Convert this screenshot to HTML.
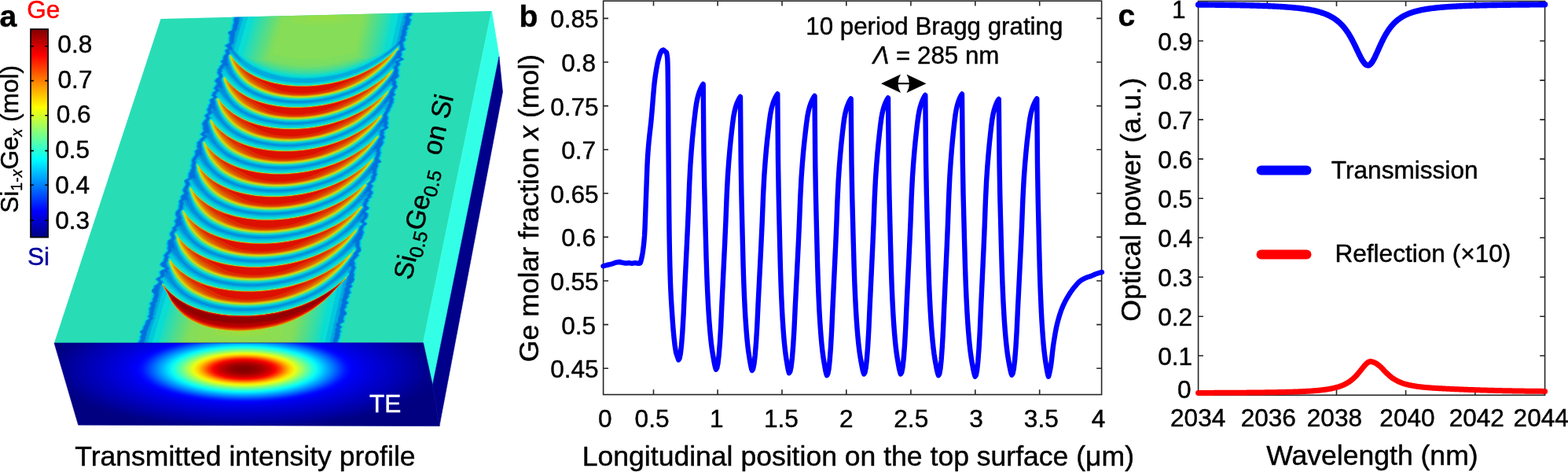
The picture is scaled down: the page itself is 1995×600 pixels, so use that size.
<!DOCTYPE html>
<html><head><meta charset="utf-8"><title>Figure</title>
<style>html,body{margin:0;padding:0;background:#fff;overflow:hidden}svg{display:block}</style>
</head><body>
<svg width="1995" height="600" viewBox="0 0 1995 600">
<rect width="1995" height="600" fill="#fff"/>
<defs>
<clipPath id="topc"><polygon points="204.5,24 625.5,14 538.5,435.7 69,436"/></clipPath>
<clipPath id="wgc"><polygon points="299.4,8 529.6,8 432.1,442 171.5,442"/></clipPath>
<linearGradient id="cbg" x1="0" y1="0" x2="0" y2="1"><stop offset="0.0000" stop-color="#800000"/><stop offset="0.0625" stop-color="#bf0000"/><stop offset="0.1250" stop-color="#ff0000"/><stop offset="0.1875" stop-color="#ff4000"/><stop offset="0.2500" stop-color="#ff8000"/><stop offset="0.3125" stop-color="#ffbf00"/><stop offset="0.3750" stop-color="#ffff00"/><stop offset="0.4375" stop-color="#bfff40"/><stop offset="0.5000" stop-color="#80ff80"/><stop offset="0.5625" stop-color="#40ffbf"/><stop offset="0.6250" stop-color="#00ffff"/><stop offset="0.6875" stop-color="#00bfff"/><stop offset="0.7500" stop-color="#0080ff"/><stop offset="0.8125" stop-color="#0040ff"/><stop offset="0.8750" stop-color="#0000ff"/><stop offset="0.9375" stop-color="#0000bf"/><stop offset="1.0000" stop-color="#000080"/></linearGradient>
<radialGradient id="modeg" gradientUnits="userSpaceOnUse" cx="0" cy="0" r="260.0" gradientTransform="translate(310.7 469.3) scale(1 0.31)"><stop offset="0.0000" stop-color="#800000"/><stop offset="0.0250" stop-color="#840000"/><stop offset="0.0500" stop-color="#8d0000"/><stop offset="0.0750" stop-color="#9c0000"/><stop offset="0.1000" stop-color="#b40000"/><stop offset="0.1250" stop-color="#d10000"/><stop offset="0.1500" stop-color="#f80000"/><stop offset="0.1750" stop-color="#ff3b00"/><stop offset="0.2000" stop-color="#ff8b00"/><stop offset="0.2250" stop-color="#ffd100"/><stop offset="0.2500" stop-color="#ecff13"/><stop offset="0.2750" stop-color="#b0ff4f"/><stop offset="0.3000" stop-color="#77ff88"/><stop offset="0.3250" stop-color="#41ffbe"/><stop offset="0.3500" stop-color="#0ffff0"/><stop offset="0.3750" stop-color="#00dfff"/><stop offset="0.4000" stop-color="#00b2ff"/><stop offset="0.4250" stop-color="#0089ff"/><stop offset="0.4500" stop-color="#005fff"/><stop offset="0.4750" stop-color="#0035ff"/><stop offset="0.5000" stop-color="#0011ff"/><stop offset="0.5250" stop-color="#0000fc"/><stop offset="0.5500" stop-color="#0000f0"/><stop offset="0.5750" stop-color="#0000e7"/><stop offset="0.6000" stop-color="#0000e0"/><stop offset="0.6250" stop-color="#0000d9"/><stop offset="0.6500" stop-color="#0000d2"/><stop offset="0.6750" stop-color="#0000cb"/><stop offset="0.7000" stop-color="#0000c4"/><stop offset="0.7250" stop-color="#0000be"/><stop offset="0.7500" stop-color="#0000b7"/><stop offset="0.7750" stop-color="#0000b1"/><stop offset="0.8000" stop-color="#0000aa"/><stop offset="0.8250" stop-color="#0000a3"/><stop offset="0.8500" stop-color="#00009c"/><stop offset="0.8750" stop-color="#000094"/><stop offset="0.9000" stop-color="#00008d"/><stop offset="0.9250" stop-color="#000087"/><stop offset="0.9500" stop-color="#000084"/><stop offset="0.9750" stop-color="#000081"/><stop offset="1.0000" stop-color="#000080"/></radialGradient>
<filter id="blr" x="0" y="0" width="100%" height="100%" filterUnits="userSpaceOnUse" color-interpolation-filters="sRGB"><feGaussianBlur stdDeviation="0.7"/></filter>
</defs>
<polygon points="204.5,24 625.5,14 538.5,435.7 69,436" fill="#28ddb5"/>
<g clip-path="url(#topc)"><g clip-path="url(#wgc)"><g filter="url(#blr)">
<polygon points="299.4,8 529.6,8 432.1,442 171.5,442" fill="#0052dd"/>
<path d="M559.5 441.5 150 441.5 150 8 559.5 8 559.5 441.5Z" fill="#0070dd" fill-rule="evenodd"/>
<path d="M176.5 441.5 150 441.5 150 8 303.5 8 303.8 9 303.6 9.5 300.5 11.5 300.3 12 302.2 13.5 302.6 14 302.6 14.5 301 16.4 300.9 18 299 22 298.7 24 297.9 25.5 298.6 28 298.2 30 296.7 32.5 297.2 34.5 296.5 36 296.5 37.5 295.7 38.5 291.6 40.5 290.8 41.5 293.2 44.5 293 47 292.4 49 292.9 50.5 292.5 52.5 293.1 54 292.1 55 288.1 57 287.5 58 288.3 59 290.4 60.5 290.9 61.5 287.3 64 288.4 68 285.5 71 284.8 73 284.7 75.5 281.8 78 281.9 78.5 283.6 80 283.9 81 280.4 84.5 279.9 86.5 277.7 88.5 278.1 90.5 277.2 92.5 278.6 94.5 279.6 97 279.1 98 275.8 100.5 274.2 102.5 274.3 103.5 276.4 105.5 276.7 106.5 274.6 110 272.9 112 273.2 113 274.9 114.5 275 115 274.5 115.7 271.5 117.5 271.1 119.5 270.1 121 270.3 121.5 272.6 123.5 272 124.2 267.9 126.5 267.7 127 268.7 131 268.1 132 266.5 133.5 266.3 134 266.5 136 264.2 139 264.3 140 265.4 142 265.4 143.5 261.9 146 261.4 147 261.6 148 263.3 149.5 263.4 150.5 260.4 153.5 258.2 157 258.1 158 259.2 160 259.1 164 260.1 166 259.5 167 256 170.7 256.5 171.5 259.1 173 259.5 174 255.6 176.5 255 178.5 251.7 181 251.9 184.5 251.1 186.5 252.2 188 252.2 189 251.5 190 248.9 192 248.8 192.5 249.4 194.5 249 197.5 246.1 201 244.8 204 245.3 207 244.1 210.5 244.8 213 244.7 214 243 216 242.8 218 240.9 220.5 240.9 226 239.8 227 235.9 229 235.2 230 236.5 232 237.3 234.5 235.5 238 234 240 233.7 241 233.6 243 235.3 245.5 234.6 246.5 231.4 249 230.8 250.5 231.4 253 228.3 255.5 229.3 258.5 228.3 262 228.7 265 224.8 269 224.1 272 224.8 274.5 226.1 276.5 225.3 278 222.6 281 224.4 283.5 224 286 223 287.4 220.1 289.5 220.7 291.5 220.5 292 217.1 296.5 217.2 298.5 218.9 301.5 219.1 302.5 218.3 303.5 215.2 305.5 214.3 306.5 214.5 308 213.7 310 214.8 312.5 213.6 315.5 214.7 318.5 209.3 324.5 209.4 325.5 210.6 327 209.3 329 209.3 331 208.2 332.5 205.6 334.5 205 335.5 205 336.5 205.7 338 207 339 210.2 340.5 210.7 341 210.7 341.5 205.6 344 204.5 345 204 346 204.9 348 205 351 200.7 353.5 200 354 199.6 355 200.1 356 202.7 358 202.8 359 201.1 361 196.8 363.5 197 366 193.3 369 193.4 370 196.4 373 197 374 196.4 377.5 194.9 380 195.2 382.5 192 385 191.5 386 192.8 388 193 389 190.5 392.8 191.4 395 190.5 397 191.2 399.5 188.8 402 190.7 404.5 190 405.5 187.5 407 186.6 408 186 411 184.5 414 183 416.1 182.9 418.5 178.9 421.5 178.9 422 181 424.5 180.5 426 179.3 428 179.6 431 175.2 437.5 176.5 441.5ZM422.5 441.5 181.3 441.5 181.3 438 184.5 430.5 184.7 428 186 424.5 185.9 421.5 187.8 418.5 188.3 416 190.5 411 191.2 408 194.6 404.5 193.3 402 195.2 399.5 194.9 397 195.7 395 195.4 393 197.3 389 197.1 385.5 199.5 382.5 199.5 380 200.9 377 201.5 374 201 371.5 201.2 369.5 202.7 366 203.4 363 205.5 361 205.7 359.5 206.2 359 206.2 358 204 356.4 203.1 354.5 204.2 353.5 208.8 351 209.4 348 208.5 346.5 209 345.8 210.5 346 213 348.5 213.5 348.1 212.8 344 213.2 343 214.7 341.5 214.7 341 211.7 338.5 210.6 335.5 210.7 334.5 212.8 331 212.7 329 213.8 327.5 213.9 327 212.6 325 212.7 324.5 214.9 322.5 216.3 320.5 219 318.5 219.2 318 218.2 316 218.5 315.3 219.5 315.3 222 317.7 222.5 317.8 222.6 317.5 221.9 313 220.2 306.5 220.4 305.5 222.3 303 222.5 302 221 299 220.5 297.5 220.6 296.5 224 292 224.1 291 223.5 290 224 289 228.5 286.8 229.5 286.7 231 287.2 231.6 287 231.3 284 230.1 280.5 230.5 276.5 228.8 272 228.8 269 229.5 267.6 232.2 265 231.8 262 232.9 258.5 232.7 257.5 231.8 256 232.3 255 235 253.9 236.5 253.7 237.8 254.5 240 257 240.2 256.5 238.4 249 238.5 248 239.5 245.5 238.1 243 237.9 241 238.3 239 240.8 234.5 240 232 238.7 230 238.8 229.5 240.3 228.5 245.5 226.3 246.5 226.2 249 227.2 249 225.9 247.6 220 247.6 216 248.4 214 247.7 210.5 248.6 207 248.2 204 249.9 200.5 254 196.4 255 196.6 257 198.2 257.5 198.3 257.6 198 256.2 192 256.8 188.5 255.8 186.5 256.1 184.5 255.5 181 256 180.2 258.3 178.5 259.1 176.5 263.3 174 263.4 173.5 262.9 173 259.6 171 260 170 262 168.9 263.5 168.6 266 169.5 266.1 166 263.6 156.5 264.3 153.5 266.5 150.8 266.8 150 265.1 148 264.8 147 265.3 146 269 143.5 269 142 267.8 139.5 268 138.8 268.8 138 270 137.5 271 137.5 271.8 138 274 140.7 274.5 140.6 273.1 134 273.3 131 272.3 126.5 273.1 125.5 275.6 124 275.8 123.5 273.7 121.5 273.5 121 274.8 119 275 117.5 278.9 115 278.9 114.5 276.5 112.5 277 111.6 278.5 110.9 279.5 110.8 280.8 111.5 282.5 113.3 282.6 113 281.8 106 280.2 102.5 280.7 100 282.5 98 282.9 97 282 94.5 280.7 92.5 281.5 90.5 281.1 88.5 283.4 86.5 283.9 84.5 286 83.3 288 83.5 290 85.8 290.5 86 290 81 288.7 77.5 289.3 75.5 289 73 289.2 71 289.8 70 291.4 68.5 291.9 67.5 290.7 64 292 63.1 295 62.9 295.5 62.4 295.6 61.5 295.1 60.5 293.3 58 294.2 56.5 296.3 55 297.1 54 296.7 52.5 297.2 50.5 297.1 49 298.1 44.5 297.9 41.5 298.6 40 300.3 38.5 300.9 37.5 301 36 301.7 34.5 301.6 32.5 302.8 30 303.3 28 303.3 25.5 306.3 16 307.2 14.5 306.7 12 308.5 9.5 308.6 8 518.8 8 518.8 10 519.8 13 519.3 14.5 517.8 16.5 517.9 19 515.5 22 515.7 23 516.8 25 515.5 29 515.4 31 513 34 513.6 36.5 511.8 39 512.1 41 511.5 44.5 509.8 47.5 510.4 49.5 510.2 50 506.3 55 506.2 55.5 506.5 55.6 508 55.5 508.7 56 509.5 59 509.6 62.5 509 63.5 506 65.8 504.7 70 499 79 500.1 78.5 503.5 74.5 505 73.6 507.5 73.9 509 74.8 509.4 75.5 507.9 76.5 503 78.5 502.9 79 504.4 80.5 504.7 81.5 504.1 83 501.5 85.5 502.3 88 502 90.5 500.8 93 500.1 95.5 496 101 493.8 105 497 103 498 102.8 499 103.3 499.9 104.5 499.5 107 500.6 109 500.7 110 499.8 112 497.8 114 497.1 116 496 118 495.9 120 493.6 123 492.3 125.5 487.6 132.5 488 132.6 488.5 132.1 493.9 126.5 495 125.8 496 125.8 496.5 126.4 495.9 128.5 496.4 130.5 494.3 133 493.9 135.5 492.5 137.7 491.6 140.5 488 145.8 488.4 148.5 487.1 151.5 481.3 161 481.5 161.1 482.5 160.3 486.8 156 488.5 155.5 489.1 156 489.1 156.5 488 160 489.7 161.5 489.9 162.5 485.9 165 483.9 167 483.8 167.5 484.8 169 483.6 171 484.3 173 484.1 174.5 481.5 178 480.6 181 474.5 190 474.5 190.5 477.5 189 479 189.5 479.6 190.5 479 192 480.3 194.5 479.5 196 478.9 198.5 477.4 201 477.7 204.5 477.3 205.5 474.5 208.5 473.4 211 468.2 219 468.5 219.1 472 216.2 473.5 215.8 474.8 217 474.3 219.5 475.6 221.5 473.7 224.5 473.3 227.5 471.6 230.5 467.8 233.5 469 235.5 468.8 236.5 466.4 240 464.9 243.5 461.5 248.5 461.5 249 467 243.9 468.5 243.6 469.5 244 469.9 244.5 469.5 246.5 467.6 248.5 468.1 250.5 464.7 253 464.3 254 464.9 255.5 464.7 256 463 257.5 462.8 258 463.1 259 462.1 261 463.6 263 463.6 264.5 462.1 266.5 460 268.5 459.8 271 454.8 278.5 455 278.7 456 277.9 461.5 272.6 462.5 272.1 463 272.4 463.6 275 463.3 276 461.8 278 459.5 280 459.1 281 459.5 282 462.2 284 462.2 285 458.5 288 458.2 289.5 457.3 291 456.5 295.5 447.9 309 448 309.2 450.5 307.7 451.5 307.4 453 308.6 453.4 309.5 452.9 312 454.4 315.5 454.3 318 453.5 319.5 450.8 322 450.6 324.5 445.4 331 444.3 334.5 440.9 340 444 338.1 445.5 337.7 447.5 339 448.1 340.5 445.5 346 445.6 347 444.3 349 443.3 353 442.9 356.5 440.8 361.5 441 364.5 439.2 367 439.3 372 437.6 375 437.4 378 435.6 381 435.6 382 436.3 385 434.6 387.5 434.8 390 433.1 393 433 394.5 433.5 398 433.2 399.5 431.6 403 431 406 430.9 409 430.3 410 427.5 412.5 428.9 415.5 428.5 416.5 427.1 418.5 427.6 421.5 426.5 424 426.5 426.5 423.6 435.5 423.8 437.5 421.7 440 422.9 441.5 422.5 441.5ZM559.5 441.5 427.8 441.5 426.1 440.5 425.8 440 428.9 437.5 428.1 435.5 429.2 433.5 429.5 431.5 430.6 430 430.7 428.5 431.7 426.5 431.1 424 432.8 421.5 432.7 420.5 431.4 419 431.4 418.5 433.5 416.5 434 415.5 431.6 413 431.5 412.5 432.5 411.5 435.7 410 436.9 409 436 406 436.7 402.5 437.3 401.5 439.8 399.5 440.3 398.5 439.9 397.5 437.8 395 437.5 393.5 437.8 392.5 440.1 390 439.2 388 439.3 387.5 442.3 385.5 442.6 385 440.3 382.5 440 381 442.8 377.5 442.5 375 442.7 374.5 445.5 372.5 445.8 372 444.3 370 443.9 367 447.2 364.5 447.2 363.5 445.9 362 445.7 361 447.4 359.5 450.3 356 450.1 355 449 353 450.1 348.5 448.9 346.5 449.9 344.5 450.4 342.5 451.6 340.5 451.4 339.5 450.2 337.5 450.9 334.5 449.7 332.5 449.5 331.5 450.8 329.5 455.3 325 455.6 324 454.6 322.5 454.6 322 458 319.5 458.7 318.5 458 315.7 456.4 312 457 309.5 456.6 306.5 457.1 305.5 459.5 303 459.6 301 460.6 299.5 461 297.5 461.9 296 462 295.3 461 293.5 460.7 291.5 462 288 462.9 287 466.2 285 466.3 284.5 465.9 284 463.5 282.5 462.7 281 463.1 280 466 277.2 467.1 275 467.2 271.5 464.5 269.5 464.1 269 464.2 268.5 467.5 266 468.6 264.5 468.3 263.5 466.1 262 465.3 261 466.2 259.5 466.4 257.5 468.4 255.5 467.9 253.5 471.6 250.5 471.1 248.5 473 246.5 473.5 245.1 473.3 244 471.1 241.5 471.6 239.5 473.5 237 473.6 236 471.3 234 471.1 233.5 475.3 230.5 476.8 227.5 477.1 224.5 478.9 222 479 221.5 477.8 219.5 477.8 219 478.5 217.5 478.2 215 480.3 211.5 479.6 208.5 480.5 207.8 484.6 206 484.8 205.5 481.8 203 480.8 201 482.4 198.5 482.8 196 483.7 194.5 483.7 194 482.6 192 483.1 190.5 482.6 188.5 486 183.5 487.1 181 487 180 486 178 488.7 175 488.5 173.5 486.9 171 488.2 169 487.3 167.5 487.3 167 489.4 165 493.3 162.5 493.1 161.5 491.6 160 493 156 491.8 153.5 492.7 151.5 492.8 149 491.3 146 495 140.5 495.7 138 497.3 135.5 497.8 133 499.9 130.5 499.4 128.5 500.2 126 499.1 124 499.1 123 502 120.5 502.2 120 500.5 118.5 500.3 117.5 501.2 116 501.4 114 503.8 112 504.5 111 504.4 109.5 503 107 503.4 104.5 502.1 101.5 502.7 100.5 505.3 98.5 506.9 96 505.4 93.5 506.1 90 504.9 85.5 508 82 508.1 81 506.9 79.5 506.7 79 506.9 78.5 511.4 76.5 512.8 75.5 512.1 74.5 509.1 72.5 509.2 71.5 510.3 70 509.7 66 510.7 65 514.7 63 514.7 62.5 513.1 60.5 511.7 54 514.4 52 515.1 51 514.9 49.5 513.9 47.5 514.3 46.5 516.1 44.5 516 43 516.5 41 515.9 39.5 516 39 518.4 36.5 517.3 34.5 517.3 33.5 520.8 31 520.4 29 522.4 25.5 521.9 24.5 519.9 23 519.6 22 520.4 21 523.1 19 523.3 18.5 522.4 16.5 526 13.5 525.7 12.5 523.5 10.5 522.9 9 522.9 8 559.5 8 559.5 441.5Z" fill="#008edd" fill-rule="evenodd"/>
<path d="M175.5 441.5 150 441.5 150 8 302.8 8 303.1 9 302.8 9.5 299.7 11.5 299.5 12 301.4 13.5 301.9 14 301.8 14.5 300.4 16 300.2 18 298 22.5 297.9 24 297.2 25.5 297.9 28 297.2 30.5 296 32.5 296.5 34.5 295.7 36 295.7 37.5 295 38.5 290.9 40.5 290.1 41.5 292.5 44.5 292.3 47 291.7 49 292.2 50.5 291.7 52.5 292.3 54 291.4 55 287.4 57 286.7 58 287.5 59 289.6 60.5 290.1 61.5 286.5 64 287.7 68 284.8 71 284.1 73 284 75.5 281 78 281.1 78.5 282.8 80 283.2 81 279.6 84.5 279.1 86.5 276.9 88.5 277.4 90.5 276.4 92.5 277.9 94.5 278.8 97 278.4 98 275.1 100.5 273.5 102.5 273.6 103.5 275.7 105.5 275.9 106.5 273.9 110 272.2 112 272.4 113 274.2 114.5 274.3 115 274 115.5 270.7 117.5 270.4 119.5 269.4 121 269.5 121.5 271.9 123.5 271.5 124 267.1 126.5 267 127 267.9 130.5 267.8 131.5 265.7 133.5 265.5 134 265.7 136 263.5 139 263.6 140 264.6 142 264.7 143.5 261.2 146 260.7 147 260.9 148 262.5 149.5 262.7 150.5 259.7 153.5 257.4 157 257.4 158 258.4 160 258.4 164 259.4 166 257.4 168.5 255.2 170.5 255.8 171.5 258.3 173 258.8 174 254.9 176.5 254.2 178.5 250.9 181 251.2 184.5 250.3 186.5 251.4 188 251.5 189 250.7 190 248.2 192 248 192.5 248.7 194.5 248.2 197.5 245.3 201 244.1 204 244.5 207 243.4 210.5 244 213 244 214 242.3 216 242 218 240.2 220.5 239.9 223.5 240.1 226 239 227 235.2 229 234.5 230 235.8 232 236.6 234.5 234.7 238 233.2 240 232.9 241 232.9 243 234.5 245.5 233.9 246.5 230.6 249 230.1 250.5 230.7 253 227.5 255.5 228.6 258.5 227.6 262 227.9 265 224 269 223.4 272 224.1 274.5 225.3 276.5 224.6 278 221.8 281 223.7 283.5 223.2 286 222.2 287.5 219.3 289.5 220 291.5 219.8 292 216.3 296.5 216.4 298.5 218.1 301.5 218.3 302.5 217.5 303.5 214.4 305.5 213.5 306.5 213.7 308 212.9 310 214 312.5 212.8 315.5 214 318.5 208.6 324.5 208.6 325.5 209.8 327 208.6 329 208.5 331 207.5 332.5 204.9 334.5 204.2 335.5 204.2 336.5 205 338 206.3 339 209.4 340.5 210 341 209.9 341.5 204.9 344 203.8 345 203.3 346 204.1 348 204.3 351 199.9 353.5 199.3 354 198.8 355 199.4 356 202 358 202 359 200.3 361 196 363.5 196.2 366 192.6 369 192.6 370 195.7 373 196.2 374 195.7 377.5 194.1 380 194.5 382.5 190.9 385.5 191 386.5 192 388 192.2 389 189.8 392.5 189.9 393.5 190.7 395 189.8 397 190.4 399.5 188.1 402 190 404.5 189.3 405.5 186.8 407 185.8 408 185.2 411 183.7 414 182.3 416 182.2 418.5 178.2 421.5 178.2 422 180.3 424.5 179.8 426 178.5 428 178.9 431 174.5 437.5 174.6 438.5 175.9 441.5 175.5 441.5ZM390 128.5 375.5 128.8 361 127.7 347 125.3 334.5 121.8 323.5 117.2 314 111.8 310 108.9 305.5 104.9 301.8 101 299.2 97.5 295.7 91.5 292.8 84.5 290.5 77.5 290 72 290.6 70 292.9 68 292.8 66 292 64.5 292.3 64 292.9 64 301 72.9 305.5 76.6 308.6 78.5 298.8 66.5 296.3 62.5 296.3 61 295.4 59.5 295.3 58.5 296 56.5 298.5 54 298.2 52.5 298.7 50.5 298.6 49 299.7 45 300 42 300.6 40 302.4 37.5 303.2 34.5 303.3 32.5 304.8 28 305.1 25.5 308 16 308.8 14.5 308.8 12 310.1 9.5 310.4 8 517.3 8 517.8 13 517.4 14.5 516.3 16.5 516.2 19 514.1 22 514.2 23 515 24.5 514.9 25.5 513.8 29 513.5 31.3 511.6 34 512 36.5 510.4 39 510.6 41 510 44.5 508.5 47 508.8 49.5 508.5 51.5 505 55.7 499.5 61.2 484.9 73.5 488.6 71.5 494.5 67.5 499.5 63.6 505.5 58.1 507 57.3 508.5 58 508.7 58.5 508.5 62.5 507.4 64 505.4 65.5 503.4 70 496.2 79.5 490.6 86 485.5 91.2 476.5 98.8 465.5 106.2 455 111.9 442.5 117.3 431 121.2 417.5 124.7 403.5 127.2 390 128.5ZM559.5 441.5 428.6 441.5 426.8 440.5 426.6 440 429.6 437.5 428.8 435.5 430 433.5 430.3 431.5 431.3 430 431.4 428.5 432.4 426.5 431.9 424 433.6 421.5 433.4 420.5 432.2 419 432.1 418.5 434.3 416.5 434.7 415.5 432.3 413 432.2 412.5 433.2 411.5 436.4 410 437.6 409 436.8 406 437.4 402.5 438.1 401.5 440.5 399.5 441 398.5 440.7 397.5 438.6 395 438.2 393.5 438.6 392.5 440.9 390 439.9 388 440 387.5 443.1 385.5 443.3 385 441 382.5 440.7 381 443.6 377.5 443.2 375 443.4 374.5 446.3 372.5 446.5 372 445.1 370 444.6 367 448 364.5 447.9 363.5 446.6 362 446.5 361 448.2 359.5 451 356 450.9 355 449.8 353 450.8 348.5 449.7 346.5 450.7 344.5 451.2 342.5 452.3 340.5 452.1 339.5 450.9 337.5 451.7 334.5 450.4 332.5 450.3 331.5 452 329 456.1 325 456.3 324 455.3 322.5 455.3 322 458.8 319.5 459.4 318.5 458.7 315.5 457.2 312 457.7 309.5 457.4 306.5 457.9 305.5 460.2 303 460.3 301 461.3 299.5 461.7 297.5 462.7 296 462.7 295 461.8 293.5 461.5 291.5 462.7 288 463.7 287 466.9 285 467 284.5 466.6 284 464.3 282.5 463.4 281 463.8 280 466.6 277.5 467.9 275 467.9 271.5 465.2 269.5 464.9 269 465 268.5 468.3 266 469.4 264.5 469.1 263.5 466.9 262 466.1 261 467 259.5 467.2 257.5 469.1 255.5 468.6 253.5 472.4 250.5 471.9 248.5 473.7 246.5 474.2 245.5 474.1 244 471.8 241.5 472.4 239.5 474.2 237 474.4 236 472 234 471.9 233.5 476.1 230.5 477.6 227.5 477.8 224.5 479.6 222 479.6 221 478.8 220 478.6 219 479.2 217.5 478.9 215 481 211.5 480.4 208.5 481.8 207.5 484.5 206.5 485.3 206 485.5 205.5 483 203.5 481.7 201.5 481.8 200.5 483.2 198.5 483.6 196 484.4 194.5 484.4 194 483.3 192 483.8 190.5 483.3 188.5 486.5 184 487.8 181 487.8 180 486.7 178 489.4 175 489.2 173.5 487.6 171 488.9 169 488 167.5 488.1 167 490.1 165 494.1 162.5 493.8 161.5 492.3 160 493.7 156 492.6 153.5 493.5 151.5 493.6 149 492.1 146 495.7 140.5 496.4 138 498 135.5 498.6 133 500.6 130.5 500.2 128.5 501 126 499.8 124 499.8 123 502.8 120.5 502.9 120 501.3 118.5 501 117.5 501.9 116 502.1 114 504.6 112 505.2 111 505.2 109.5 503.7 107 504.2 104.5 502.9 101.5 503.4 100.5 506 98.5 507.6 96 506.1 93.5 506.1 92.5 506.9 90.5 506.5 88 505.7 85.5 508.2 83 508.9 81.5 508.6 80.5 507.4 79 507.6 78.5 512.2 76.5 513.6 75.5 512.9 74.5 509.9 72.5 510 71.5 511.1 70 510.5 66 511.5 65 515.4 63 515.4 62.5 513.8 60.5 512.5 54 515.1 52 515.8 51 515.7 49.5 514.6 47.5 516.8 44.5 516.7 43 517.3 41 516.6 39.5 516.7 39 519.1 36.5 518.1 34.5 518.1 33.5 521.5 31 521.2 29 523.1 25.5 522.6 24.5 520.6 23 520.4 22 521.2 21 523.8 19 524 18.5 523.2 16.5 525.9 14.5 526.7 13.5 526.5 12.5 524.2 10.5 523.6 8 559.5 8 559.5 441.5ZM505 77 504.1 77 504.1 76.5 505.5 74.8 507 74.4 508 75 508.2 75.5 507.7 76 505 77ZM378 156 368.5 156 357 155.3 348 154.2 338 152.2 329 149.7 320 146.3 311.5 142.2 305 138.2 299.5 133.8 294.2 128.5 290.2 123 287.3 117.5 284.7 111 281.8 102 281.8 100 283.3 98 283.6 97 282.7 94.5 281.5 92.5 281.8 91.5 282.7 90.5 282.2 88.5 285.5 86 286.5 86.1 294.5 97.3 306.4 109 310.9 112.5 315.5 115.5 321.1 118.5 327.7 121.5 334.5 124 341.1 126 355.7 129 370.5 130.5 386 130.6 400.1 129.5 417.9 126.5 433 122.5 448 117 459.7 111.5 470 105.5 476.6 101 488.5 92 494 87.1 500.7 80.5 502 80 503 80.4 503.5 81 503.5 82 503 82.8 500.4 85.5 500.6 86.5 501.4 87 501.6 87.5 501.4 90 498.9 95 487.7 109.5 482 115.7 475 122.2 467 128.3 458.5 133.8 450.5 138.1 440.5 142.7 430 146.7 420 149.7 409.5 152.3 398.5 154.2 389 155.3 378 156ZM378 183.5 367.5 184 356 183.7 345 182.7 333.5 180.8 323.5 178.2 315 175.3 307 171.8 299 167.3 292.5 162.4 286.4 156.5 282.7 151.5 279.3 145.5 275 134 274.5 130.7 273.4 127 273.5 126 276.5 123.5 277.1 123.5 274.9 122 274.3 121 275.7 119.5 276.1 117.5 278.5 116.3 280.5 116.4 287 125 295.5 133.5 299.5 137 304.2 140.5 309 143.5 314.9 146.5 321.9 149.5 334.4 153.5 349.7 156.5 358.8 157.5 367 158 382 157.8 399.2 156 414.7 153 430.3 148.5 445.6 142.5 457.5 136.5 468.5 129.5 484.3 117.5 497 105.2 498 104.8 498.5 105 498.3 107 499.8 109 499.6 111 496.9 114 494.5 120 486.8 130.5 479.3 139.5 472 146.9 465 152.8 456.5 158.8 448 163.9 439 168.3 429.5 172.3 419.5 175.8 409 178.7 399.5 180.7 390 182.3 378 183.5ZM368 212.5 357 212.8 345.5 212.3 335 211.2 324.5 209.3 314.5 206.7 306 203.7 298.5 200.3 291 196.1 285 191.7 279.4 186.5 275.6 182 272.2 176.5 268.8 168.5 265.1 157 265.2 153.5 267.5 150 268 150 265.8 148 265.6 147 267.2 145.5 270.5 143.8 272 143.9 279.5 153.4 287.7 161.5 293 166 298 169.5 304.2 173 310.6 176 318.6 179 331.3 182.5 346.8 185 363 186 378.2 185.5 394.9 183.5 411.5 180 427.6 175 443 168.5 449.8 165 456.5 161 470 151.5 476.5 146.5 481.5 142.1 493 130 494 129.4 495 129.9 494.9 131 492.8 133.5 492.7 135.5 491.2 138 490.9 139 491.2 139.5 490.9 140.5 487.2 146 487.5 148 487.2 149 483.7 154.5 479.1 160.5 472 169 464.5 176.4 458 181.8 449.5 187.7 441 192.7 433 196.7 422 201.3 412 204.7 401 207.7 391 209.8 378 211.7 368 212.5ZM358.5 241.5 348 241.7 337.5 241.2 328 240.2 317 238.3 308.5 236.2 299.5 233.2 291.5 229.8 284 225.8 278 221.6 272.5 216.8 268.1 212 264.7 207 261.7 201 258.2 191.5 257.9 188.5 257 186 256.4 181.5 256.7 180.5 258.5 178.9 259.5 178.5 260 176.9 260.9 176 263.5 175 265.1 175 270.5 181.5 278.1 189 282.5 193 287 196.5 292.6 200 299.5 203.5 306.8 206.5 314.2 209 326.6 212 340.3 214 354.5 214.8 369 214.5 386.8 212.5 401.9 209.5 417.3 205 431.4 199.5 444.5 193 456.9 185 472 173.5 479 167 485 160.6 486.5 160.2 488.9 162 488.5 163 484.7 165 482.7 167 483 168 484.1 169 482.9 171 483.4 173 483.1 174.5 480.5 178 479.6 180 477.9 182.5 468.4 194.5 462.5 200.9 455.5 207.4 448.5 212.7 441 217.7 433 222.2 423.5 226.7 413.5 230.7 402.5 234.3 391 237.2 380.5 239.2 369.5 240.7 358.5 241.5ZM344.5 271 333.5 270.8 322.5 269.8 312 268.2 303 266.2 293.5 263.3 286 260.3 277 255.8 271 251.9 265 246.9 259.9 241.5 255.8 235.5 252.8 229 249.5 220 248.8 216 249.4 213.5 248.7 210.5 249.4 206.5 249.5 205.5 249 205 250.8 201 252.5 199.6 254 199.7 261.5 209.7 273.7 221.5 278.3 225 282.9 228 288.5 231 295.2 234 308.4 238.5 322.2 241.5 329.1 242.5 340.5 243.5 356 243.6 371.5 242.5 389.8 239.5 405.3 235.5 419.5 230.5 433.8 224 446.5 216.5 463.5 204 476 192.5 477.5 192.2 479 193.8 479.1 194.5 478.3 196 478.6 196.5 478.2 198.5 476.6 201 476.7 203 476 205 467.6 216.5 460.6 225 454.5 231.4 448 237.2 439 243.8 431 248.8 421.5 253.8 411 258.3 400 262.2 389.5 265.2 378 267.7 368 269.3 355 270.6 344.5 271ZM347 300.5 336 300.9 324.5 300.6 311.5 299.3 300 297.3 290 294.7 281.5 291.8 272.5 287.7 264.5 283.1 258 278.1 252.3 272.5 248.2 267 245.2 261.5 240.6 249 240.3 247.5 240.5 245.5 239.1 242 239.1 239.5 240.4 236.5 241.5 235.5 241.9 234.5 241.1 232 240 230.5 240 229.5 242.8 228 245 228 249.5 234.6 253 239 265 250.5 269.5 254 274.9 257.5 280.6 260.5 287.4 263.5 300.9 268 315.1 271 322.4 272 332.5 272.8 349.3 273 367 271.5 384.2 268.5 399.3 264.5 414.5 259 422.5 255.5 429.4 252 437 247.5 443 243.5 458.9 231.5 471 219.8 472.5 219.3 474.2 221 474.3 222 472.8 224 472.1 228 470.3 231 467.1 233.5 468 235.5 467.7 236.5 462.9 243.5 456.2 252 450 258.9 442.5 265.9 435.5 271.3 428 276.3 420 280.9 411 285.2 401 289.2 390.5 292.8 379.5 295.7 369.5 297.8 357 299.6 347 300.5ZM339 330.5 326.5 330.9 314 330.4 303 329.2 291.5 327.2 280.5 324.3 271 320.8 261.5 316.3 254 311.7 247.2 306 241.6 300 237.8 294 234.1 285.5 232 279.5 231.7 276.5 230.1 272 229.8 269.5 230.2 268 233.2 265 232.9 262 234.5 258 234.4 257.5 233.3 256 233.5 255.6 234.5 255.4 235 255.8 235.8 257.5 243.5 267.9 255.4 279.5 264.1 286 274.5 291.5 281.9 294.5 289.4 297 297 299 304.5 300.5 320.3 302.5 329.8 303 339.4 303 349.1 302.5 358.9 301.5 376.5 298.5 393.3 294 408.4 288.5 421.2 282.5 433 275.5 451.3 262 461.2 253 464.5 249.4 466 249.1 466.8 250 466.6 251 464.1 252.5 463.1 253.5 463.8 255.5 461.9 257.5 461.9 259 462.2 259.5 461.4 261 462.8 263 462.7 264 459 268.5 458 271 452.2 278.5 445 286.9 438 293.8 430.5 299.8 422.5 305.3 414 310.2 404.5 314.8 393.5 319.3 383 322.8 372 325.7 362 327.8 349 329.6 339 330.5ZM460 278.1 459.3 278 461 276.1 461.3 276.5 460 278.1ZM332 361 320.5 361.5 309 361.2 298 360.2 285.5 358.2 275 355.7 264.5 352.2 255.5 348.2 247.5 343.7 240.5 338.3 234.1 332 229.9 326 226.7 319.5 222 306 222.2 304.5 223.5 302.5 221.8 298.5 221.6 296.5 222.5 295 223.2 294.5 225.2 292 225.4 291.5 224.9 289.5 225.5 288.9 227 288.6 228.3 289 232.5 295 236 299.1 245.2 308 250 312 258.3 317.5 268.6 322.5 281.4 327 289.1 329 296.6 330.5 312.9 332.5 330.5 333 346.5 332 363.8 329.5 380.9 325.5 396 320.5 411.1 314 418.6 310 425.1 306 443.1 293 456 281.4 457.5 281.1 458.9 282.5 461.3 284 461.4 285 457.8 288 456.4 291 455.6 294.5 454.8 296 446.3 307.5 438.5 316.8 433 322.4 427.5 327.2 420 332.7 412 337.8 404 342.2 394 346.8 383.5 350.8 374 353.8 364.5 356.3 354.5 358.3 341.5 360.2 332 361ZM318.5 392.5 308 392.6 297 392.1 285 390.8 274 388.8 264.5 386.3 255.5 383.2 246.5 379.3 239.5 375.4 233 370.7 226.8 365 223.1 360.5 219.7 355 215.2 344 215 343 215.6 341 213.5 338.5 212.3 335 212.5 333.5 213.7 331 213.5 329 215.1 327 213.4 325 217.5 320.8 218.5 320.4 219.7 320.5 227.5 330 236.9 339 242.5 343.5 248.6 347.5 254.3 350.5 261 353.5 269.3 356.5 282.4 360 298 362.5 313.5 363.6 330 363.3 347.9 361.5 364.1 358.5 380.4 354 389 351 397.5 347.5 409.8 341.5 421.1 334.5 437.4 322.5 449.5 311.4 451 310.4 451.5 310.8 451.8 312.5 453.5 315.5 453.5 317.5 453.2 318.5 452.1 320 449.9 322 449.4 324.5 445 330 442.7 334 439.3 338.5 431.5 347.8 424 355.2 415 362.3 406 368.2 397 373.2 387 377.7 376.5 381.8 365.5 385.2 353.5 388.2 342 390.3 330 391.8 318.5 392.5ZM421 441.5 182.9 441.5 183.3 438 186.1 430.5 186.4 428 187.7 424.5 188 421.9 189.5 418.5 190 416.1 192.1 411 192.8 408 195.9 404.5 194.8 402 196.6 399.5 196.4 397 197.2 395 197 393 198.8 389 198.9 385.5 200.9 382.5 201.1 380 202.3 377.5 203 374 203 371 205.2 363.5 206 362 206 360 207.3 359 207.2 358 204.2 355.5 204.2 354.5 205.3 353.5 208 352.3 210 351.8 211 352.1 218.5 361.2 227.8 370 234 375 243 380.5 255.6 386 263.2 388.5 270.7 390.5 277.9 392 287.7 393.5 305 394.8 322.5 394.5 341.6 392.5 359.4 389 376.5 384 391.7 378 404.6 371.5 417 363.5 430.5 353.5 437 347.7 444.5 340.2 446 339.6 446.7 340 446.7 341 445.7 342.5 445.3 344.5 444.4 346 444.6 347 445.2 347.5 443.9 349 443.9 349.5 441.7 352 440.6 357 439.2 361 438.9 364.5 437.7 367 437.1 372.5 436 375 435.5 378.4 434.1 381 434.3 385 433.1 387.5 433 390 431.6 393 431.5 397.5 429.9 403 428.9 409 428.1 410.5 426.1 412.5 427 414.5 427.2 415.5 425.6 418.5 426 421 424.9 424 424.7 426.5 423.9 430 422.1 435.5 422.2 437.5 420.3 440 421 441.5Z" fill="#00abdd" fill-rule="evenodd"/>
<path d="M175 441.5 150 441.5 150 8 302.1 8 302.4 9 302.1 9.5 299 11.5 298.8 12 300.7 13.5 301.1 14 301.1 14.5 299.7 16 299.5 18 297.3 22.5 297.2 24 296.5 25.5 297.1 28 296.5 30.5 295.3 32.5 295.7 34.5 295 36 295 37.5 294.2 38.5 290.1 40.5 289.3 41.5 291.7 44.5 291.6 47 290.9 49 291.4 50.5 291 52.5 291.6 54 290.6 55 286.6 57 286 58 286.8 59 288.9 60.5 289.4 61.5 285.8 64 287 68 284.1 71 283.4 73 283.3 75.5 280.3 78 280.4 78.5 282.1 80 282.5 81 278.9 84.5 278.4 86.5 276.2 88.5 276.6 90.5 275.7 92.5 277.1 94.5 278.1 97 277.6 98 274.3 100.5 272.8 102.5 272.9 103.5 275 105.5 275.2 106.5 273.2 110 271.5 112 271.7 113 273.4 114.5 273.6 115 273.3 115.5 270 117.5 269.7 119.5 268.7 121 268.8 121.5 271.1 123.5 270.8 124 266.4 126.5 266.2 127 266.9 129 267 131.5 265 133.5 264.8 134 265 136 262.7 139 262.9 140 263.9 142 264 143.5 260.5 146 259.9 147 260.2 148 261.8 149.5 262 150.5 258.9 153.5 256.7 157 256.7 158 257.7 160 257.7 164 258.6 166 256.7 168.5 254.9 170 254.6 171 257.6 173 258 174 254.2 176.5 253.5 178.5 250.2 181 250.5 184.5 249.6 186.5 250.7 188 250.8 189 250 190 247.5 192 247.3 192.5 247.9 194.5 247.5 197.5 244.6 201 243.4 204 243.8 207 242.6 210.5 243.2 214 241.6 216 241.3 218 239.5 220.5 239.2 223.5 239.4 226 238.3 227 234.4 229 233.7 230 235.1 232 235.9 234.5 234 238 232.5 240 232.2 241 232.2 243 233.8 245.5 233.1 246.5 229.9 249 229.4 250.5 230 253 226.8 255.5 227.9 258.5 226.8 262 227.2 265 223.3 269 222.7 272 223.4 274.5 224.6 276.5 223.9 278 221.1 281 222.9 283.5 222.5 286 221.4 287.5 218.6 289.5 219.2 291.5 219.1 292 215.6 296.5 215.7 298.5 217.4 301.5 217.6 302.5 216.8 303.5 213.7 305.5 212.8 306.5 213 308 212.2 310 213.3 312.5 212.1 315.5 213.3 318.5 207.8 324.5 207.9 325.5 209.1 327 207.8 329 207.8 331 206.8 332.5 204.1 334.5 203.5 335.5 203.5 336.5 204.3 338 205.6 339 208.7 340.5 209.3 341 209.2 341.5 204.2 344 203.1 345 202.6 346 203.4 348 203.6 351 199.2 353.5 198.6 354 198.1 355 198.7 356 201.2 358 201.3 359 199.6 361 195.3 363.5 195.5 366 191.9 369 191.9 370 195 373 195.5 374 195 377.5 193.4 380 193.8 382.5 190.1 385.5 190.2 386.5 191.3 388 191.5 389 189.1 392.5 189.2 393.5 190 395 189.1 397 189.7 399.5 187.3 402 189.3 404.5 188.5 405.5 186.1 407 185.1 408 184.5 411 183 414 181.6 416 181.4 418.5 177.4 421.5 177.4 422 179.6 424.5 179.1 426 177.8 428 178.2 431 173.8 437.5 175 441.5ZM400 99.5 385.5 99.9 371 99.2 357.5 97.3 344.5 94.1 333 90.1 322 84.8 312 78.2 304 71 300.1 66.5 297.7 63 298.5 61.5 298.6 59.5 299.4 56.5 300.7 54 301.7 49 313.7 8 514.9 8 514.4 12 512.7 19.5 511.8 22 511.6 24.5 510.1 31 509.1 34 507 44.5 506.1 47 505.6 51 504.3 54 504.1 55.5 500 59.7 493.5 65.2 484 72.1 473 78.6 462 84.1 450.5 88.7 438.5 92.7 426 95.8 413 98.1 400 99.5ZM559.5 441.5 429.3 441.5 427.5 440.5 427.3 440 430.3 437.5 429.5 435.5 430.7 433.5 431 431.5 432.1 430 432.1 428.5 433.1 426.5 432.6 424 434.3 421.5 434.2 420.5 432.9 419 432.9 418.5 435 416.5 435.5 415.5 433 413 432.9 412.5 433.9 411.5 437.2 410 438.3 409 437.5 406 438.2 402.5 438.8 401.5 441.2 399.5 441.7 398.5 441.4 397.5 439.3 395 439 393.5 439.3 392.5 441.6 390 440.6 388 440.7 387.5 443.8 385.5 444 385 441.7 382.5 441.4 381 444.3 377.5 443.9 375 444.1 374.5 447 372.5 447.2 372 445.8 370 445.3 367 448.7 364.5 448.6 363.5 447.3 362 447.2 361 448.9 359.5 451.7 356 451.6 355 450.5 353 451.5 348.5 450.4 346.5 451.4 344.5 451.9 342.5 453.1 340.5 452.9 339.5 451.6 337.5 452.4 334.5 451.1 332.5 451 331.5 452.5 329.3 456.8 325 457 324 456 322.5 456 322 459.5 319.5 460.1 318.5 459.4 315.5 457.9 312 458.4 309.5 458.1 306.5 458.6 305.5 460.9 303 461.1 301 462 299.5 462.5 297.5 463.4 296 463.4 295 462.5 293.5 462.2 291.5 463.4 288 464.4 287 467.7 285 467.7 284.5 467.3 284 465 282.5 464.1 281 464.5 280 467.3 277.5 468.6 275 468.7 271.5 465.9 269.5 465.6 269 465.7 268.5 469 266 470.1 264.5 469.8 263.5 467.6 262 466.8 261 467.7 259.5 467.9 257.5 469.8 255.5 469.4 253.5 473.1 250.5 472.6 248.5 474.5 246.5 474.9 245.5 474.8 244 472.5 241.5 473.1 239.5 474.9 237 475.1 236 472.8 234 472.6 233.5 476.8 230.5 478.3 227.5 478.5 224.5 480.3 222 480.3 221 479.5 220 479.3 219 479.9 217.5 479.7 215 481.7 211.5 481.1 208.5 482.5 207.5 485.5 206.3 486.2 205.5 483.7 203.5 482.4 201.5 482.5 200.5 483.9 198.5 484.3 196 485.1 194.5 485.2 194 484 192 484.6 190.5 484 188.5 487.2 184 488.5 181 488.5 180 487.4 178 490.2 175 489.9 173.5 488.3 171 489.6 169 488.7 167.5 488.8 167 490.8 165 494.8 162.5 494.5 161.5 493 160 494.4 156 493.3 153.5 494.2 151.5 494.3 149 492.8 146 496.4 140.5 497.2 138 498.8 135.5 499.3 133 501.3 130.5 500.9 128.5 501.7 126 500.6 124 500.6 123 503.5 120.5 503.7 120 502 118.5 501.8 117.5 502.7 116 502.9 114 505.3 112 505.9 111 505.9 109.5 504.4 107 504.9 104.5 503.6 101.5 504.1 100.5 506.8 98.5 508.3 96 506.8 93.5 506.8 92.5 507.6 90.5 507.3 88 506.4 85.5 508.9 83 509.6 81.5 509.3 80.5 508.1 79 508.4 78.5 512.9 76.5 514.3 75.5 513.6 74.5 510.6 72.5 510.7 71.5 511.8 70 511.2 66 512.2 65 516.2 63 516.1 62.5 514.5 60.5 513.2 54 515.8 52 516.5 51 516.4 49.5 515.3 47.5 515.5 46.9 517.6 44.5 517.5 43 518 41 517.3 39.5 517.4 39 519.9 36.5 518.8 34.5 518.8 33.5 522.2 31 521.9 29 523.8 25.5 523.3 24.5 521.4 23 521.1 22 521.9 21 524.5 19 524.7 18.5 523.9 16.5 526.6 14.5 527.4 13.5 527.2 12.5 524.9 10.5 524.4 8 559.5 8 559.5 441.5ZM390.5 127 379.5 127.4 368.5 126.9 358.5 125.8 350 124.3 341.5 122.3 334 119.8 326.5 116.7 319 112.9 313.5 109.3 308 104.7 302.6 99 299.3 94.5 295.6 88 291.8 78 290.8 73 291.1 70 292.5 68.7 293 69 294 68.5 295 68.7 299 73.2 303 77 310 82.9 315 86.5 320.7 90 326.5 93 339 98 352 101.5 366 103.9 380.5 105 395 104.9 410 103.5 426 100.6 441.5 96.5 455.4 91.5 467.5 86 479 79.6 494.5 69 499.5 65 506 58.9 507 58.6 507.4 59 508 58.6 508.3 59 508 62 507.5 63 504.8 65.5 503.7 68 502.1 70.5 496.3 78 490.5 84.6 484 90.9 478 95.9 470.5 101.4 463.5 105.8 456 109.9 447.5 113.8 438.5 117.3 429 120.4 419.5 122.9 409.5 124.8 399 126.3 390.5 127ZM378.5 154.5 367 154.5 358 153.9 349.5 152.8 339 150.8 330 148.3 322 145.3 314.5 141.8 307 137.4 301 132.6 295.4 127 291.3 121.5 287.9 115.5 285.2 109 282.6 101 282.6 100 284.1 97 283.5 95 282.1 92.5 282.2 92 283 91.8 283.9 90.5 283.7 88.5 284.5 88 285.5 88.2 289.7 94.5 293.3 99 304.6 110 312.9 116 322.5 121.1 335.3 126 349.3 129.5 364.5 131.6 380 132.2 395.5 131.4 411.5 129.2 427 125.7 441.7 121 456.9 114.5 469.5 107.5 476.2 103 485.5 96.2 498 85.6 498.5 85.6 500 87.3 501 87.2 501.1 88 500.7 90 498 95 490.2 105 483.5 112.5 477 118.7 470 124.4 461.5 130.3 454 134.8 446 138.8 436.5 142.8 428 145.9 418 148.8 407 151.3 398 152.8 389 153.9 378.5 154.5ZM378 182 368.5 182.4 358 182.3 347 181.3 337 179.8 328 177.8 318.5 174.8 310 171.2 302.5 167.3 296.5 163.2 291 158.4 286 153 282.2 147.5 278.3 139.5 275.9 133 274.2 127 274.3 126 275.2 125 277 123.9 277.5 124.2 278.2 123.5 276 121.6 275.5 122 275 121.5 276.9 119.5 277.5 118 278.5 117.7 287 128 294.5 135.3 299.6 139.5 304.6 143 310 146.1 316.5 149.2 323.8 152 337 155.8 351.5 158.3 366.5 159.5 382 159.3 398 157.6 414 154.6 428.8 150.5 443.4 145 456.8 138.5 469.5 130.6 484 119.6 496 108.2 497 108 498.5 109 499.3 109 498.9 111 496.4 114 493.6 120 485.3 131 478.8 138.5 473 144.2 466.5 149.8 458.5 155.8 451.5 160.2 444 164.3 435.5 168.3 426.5 171.9 416 175.3 406.5 177.8 396.5 179.8 386 181.3 378 182ZM366.5 211 357 211.2 346.5 210.8 337 209.8 325.5 207.8 316 205.3 307.5 202.4 299.5 198.8 292.5 194.8 286.5 190.4 280.8 185 276.2 179.5 272.2 173 269.3 166 265.9 156 265.8 154.5 266.4 152.5 267.6 151 268 150.7 268.6 151 269.1 150 267.3 148 267.1 147.5 267.3 146.5 269 145.4 270.6 145.5 275.1 151.5 279 156 287 163.7 293.1 168.5 301.5 173.7 312.1 178.5 319.1 181 326 183 340.5 185.8 356.5 187.3 372.5 187.4 389.5 185.8 406.5 182.7 421.9 178.5 437.5 172.6 450 166.6 462 159.2 475.5 149.2 481.5 144.1 489.5 136.5 490 136.1 490.3 136.5 489.8 137.5 489.4 140.5 490 140.2 490.3 140.5 489 142.4 488.5 141.8 488.3 142 489 142.5 486.7 146 486.4 149 482.3 155 475.4 163.5 469.5 169.8 462 176.7 454 182.9 445 188.8 437.5 192.9 428 197.3 417.5 201.3 408 204.3 398 206.8 387.5 208.8 376.5 210.3 366.5 211ZM486 163.5 485 163.7 484.5 163.5 486 161.8 487 161.7 487.5 162 487.5 162.5 486 163.5ZM357.5 240 348.5 240.1 339 239.7 329.5 238.7 318 236.8 310 234.8 301 231.9 293.5 228.7 286 224.8 280 220.7 275 216.5 270.2 211.5 266.2 206 262.9 200 259.3 191 257.8 186 257.3 180.5 259 179 259.5 179.3 260.6 178.5 261.9 176.5 263.5 176.5 268.5 182.5 271.9 186 279.3 193 285 197.5 290.5 201 296.2 204 303 207 310 209.5 323 213 337 215.3 351.5 216.4 366.5 216.2 382.5 214.7 397.7 212 412.9 208 428 202.6 439.3 197.5 450 191.5 457.5 186.5 468 178.8 480 168.3 481.5 168.1 482.5 169 481.3 171 481.5 171.5 482 171.1 482.4 171.5 482.8 172.5 482.1 175 475.3 184.5 466.1 195.5 458.5 202.9 452.5 207.9 445 213.4 437 218.4 428.5 222.8 419.5 226.8 409 230.7 399 233.8 390.5 235.8 379.5 237.9 368 239.3 357.5 240ZM355 269 344.5 269.4 334 269.2 323.5 268.3 311.5 266.4 303 264.4 293.5 261.3 285 257.8 276.5 253.2 269.5 248.2 264 243 259.7 238 255.3 231 252.3 224 249.7 216 250.1 213.5 249.3 211 249.3 209.5 249.9 207 250.5 207.5 250.9 207 250.5 205 250.6 204 252 202.5 252.5 202.4 253.5 202.9 258.1 209 262 213.4 270 221 276.3 226 285.3 231.5 296 236.3 309.5 240.6 324.5 243.6 340.5 245.1 357.5 245.2 375 243.6 392 240.6 408.5 236.1 423.4 230.5 436.1 224.5 448.5 217 464 205.6 476 194.5 477 194 477.5 194.2 476.9 196.5 477 198 477.5 197.7 477.8 198 476.1 201 475.9 203.5 475.4 204.5 468.7 213.5 462.2 221.5 456.5 227.6 448.5 234.9 440 241.3 433 245.9 425 250.4 415.5 254.8 406.5 258.4 396 261.9 386.5 264.4 377 266.3 367 267.9 355 269ZM345.5 299 334.5 299.3 323 298.8 313 297.8 301.5 295.8 291.5 293.3 283 290.4 274 286.3 266 281.7 259.5 276.7 253.8 271 249.2 265 245.8 259 241.7 248.5 241.3 245.5 240.2 243 239.9 241.5 239.8 240 241 236.5 242 236.3 243.2 234.5 242.7 232 241.4 230.5 241.5 229.6 242.5 229.3 243.2 229.5 246.5 234.5 251.9 241 264 252.4 273 258.7 284 264.1 290.5 266.7 298 269 305.8 271 314 272.6 331 274.4 348.5 274.6 366.5 273.2 384.5 270 401.2 265.5 417.3 259.5 430.5 253.1 442.9 245.5 458.5 233.9 464.5 228.5 471.5 221.6 472 221.3 472.9 221.5 473 222 471.3 224.5 471.2 226 472 226.5 471.6 228 469.7 231 466.6 233.5 467.3 235.5 466.9 236.5 461.7 243.5 455.2 251.5 449.5 257.5 442 264.3 433.5 270.8 426.5 275.4 418.5 279.9 409 284.4 399 288.3 388.5 291.8 378.5 294.4 366 296.8 354.5 298.3 345.5 299ZM337 329 326.5 329.3 315.5 328.8 305 327.8 293.5 325.8 285 323.7 276 320.8 267.5 317.2 260 313.3 253.5 308.8 248.5 304.4 243.1 298.5 239.2 293 236.2 287 233.2 279 230.7 271 230.6 269 231.2 267.5 232.1 266.5 232.5 266.3 233 266.5 234.1 265.5 234.7 264.5 234.6 262.5 235 261.9 235.5 261.8 244.7 272.5 252.7 280 258.5 284.7 264 288.3 270 291.5 277 294.6 284.9 297.5 298 301 313.1 303.5 328.5 304.6 344 304.4 360 303 377 300 393.5 295.6 408.8 290 421.5 284.1 432.8 277.5 448.9 266 461 255.6 462.1 255.5 462.1 256 460.2 257.5 460.7 259 459.8 261 460 261.4 461 261.3 462 263 461.9 264 458.2 268.5 457.6 270 455.7 272.5 448.3 281.5 442.5 287.6 435 294.4 426.5 300.8 417 306.8 409.5 310.8 399.5 315.3 389 319.3 379 322.3 369 324.8 358 326.8 346.5 328.3 337 329ZM329.5 359.5 318.5 359.8 307 359.3 297 358.3 285.5 356.4 277 354.4 267.5 351.3 259 347.7 251.5 343.8 245 339.3 239.5 334.5 234.4 329 230.3 323 227.3 317 223.2 306 223.1 304.5 224 302.5 222.2 297.5 222.2 296.5 222.7 295.5 223 295.1 223.5 295.4 226 292.9 227.5 292.7 236 302.4 243.6 309.5 249.1 314 254.3 317.5 260 320.7 267 323.9 274 326.6 288 330.6 303 333.2 319 334.5 335.5 334.4 352 333 369 330.1 384.7 326 400.3 320.5 414.5 314 428.1 306 444 294.4 449.7 289.5 456.5 283 458 282.9 460.7 284 460.8 284.5 460.2 285.5 457.3 288 455.9 291 454.8 294.5 453.9 296 445.8 306.5 438 315.5 431.5 321.7 424 327.8 417 332.8 409 337.7 401 341.9 391 346.3 381.5 349.8 371.5 352.8 361.5 355.3 350.5 357.3 339 358.8 329.5 359.5ZM324.5 390.5 313.5 391 302 390.7 291 389.8 278.5 387.9 269.5 385.8 260 382.9 251.5 379.4 242.5 374.8 236 370.4 230 365 224.6 359 220.7 353 216.5 343.5 216.3 342.5 216.5 341 214.9 339 213.3 334.5 213.4 333.5 214.1 331.5 214.1 329 215 327.8 215.6 328 216.2 327 215.1 325.5 215 324.5 217 323.1 218.5 323.1 227 332.8 234.6 340 240 344.4 245 347.8 250 350.6 256.5 353.7 263.4 356.5 277 360.6 292.5 363.6 309 365.1 326 365.2 343 363.8 360.2 361 376.2 357 392 351.6 406.6 345 420.4 337 436.5 325.4 449.5 313.8 450.5 313.6 452.9 315.5 452.4 318.5 449.3 322 448.9 324 448.2 325 439.2 337 431.5 345.9 425.5 351.8 419.5 356.8 412 362.4 403.5 367.8 396 371.9 386 376.4 377 379.9 366.5 383.3 356.5 385.9 346.5 387.9 336.5 389.4 324.5 390.5ZM417.5 441.5 186 441.5 195.9 408 197.8 404.5 197.7 402 198.8 399.5 200.3 393 208.4 365.5 207.5 363.5 206.5 362.5 206.1 361.5 206.1 360.5 206.4 360 207.2 360.5 208.6 358.5 208 357.5 205.4 355.5 205.4 354.5 206.9 353.5 208 353.3 209 353.6 212.9 358.5 217.4 363.5 225.5 371.1 231 375.5 240.5 381.5 251.5 386.5 258.5 389.1 266 391.3 273.5 393 282 394.5 299 396.3 317 396.5 335.5 395 353.5 392 370.5 387.7 386.5 382 400.5 375.6 413.5 368 428.8 357 442.5 345.3 443.3 347 444.7 348 443.9 349 443.8 349.5 441.5 352 441.4 352.5 437.5 356.5 437.5 357 436.7 358 425 410 423.9 412.5 423.9 415 418.7 438 417.9 440 417.9 441.5 417.5 441.5Z" fill="#00c9dd" fill-rule="evenodd"/>
<path d="M174 441.5 150 441.5 150 8 301.2 8 301.5 9 301.3 9.5 298.5 11.2 298 12 299.9 13.5 300.3 14 300.3 14.5 298.8 16 298.6 18 296.7 22 296.4 24 295.7 25.5 296.3 28 295.9 30 294.4 32.5 294.9 34.5 294.2 36 294.2 37.5 293.4 38.5 289.3 40.5 288.5 41.5 290.9 44.5 290.7 47 290.1 49 290.6 50.5 290.2 52.5 290.8 54 289.8 55 285.8 57 285.2 58 286 59 288.1 60.5 288.6 61.5 285 64 286.1 68 283.2 71 282.5 73 282.4 75.5 279.5 78 279.6 78.5 281.5 80.3 281.6 81 278.1 84.5 277.6 86.5 275.3 88.5 275.8 90.5 274.9 92.5 276.3 94.5 277.3 97 276.8 98 273.5 100.5 271.9 102.5 272 103.5 274.1 105.5 274.4 106.5 272 110.5 270.6 112 270.9 113 272.6 114.5 272.7 115 272.4 115.5 269.2 117.5 268.8 119.5 267.8 121 268 121.5 270.3 123.5 270 124 265.6 126.5 265.4 127 266.3 130.5 266.2 131.5 264.2 133.5 264 134 264.2 136 261.9 139 262 140 263.1 142 263.1 143.5 259.6 146 259.1 147 259.3 148 261 149.5 261.1 150.5 258.1 153.5 255.9 157 255.8 158 256.9 160 256.8 164 257.8 166 255.9 168.5 253.7 170.5 254.2 171.5 256.8 173 257.2 174 253.3 176.5 252.7 178.5 249.3 181 249.6 184.5 248.8 186.5 249.9 188 249.9 189 249.2 190 246.6 192 246.5 192.5 247.1 194.5 246.7 197.5 243.8 201 242.5 204 243 207 241.8 210.5 242.5 213.5 242.2 214.5 240.7 216 240.5 218 238.6 220.5 238.4 223.5 238.6 226 237.5 227 233.6 229 232.9 230 234.2 232 235 234.5 233.2 238 231.7 240 231.4 241 231.3 243 233 245.5 232.3 246.5 229.1 249 228.5 250.5 229.1 253 226 255.5 227 258.5 226 262 226.4 265 222.5 269 221.8 272 222.5 274.5 223.8 276.5 223 278 220.3 281 222.1 283.5 221.7 286 220.6 287.5 217.8 289.5 218.4 291.5 218.2 292 214.8 296.5 214.9 298.5 216.6 301.5 216.7 302.5 216 303.5 212.9 305.5 212 306.5 212.2 308 211.4 310 212.5 312.5 211.3 315.5 212.4 318.5 207 324.5 207.1 325.5 208.3 327 207 329 207 331 205.9 332.5 203.3 334.5 202.7 335.5 202.7 336.5 203.4 338 204.7 339 207.9 340.5 208.4 341 208.4 341.5 203.5 343.9 202.2 345 201.7 346 202.6 348 202.7 351 198.4 353.5 197.7 354 197.3 355 197.8 356 200.4 358 200.5 359 198.8 361 194.5 363.5 194.7 366 191.5 368.5 190.9 369.5 194.2 373 194.7 374 194.1 377.5 192.6 380 192.9 382.5 189.3 385.5 189.4 386.5 190.5 388 190.7 389 188.3 392.5 188.3 393.5 189.1 395 188.2 397 188.9 399.5 186.5 402 188.4 404.5 187.7 405.5 185.2 407 184.3 408 183.7 411 182 414.3 180.7 416 180.6 418.5 176.6 421.5 176.6 422 178.7 424.5 178.2 426 177 428 177.3 431 172.9 437.5 173.2 439 174.3 441.5 174 441.5ZM398.5 98 384.5 98.3 370.7 97.5 357.1 95.5 343.2 92 331.1 87.5 320.4 82 315.1 78.5 310.5 75 303 67.8 302.4 66.5 319.6 8 509.4 8 497.7 60 497 61 494.6 63 485.1 70 474.4 76.5 463.4 82 451.3 87 439.1 91 424.9 94.5 413.4 96.5 398.5 98ZM559.5 441.5 430.1 441.5 428.4 440.5 428.1 440 431.2 437.5 430.4 435.5 431.5 433.5 431.8 431.5 432.9 430 433 428.4 434 426.5 433.4 424 435.2 421.5 435 420.5 433.7 419 433.7 418.5 435.8 416.5 436.3 415.5 433.9 413 433.8 412.5 434.8 411.5 438 410 439.2 409 438.3 406 439 402.5 439.6 401.5 442.1 399.5 442.6 398.5 442.2 397.5 440.1 395 439.8 393.5 440.1 392.5 442.4 390 441.5 388 441.6 387.5 444.5 385.6 444.9 385 442.6 382.5 442.3 381 445.1 377.5 444.8 375 445 374.5 447.5 372.8 448.1 372 446.6 370 446.2 367 449.5 364.5 449.7 364 448.2 362 448 361 449.7 359.5 452.6 356 452.4 355 451.3 353 452.4 348.5 451.2 346.5 452.2 344.5 452.5 343 453.9 340.5 453.7 339.5 452.5 337.5 453.2 334.5 452 332.5 451.8 331.5 453.5 329.1 457.6 325 457.9 324 456.9 322.5 456.9 322 460.3 319.5 461 318.5 460.2 315.5 458.7 312 459.3 309.5 458.9 306.5 459.4 305.5 461.8 303 461.9 301 462.9 299.5 463.3 297.5 464.2 296 464.2 295 463.3 293.5 463 291.5 464.3 288 465.2 287 468.5 285 468.6 284.5 468.2 284 465.8 282.5 465 281 465.4 280 468.1 277.5 469.4 275 469.5 271.5 466.8 269.5 466.4 269 466.5 268.5 469.5 266.3 470.9 264.5 470.7 263.5 468.4 262 467.6 261 468.5 259.5 468.7 257.5 470.7 255.5 470.2 253.5 473.9 250.5 473.4 248.5 475.3 246.5 475.7 245.5 475.7 244 473.4 241.5 473.9 239.5 475.8 237 475.9 236 473.6 234 473.4 233.5 477.6 230.5 479.1 227.5 479.4 224.5 481.2 222 481.1 221 480.4 220 480.1 219 480.8 217.5 480.5 215 482.6 211.5 481.9 208.5 483.4 207.5 486.5 206.2 487.1 205.5 484.1 203 483.2 201 484.7 198.5 485 196.3 486 194.5 486 194 484.9 192 485.4 190.5 484.9 188.5 488.3 183.5 489.4 181 489.3 180 488.3 178 491 175 490.8 173.5 489.2 171 490.5 169 489.6 167.5 489.6 167 491.7 165 495.6 162.5 495.4 161.5 493.9 160 495.3 156 494.1 153.5 495 151.5 495.2 149 493.6 146 497.3 140.5 498 138 499.6 135.5 500.1 133 502.2 130.5 501.7 128.5 502.5 126 501.4 124 501.4 123 504.3 120.5 504.5 120 502.8 118.5 502.6 117.5 503.5 116 503.7 114 506.1 112 506.8 111 506.7 109.5 505.3 107 505.7 104.5 504.4 101.5 505 100.5 507.6 98.5 509.2 96 507.7 93.5 508.4 90 508.1 88 507.2 86 507.5 85 509.7 83 510.5 81.5 510.2 80.5 509 79 509.9 78 514 76.4 515.1 75.5 514.4 74.5 511.4 72.5 511.5 71.6 512.6 70 512 66 513 65 516 63.8 517 63 517 62.5 515.4 60.5 514 54 516.7 52 517.4 51 517.2 49.5 516.2 47.5 516.5 46.7 518.4 44.5 518.3 43 518.8 41 518.2 39.5 518.3 39 520.7 36.5 519.5 33.8 520.1 33 523.1 31 522.7 29 524.7 25.5 524.2 24.5 522.2 23 521.9 22 525.4 19 525.6 18.5 524.7 16.5 528.3 13.5 528 12.5 525.5 10.1 525.2 8 559.5 8 559.5 441.5ZM384 126.5 374 126.4 365 125.8 356.5 124.7 347 122.8 339.5 120.8 331 117.7 324.5 114.7 318 111.2 312.5 107.3 307.5 102.9 302.7 97.5 298.8 92 295.8 86.5 292.4 77.5 291.3 72.5 291.5 70 292.5 69 293.5 69.7 294.5 69.6 299 74.9 303.5 79.3 310.3 85 316 89 325 94 335.6 98.5 349 102.5 362.5 105 378.5 106.5 393.5 106.4 409.5 105 424.2 102.5 439.6 98.5 455.1 93 468.2 87 480.5 80 494.5 70.1 505 60.7 507.5 59.2 507.9 59.5 507.3 62.5 504.4 65.5 501.9 70 495.2 78.5 489 85.2 482 91.7 475 97.3 467 102.8 459.5 107.2 451.5 111.2 442 115.2 432 118.7 423 121.2 411.5 123.7 402 125.2 392 126.2 384 126.5ZM383 153.5 372.5 153.8 362 153.4 351.5 152.3 342.5 150.7 334.5 148.7 325.5 145.7 318.5 142.8 311 138.8 305 134.7 300 130.3 294.7 124.5 290.8 119 287.2 112 283.4 101.5 283.3 99.5 284.5 97.1 284.2 96 284.5 95.7 285.3 96.5 285.4 97 286.3 97.5 286.5 94.5 291.8 100.5 295.5 104.2 303.5 111.4 309.5 115.8 318.5 121 329 125.5 342 129.4 355 131.9 370 133.4 385.5 133.4 402.5 132 417 129.5 431 125.9 445.5 120.9 458 115.4 469 109.3 485.5 98 491.2 93.5 497.5 88 498.5 87.7 499 88.3 500.5 87.4 500.7 87.5 500.1 90.5 497.4 95 489.9 104.5 483.5 111.6 476.5 118.2 469.5 123.8 462 129.1 454.5 133.7 446.5 137.7 438.5 141.2 430.5 144.2 421 147.2 413 149.3 403 151.2 392.5 152.7 383 153.5ZM286 94.3 284.7 93 284.6 92.5 285 92.4 285.5 92.7 286 93.5 286 94.3ZM372 181.5 363 181.6 353.5 181.1 344.5 180.1 334 178.3 326 176.3 318.5 173.8 311 170.7 303.5 166.7 298 163.1 293.1 159 288.2 154 284.3 149 281.2 144 278.7 138.5 275 127.5 274.8 126.5 275.1 125.5 277 124.1 278 124.7 279.5 124.1 280.5 124.2 285.5 129.5 293.1 136.5 301.5 143 307 146.3 313 149.3 326 154.4 339.5 157.8 353 159.9 368.5 160.9 384.5 160.5 401.5 158.4 416.5 155.4 431.5 151 446 145.3 457 139.9 468.5 132.9 484.2 121.5 490 116.4 496.5 109.9 497 109.8 497.5 110.3 498.5 109.7 498.9 110 498.3 111.5 496.1 114 495.3 116 492.6 120.5 484.1 131.5 477.5 138.9 471 145.1 464 150.8 456.5 156.2 449 160.8 440.5 165.2 431 169.3 421.5 172.8 411.5 175.7 401 178.1 391.5 179.8 382.5 180.8 372 181.5ZM494.5 114 495 113.4 494.5 114ZM369.5 210 360 210.4 350 210.1 339.5 209.2 329.5 207.7 321 205.8 312.5 203.2 305 200.2 297 196.3 291 192.6 285.5 188.2 280.4 183 275.7 177 272.2 171 269.3 164 266.7 156 266.5 153.5 266.8 152.5 268 151 269 151.8 270.5 150.9 271.4 151 279 159 286.5 165.7 292 169.9 297.5 173.4 303 176.3 315.5 181.5 327.5 184.9 341.5 187.5 356.5 188.8 371.5 188.8 388 187.4 403 184.9 418.5 181 433 175.9 444.5 170.9 455.5 165 462 160.9 472.5 153.5 485.5 142.9 486 142.9 486.1 143.5 484.8 145.5 488 142.7 488.4 143 486.5 145.7 486.3 148 484.6 151 477.2 160.5 471 167.4 464 174 457.5 179.3 450 184.7 442.5 189.3 435 193.2 426 197.2 416.5 200.8 407 203.8 399 205.8 389 207.7 379 209.2 369.5 210ZM361 239 350 239.3 339.5 238.9 329 237.8 320 236.3 311.5 234.3 303.5 231.8 296 228.8 288 224.7 282.5 221.3 277 216.9 271.7 211.5 267.4 206 264.3 201 261.2 194 258.6 186 257.7 180.5 259 179.2 260 179.8 261.5 179.2 262.5 179.3 269.6 187 278 194.4 283 198.3 293 204.3 299.5 207.4 306 209.9 319.5 213.8 333.5 216.4 348.5 217.7 363.5 217.8 380 216.4 395.5 213.9 411.5 209.9 426 204.9 438.5 199.4 449.5 193.4 456.5 189 467.1 181.5 479 171.7 481 172 482.1 171.5 482.4 173 481.9 174.5 479.5 177.5 478 180 470.6 189.5 464.5 196.2 458 202.3 451.5 207.7 443 213.8 435.5 218.3 428 222.2 419 226.2 409.5 229.7 400 232.7 391.5 234.8 381 236.8 370.5 238.2 361 239ZM347 268.5 336.5 268.4 327 267.7 316.5 266.3 308 264.7 299.5 262.4 292 259.7 284 256.2 277 252.3 271.5 248.4 266 243.5 261.1 238 256.9 232 253.7 225.5 250.6 216.5 250.5 213.6 249.6 210.5 250 207.9 250.5 207.7 251.5 208.5 252.5 207.4 253.5 207.5 261.5 216.1 270.5 224 276.7 228.5 286 233.8 297 238.4 310.5 242.4 326 245.3 341.5 246.6 357 246.6 372.5 245.3 390 242.4 405.5 238.4 420 233.4 432.5 227.9 443.5 221.9 450.5 217.4 461.6 209.5 467.3 205 474 199 474.5 198.7 475 199 474 201 476.5 198.6 477 198.3 477.3 198.5 475.9 200.5 475.3 203.5 474.5 205 465.2 217 457.5 225.7 451 231.7 443.5 237.8 435 243.7 427.5 248.1 418 252.8 408.5 256.8 398.5 260.2 389.5 262.8 378.5 265.2 369 266.8 358.5 267.9 347 268.5ZM347.5 298 337 298.4 326 298.1 315 297.1 303.5 295.3 294.5 293.1 285.5 290.2 278 287.1 270.5 283.3 264.5 279.4 258.5 274.3 253.1 268.5 248.8 262.5 245.7 256.5 242.3 247.5 242 245.3 241 243 240.4 240 241.2 237 241.5 236.7 242.5 237.8 243.5 236.6 244.6 236.5 253 245.5 262 253.3 269 258.3 278 263.3 289 267.9 302.5 271.9 310 273.5 319 274.8 335 276.1 351 276 368 274.4 384.5 271.5 400 267.4 415.5 261.8 427.5 256.3 439 249.8 456.1 238 462.3 233 468.5 227.2 469.6 227 469.8 227.5 469.5 228.5 470 228 470 227.5 471.6 226.5 471.2 228 469.8 230.5 466.3 233.5 466.8 235 465.9 237 458.2 247 451.5 254.5 445.5 260.2 439 265.7 431.5 271.2 423.5 276.2 416 280.2 406 284.7 397 288.2 387.5 291.2 377.5 293.7 367.5 295.7 357 297.2 347.5 298ZM464.5 233.5 465 232.8 464.5 233.5ZM339.5 328 329.5 328.4 319 328.1 308 327.2 297.5 325.6 288.5 323.7 279 320.8 271 317.7 263 313.8 256.5 309.7 251 305.2 245.4 299.5 241.1 294 238.1 289 235.3 282.5 231.6 271.5 231.3 268 232.5 266.5 233.5 267.2 235 266.4 235.9 266.5 243.5 274.6 252.5 282.5 257.5 286.3 263 289.8 268 292.5 280.5 297.8 294.5 301.9 308 304.4 323 305.9 338 306.1 353 305.2 369.5 302.9 385.5 299.4 400 294.9 415 288.9 428.5 281.9 435 277.9 445 271 457.5 261.3 458 261.3 459.5 262 460.5 261.4 461.5 262.5 461.5 263.5 461 264.5 457.6 268.5 456.9 270 454.2 273.5 447.9 281 442 287.1 435 293.3 428 298.7 420.5 303.8 413.5 307.8 404.5 312.2 396 315.8 386.5 319.2 378 321.7 369.5 323.8 359.5 325.7 349 327.2 339.5 328ZM456.5 286.5 455.6 286.5 457.5 284.4 458 284.1 459 284.3 460.2 284 460.2 285 459 286.1 458.5 286.5 458 285.8 456.5 286.5ZM331.5 358.5 321 358.9 310 358.6 299.5 357.7 287 355.7 278.5 353.7 269 350.7 260.5 347.2 252.5 343.1 246.5 339.1 240.6 334 235.1 328 230.9 322 227.8 316 223.9 305.5 224.3 302 222.8 298.5 222.6 297 222.8 296 223.5 295.7 224 296.5 225.5 295.3 226.4 295.5 230.7 300.5 235 304.7 244.5 312.9 250.5 317.3 259.5 322.4 271 327.3 284.5 331.4 300 334.4 316 335.9 332.5 336 349 334.8 367 332 383.5 327.9 398 323 410 317.9 421.5 311.8 429.5 306.9 441.5 298.5 453.5 288.5 454.5 288.2 454.8 289.5 455 289.5 456.5 288.2 456.8 288.5 454.4 294 453.2 296 444.6 307 437.5 315 431.5 320.6 424 326.8 415.5 332.8 408 337.3 399.5 341.6 390 345.7 380.5 349.2 372 351.8 362.5 354.2 352 356.2 341 357.7 331.5 358.5ZM315 390 304.5 389.9 294.5 389.2 283.5 387.7 273.5 385.8 266 383.7 257.5 380.8 249.5 377.3 242 373.2 236.5 369.3 231 364.4 225.7 358.5 221.8 353 218.4 346 217.1 342.5 217.1 341 215.8 339 214.2 334.5 214.7 328.5 215 328.2 215.5 328.3 216.2 329 217.5 327.9 218.5 327.8 225 334.4 233.7 342 238.5 345.8 244 349.4 253.5 354.4 265 358.9 279.5 362.9 294.5 365.5 312 366.8 329 366.6 346 364.9 363 361.9 380 357.4 395 351.9 408 346 419.5 339.4 437.4 327 443.4 322 449.8 316 450.5 315.8 451.5 316.1 452.5 315.5 451.9 318.5 448.9 322 447.9 324.5 438.8 336.5 430.5 345.9 423 352.8 415.5 358.8 407.5 364.3 400 368.8 391 373.3 380.5 377.7 370 381.3 359.5 384.2 348 386.7 338 388.3 325.5 389.6 315 390ZM412 441.5 191.9 441.5 212.4 372 212 371 211 370 210.5 368.5 208.6 366 207.6 363.5 206.6 362.5 206.2 361.5 206.4 360.5 207.5 361 209.5 360.1 210.5 360.2 216.3 366 225.5 373.9 230 377.3 235.5 380.9 245.5 386 257 390.4 272 394.4 287 396.9 303 398.1 320 397.9 337 396.4 354.5 393.3 371.5 388.9 387 383.4 399.5 377.8 411 371.4 429.2 359 435.4 354 441.5 348.5 442.5 348.2 443 348.6 443.5 348.5 443.8 349.5 441.4 352 441.4 352.5 429.1 365.5 412 441.5Z" fill="#0addd2" fill-rule="evenodd"/>
<path d="M172.5 441.5 150 441.5 150 8 299.9 8 300.2 9 299.9 9.5 297 11.3 296.6 12 298.5 13.5 299 14 298.9 14.5 297.3 16.5 297.3 18 295.1 22.5 295 24 294.3 25.5 295 28 294.5 30.1 293.1 32.5 293.5 34.5 292.8 36 292.8 37.5 292.1 38.5 288 40.5 287.1 41.5 289.6 44.5 289.4 47 288.7 49 289.2 50.5 288.8 52.5 289.4 54 288.5 55 284.5 57 283.8 58 284.6 59 286.7 60.5 287.2 61.5 283.6 64 284.5 66.3 284.8 68 281.9 71 281.2 73 281.1 75.5 278.1 78 278.2 78.5 280 80.1 280.3 81 279.6 82 276.7 84.5 276.2 86.5 274 88.5 274.5 90.5 273.5 92.5 275 94.6 275.9 97 275.5 98 272.1 100.5 270.6 102.5 270.7 103.5 272.7 105.5 273 106.5 271 110 269.3 112 269.5 113 271.2 114.5 271.4 115 271.1 115.5 267.8 117.5 267.5 119.5 266.5 121 266.6 121.5 269 123.5 268.7 124 264.2 126.5 264.1 127 265 131 264.5 132 262.8 133.5 262.6 134 262.8 136 260.6 139 260.7 140 261.7 142 261.8 143.5 258.3 146 257.7 147 258 148 259.6 149.5 259.8 150.5 256.7 153.5 254.5 157 254.5 158 255.5 160 255.3 162 255.5 164 256.5 166 254.5 168.5 252.3 170.5 252.9 171.5 255.4 173 255.9 174 252 176.5 251.3 178.5 248 181 248.3 184.5 247.4 186.5 248.5 188 248.6 189 247.8 190 245.3 192 245.1 192.5 245.7 194.5 245.3 197.5 242.4 201 241.2 204 241.6 207 240.5 210.5 241.1 214 239.4 216 239.1 218 237.3 220.5 237.2 226 236.1 227 232.2 229 231.6 230 232.9 232 233.7 234.5 231.8 238 230.3 240 230 241 230 243 231.6 245.5 231 246.5 227.7 249 227.2 250.5 227.8 253 224.6 255.5 225.7 258.5 224.6 262 225 265 221.1 269 220.5 272 221.2 274.5 222.4 276.5 221.7 278 218.9 281 220.7 283.5 220.3 286 219.2 287.5 216.4 289.5 217.1 291.5 216.9 292 213.4 296.5 213.5 298.5 215.2 301.5 215.4 302.5 214.6 303.5 211.5 305.5 210.6 306.5 210.8 308 210 310 211.1 312.5 209.9 315.5 211.1 318.5 205.6 324.5 205.7 325.5 206.9 327 205.6 329 205.6 331 204.6 332.5 202 334.5 201.3 335.5 201.3 336.5 202.1 338 203.5 339.1 206.5 340.5 207.1 341 207 341.5 202.5 343.7 200.9 345 200.4 346 201.2 348 201.4 351 197 353.5 196.4 354 195.9 355 196.5 356 199.1 358 199.1 359 197.4 361 193.1 363.5 193.3 366 189.7 369 189.7 370 192.8 373 193.3 374 192.8 377.5 191.2 380 191.6 382.5 188.3 385 187.9 386 189.1 388 189.3 389 186.8 393 187.8 395 186.9 397 187.5 399.5 185.1 402 187.1 404.5 186.3 405.5 183.9 407 182.9 408 182.3 411 180.5 414.5 179.4 416 179.2 418.5 175.2 421.5 175.2 422 177.4 424.5 177 425.8 175.6 428 176 431 171.6 437.5 171.7 438.5 173 441.5 172.5 441.5ZM399.5 95.5 386 95.9 373 95.2 360.4 93.5 348.5 90.9 337 87.2 326.5 82.5 317.5 77.2 309.4 71 327.9 8 501.1 8 488.2 65.5 487.8 66 478.5 72 468.3 77.5 457.1 82.5 446.5 86.4 434.5 89.9 423.1 92.5 411 94.4 399.5 95.5ZM559.5 441.5 431.5 441.5 429.7 440.5 429.5 440 432.5 437.5 431.7 435.5 432.9 433.5 433 432 434.3 430 434.5 428 435.3 426.5 434.8 424 436.5 421.5 436.3 420.5 435.1 419 435 418.5 437.2 416.5 437.7 415.5 435.5 413.3 435.1 412.5 436.1 411.5 439 410.2 440.5 409 439.7 406 440.4 402.5 441 401.5 443.4 399.5 443.9 398.5 443.6 397.5 441.5 395 441.2 393.5 441.5 392.5 443.8 390 442.8 388 442.9 387.5 445.5 385.9 446.2 385 443.9 382.5 443.6 381 446.2 378 446.6 377 446.1 375 446.3 374.5 449 372.7 449.4 372 448 370 447.5 367 450.9 364.5 450.8 363.5 449.5 362 449.4 361 451.1 359.5 452 358 453.9 356 453.8 355 452.7 353 453.7 348.5 452.6 346.5 453.6 344.5 454 342.6 455.3 340.5 455 339.5 453.8 337.5 454.6 334.5 453.3 332.5 453.2 331.5 454.5 329.5 459.2 324.5 458.2 322 461.7 319.5 462.3 318.5 461.6 315.5 460.1 312 460.6 309.5 460.3 306.5 460.8 305.5 463.1 303 463.3 301 464.2 299.5 464.7 297.5 465.6 296 465.7 295.5 464.7 293.5 464.4 291.5 465.6 288 466.6 287 469.9 285 469.9 284.5 469.5 284 466.7 282 466.3 281 466.7 280 469.8 277 470.8 275 470.9 271.5 468.1 269.5 467.9 268.5 471 266.2 472.3 264.5 472 263.5 469.8 262 469 261 469.9 259.5 470.1 257.5 472 255.5 471.5 253.5 475.3 250.5 474.8 248.5 476.7 246.5 477.2 245 477 244 474.7 241.5 475.3 239.5 477.1 237 477.3 236 474.9 234 474.8 233.5 479 230.5 480.5 227.5 480.7 224.5 482.5 222 482.7 221.5 481.5 219.6 481.5 219 482.1 217.5 481.8 215 483.9 211.5 483.3 208.5 484.7 207.5 488 206.2 488.4 205.5 485.5 203 484.5 201.1 486.1 198.5 486.5 196 487.3 194.5 487.4 194 486.2 192 486.8 190.5 486.2 188.5 489.4 184 490.7 181 490.7 180 489.6 178 492.4 175 492.1 173.5 490.5 171 491.8 169 490.9 167.5 491 167 493 165 497 162.5 496.7 161.5 495.2 160 496.6 156 495.5 153.5 496.4 151.5 496.5 149 495 146 498.6 140.5 499.5 137.6 500.9 135.5 501.5 133 503.5 130.5 503.1 128.5 503.9 126 502.8 124 502.8 123 505.7 120.5 505.8 120 504.2 118.5 503.9 117.5 504.8 116 505 114 507.5 112 508.1 111 508.1 109.5 506.6 107 507.1 104.5 505.8 101.5 506.3 100.5 508.9 98.5 510.5 96 510.2 95 509 93.5 509.8 90 508.6 85.5 511.1 83 511.8 81.5 511.5 80.5 510.5 79.4 510.5 78.5 515.5 76.3 516.5 75.5 515.8 74.5 512.8 72.5 512.9 71.5 514 70 513.4 66 514.4 65 517.5 63.7 518.4 63 518.3 62.5 516.7 60.5 515.4 54 518 52 518.7 51 518.6 49.5 517.5 47.5 518 46.5 519.8 44.5 519.7 43 520.2 41 519.5 39.5 519.6 39 522 36.5 521 34.5 521 33.5 524.4 31 524.1 29 526 25.5 525.5 24.5 523.5 23 523.3 22 524.1 21 526.7 19 526.9 18.5 526.1 16.5 528.8 14.5 529.6 13.5 529.4 12.5 527 10.3 526.5 8 559.5 8 559.5 441.5ZM393 125.5 383 126 373 125.8 363 124.9 354 123.6 345 121.7 337 119.3 329 116.1 322 112.7 316 109.1 310.8 105 305.7 100 301.3 94.5 297.2 88 294.2 81 291.8 73.5 291.5 71 291.8 70 292.5 69.3 293.3 69.5 295.5 73 296.5 74 296.5 74.5 298.5 76.7 308 84.6 313.5 88.7 323 94.4 334 99.2 347 103.3 362 106.2 378 107.7 393 107.6 409 106.2 426 103.2 441 99.2 456 93.7 469 87.6 482.5 79.7 496.5 70 501.5 65.5 505.5 61 507.6 59.5 507.3 62 506.7 63 504.2 65.5 502.2 69 496.3 76.5 489.5 84 483 90.1 476.5 95.5 469.5 100.6 462 105.2 454.5 109.2 445.5 113.2 436.5 116.6 428.5 119.2 420 121.4 411 123.2 402 124.6 393 125.5ZM382 153 372 153.2 362 152.8 352 151.7 343 150.2 335 148.2 327 145.6 319 142.3 312 138.6 306 134.6 301 130.3 295.6 124.5 291.6 119 287.6 111.5 283.7 101 283.6 99.5 285 96.5 287.4 99.5 288.5 101.4 290.5 103.6 294 106 305.5 115.3 315 121.1 326.5 126.3 339 130.3 354 133.3 369 134.8 385.5 134.9 400.5 133.6 417.5 130.8 433 126.7 448.5 121.2 461.5 115.1 473.5 108.2 490.5 96.9 499 88.6 500 87.8 500.5 88 500.1 90 497.3 94.5 489.8 104 482.5 111.9 475.9 118 469 123.6 462 128.5 454.5 133 446.5 137.1 438.5 140.6 429 144.2 420.5 146.8 411 149.1 401.5 150.9 392 152.2 382 153ZM368.5 181 359 180.8 350 180.2 340.5 178.9 332 177.2 324.5 175.1 316.5 172.3 309.5 169.2 303 165.6 298 162.2 293.5 158.4 288.8 153.5 284.9 148.5 281.7 143.5 279.2 138 275.2 127 275.3 125.5 277 124.3 277.5 124.6 278.5 125.5 279.5 127.5 282 130.5 287 134 296 141.4 301.5 145.2 312 150.8 323.5 155.3 336.5 158.8 351.5 161.3 367.5 162.4 384.5 161.9 399.5 160.2 417 156.7 432 152.3 447.5 146.1 455.5 142.3 463.5 137.8 484 124.4 486.5 122.1 487 122 492.5 116.5 493.1 115.5 496.6 112 497 111.1 498 110.2 498.5 110.5 497.7 112 495.8 114 493.3 119 488.8 125 482.3 133 476.5 139.2 469.5 145.7 462 151.7 454 157.2 447 161.3 438 165.7 428.5 169.7 418.5 173.1 409.5 175.7 399 177.9 388.5 179.6 378 180.6 368.5 181ZM367.5 209.5 357.5 209.7 347.5 209.3 337.5 208.3 328 206.7 319.5 204.7 311.5 202.1 303.5 198.8 296.5 195.2 291 191.7 285.5 187.1 280.6 182 276.3 176.5 273.3 171.5 270.2 164.5 267.2 156 266.8 154 267.1 152.5 268 151.4 268.5 151.5 272 156 272 156.5 274 158.7 277.5 161 286.5 168.3 292 172.2 302 177.8 312.5 182.2 326 186.2 339.5 188.8 355 190.2 371.5 190.3 388.5 188.8 403.5 186.2 419 182.3 435 176.7 448 170.8 459.5 164.3 479 151.5 487 143.7 487.5 143.3 487.8 143.5 486 146 486.2 147.5 485.8 148.5 483.8 151.5 475.3 162 470 167.6 463 174.1 456 179.7 449 184.7 441.5 189.2 433.5 193.3 424.5 197.2 415 200.7 406.5 203.3 397 205.6 387.5 207.4 377.5 208.7 367.5 209.5ZM359 238.5 348.5 238.6 338.5 238.2 329 237.1 319 235.4 310.5 233.3 302.5 230.7 294.5 227.3 287.5 223.6 282 220 277 215.9 271.8 210.5 267.6 205 264.6 200 261.7 193.5 259.2 186.5 257.9 181.5 258 180.5 259 179.5 259.5 179.7 260.4 180.5 262.5 184 263.5 185 263.5 185.5 265.5 187.5 270 190.6 278 197.1 283 200.7 292.5 206.1 303 210.6 316.5 214.8 331.5 217.7 347.5 219.2 363.5 219.3 381 217.8 396.5 215.2 412 211.2 428 205.7 441 199.8 453.5 192.8 471 181.3 472.5 180 473 180 480.5 172.6 481.5 171.8 481.9 172 482.2 173 481.8 174 477.2 180.5 470.4 189 463 197 456 203.3 448.5 209.2 441.5 214.1 434 218.5 425.5 222.7 416 226.8 406.5 230.1 398 232.6 389 234.7 378.5 236.6 369 237.8 359 238.5ZM355.5 267.5 345 267.9 334.5 267.7 324 266.7 313.5 265.1 304.5 263.1 295.5 260.3 287.5 257 280 253.2 274 249.4 268.5 244.9 262.9 239 258.5 233 255.1 227 251.2 217 249.9 210.5 250.3 208 251.9 209.5 253 211.5 256.5 216 261 218.9 272 227.7 282 233.8 294 239.2 301.5 241.7 308.5 243.7 324 246.6 340 248.1 355.5 248.2 373 246.8 388.5 244.2 406 239.8 422 234.2 435 228.3 447.5 221.2 465.5 209.5 468 207 469 206.5 475.5 199.8 476 200 475.4 201 475.2 203 473.3 206 463.8 218 457.5 224.9 450.9 231 444 236.7 436.5 242 429 246.7 421 250.8 412 254.8 403 258.1 393.5 261.1 385 263.2 375 265.2 365 266.7 355.5 267.5ZM345.5 297.5 334.5 297.8 324 297.3 313.5 296.3 303.5 294.6 295 292.6 286 289.7 277.5 286.1 270 282.1 264 278 258.5 273.2 253.4 267.5 249.1 261.5 245.8 255 241.3 243 240.7 239.5 241.5 237.1 242.2 237.5 244 240 244 240.5 248 245.5 252.5 248.4 263 256.7 273.5 263.2 286 268.7 293.5 271.2 301 273.3 316.5 276.2 333 277.6 349 277.6 366 276.2 383.5 273.2 400.5 268.8 417 262.8 426 258.8 435.5 253.7 459.5 238.5 470.2 228 470.3 227.5 471 226.9 471.2 227 469.1 231 465.9 233.5 466.4 235.5 464.7 238 456.3 248.5 451 254.3 444 260.8 436.5 266.9 429 272.2 421.5 276.7 413.5 280.8 404.5 284.7 395 288.2 385.5 291.1 376.5 293.3 366 295.3 355.5 296.7 345.5 297.5ZM337 327.5 326.5 327.7 316 327.3 305.5 326.2 295.5 324.6 287 322.6 278 319.7 270.5 316.7 262.5 312.6 256.8 309 251.3 304.5 246 299 241.7 293.5 238.7 288.5 236.2 283 232.2 272 231.5 269 231.6 268 232.5 266.9 233 267.1 233.9 268 234 268.5 237.5 273.5 239.5 275.7 244 278.5 256 287.8 266 293.6 276.5 298.3 290.5 302.7 305.5 305.7 320.5 307.4 338 307.7 354 306.7 371 304.2 388 300.3 403.5 295.3 417 289.6 428.5 283.7 452 268.9 460 261.7 460.5 261.7 461.2 262.5 461.2 263.5 460.2 265 452.8 274.5 446.3 282 441 287.3 434.4 293 427 298.7 419.5 303.7 412.5 307.7 403.5 312 394.5 315.8 385 319.1 376 321.6 366.5 323.8 356 325.6 346.5 326.8 337 327.5ZM459 285.9 458.7 285.5 459.5 284.2 460 284.5 459 285.9ZM329 358 318 358.2 307 357.7 296.5 356.6 286 354.8 277 352.6 268.5 349.8 260 346.2 252.5 342.2 246.5 338.1 241 333.2 235.8 327.5 231.5 321.5 228.2 315 224.4 305 224.6 302 223.1 298.5 222.9 297 223.2 296 223.7 296 224.5 297.5 225.4 298.5 225.5 299 226.4 300 226.5 300.5 230.5 305.5 235.5 308.5 244.5 315.7 249 318.8 255 322.3 267 327.8 274 330.3 282.5 332.7 297.5 335.7 313 337.4 331 337.7 349.5 336.3 366 333.7 382.5 329.7 399 324.2 413 318.1 426.5 310.7 445 298.9 446.5 297.5 447 297.5 455 289.6 456 288.8 456.3 289 454.1 294 452.8 296 444.8 306 436.5 315.2 430 321.1 422.5 327.1 414.5 332.7 407 337.2 398 341.7 388.5 345.7 379 349.1 370 351.7 360 354.1 349.5 355.9 339.5 357.2 329 358ZM324 389 313 389.4 302 389.1 291 388.1 280 386.4 270.5 384.3 262 381.7 253.5 378.3 245.5 374.3 239.5 370.6 233.5 365.7 228.1 360 223.5 354 219.6 347 217.7 342.5 217.6 341 216.6 339.5 214.8 334.5 214.5 333 215 328.7 215.5 328.5 216.4 329.5 217.9 331.5 218 332 219.4 333.5 219.5 334 221.5 336 227 339.6 239 348.7 249.5 354.7 256.5 357.8 263 360.2 277.5 364.3 294.5 367.2 311 368.4 328.5 368.2 347.5 366.3 364.5 363.2 382.5 358.2 398.5 352.2 407 348.3 415.5 343.7 438.5 329.4 441.5 326.5 442.5 326 447.5 321 448.1 320 451.9 316 452.2 316 451.6 318.5 448.7 322 447.2 325 437.8 337 430.5 345.1 423.5 351.6 416.5 357.3 409 362.6 401.5 367.3 394 371.2 384 375.6 374.5 379.2 365 382.1 355 384.6 344.5 386.6 334 388.1 324 389ZM443 350.3 442.6 350 442.6 349.5 443.5 348.6 443.7 349.5 443 350.3ZM403.5 441.5 200.1 441.5 217.5 382.6 217.5 382 216.5 381 216.5 380.5 215 378 215 377 212 371 211.1 370 210.6 368.5 209.6 367.5 207.6 363.5 206.7 362.5 206.3 361.5 206.5 360.6 207.9 361.5 208 362 209 363 209 363.5 210.5 365 210.5 365.5 212.5 367.5 217.5 370.5 229.5 379.6 240 385.6 252 390.7 260 393.3 267.5 395.2 283.5 398.2 300.5 399.6 317 399.7 335 398.2 353 395.3 369.5 391.2 385.5 385.7 399.5 379.6 413 372.2 431.5 360.5 433 359 433.5 359 441 351.5 441.3 352.5 437.4 356.5 437.4 357 427 367.5 427 368 421.5 373.5 421.5 374 418.1 377.5 403.8 441.5 403.5 441.5Z" fill="#28ddb5" fill-rule="evenodd"/>
<path d="M288.5 40.2 288.5 28 289 27.5 289 24.5 289.5 24 289.5 22 290 21.5 290 20 289.5 19.5 150 19.5 150 8 299.9 8 300.2 9 299.9 9.5 297 11.3 296.6 12 298.5 13.5 299 14 298.9 14.5 297.3 16.5 297.3 18 295.1 22.5 295 24 294.3 25.5 295 28 294.5 30.1 293.1 32.5 293.5 34.5 292.8 36 292.8 37.5 292.1 38.5 288.5 40.2ZM399.5 95.5 386 95.9 373 95.2 360.4 93.5 348.5 90.9 337 87.2 326.5 82.5 317.5 77.2 309.4 71 327.9 8 501.1 8 488.2 65.5 487.8 66 478.5 72 468.3 77.5 457.1 82.5 446.5 86.4 434.5 89.9 423.1 92.5 411 94.4 399.5 95.5ZM559.5 19.5 526.2 19.5 526.9 18.5 526.1 16.5 528.8 14.5 529.6 13.5 529.4 12.5 527 10.3 526.5 8 559.5 8 559.5 19.5ZM525 24 523.5 23 523.3 22 524.1 21 526 19.7 526 20.5 525.5 21 525.5 22.5 525 23 525 24ZM172.5 441.5 150 441.5 150 321 200 321 199.5 321.5 199.5 323.5 199 324 199 326 198.5 326.5 198.5 331.5 198 332 198 336 198.5 336.5 198.5 341 199 341.5 199 344 199.5 344.5 200 348 200.5 348.5 200.5 349.5 201 350 201 351.4 197.5 353.2 196 354.5 196.1 355.5 196.5 356 199.1 358 199.2 358.5 198.8 359.5 197.4 361 193.1 363.5 193.3 366 189.7 369 189.7 370 192.8 373 193.3 374 192.8 377.5 191.2 380 191.6 382.5 188.3 385 187.9 386 189.1 388 189.3 389 186.8 393 187.8 395 186.9 397 187.5 399.5 185.1 402 187.1 404.5 186.3 405.5 183.9 407 182.9 408 182.3 411 180.5 414.5 179.4 416 179.2 418.5 175.2 421.5 175.2 422 177.4 424.5 177 425.8 175.6 428 176 431 171.6 437.5 171.7 438.5 173 441.5 172.5 441.5ZM559.5 441.5 431.5 441.5 429.7 440.5 429.5 440 429.8 439.5 432 438.2 432.5 437.5 431.7 435.5 432.9 433.5 433 432 434.3 430 434.5 428 435.3 426.5 434.8 424 436.5 421.5 436.3 420.5 435.1 419 435 418.5 437.2 416.5 437.7 415.5 435.5 413.3 435.1 412.5 436.1 411.5 439 410.2 440.5 409 439.7 406 440.4 402.5 441 401.5 443.4 399.5 443.9 398.5 443.6 397.5 441.5 395 441.2 393.5 441.5 392.5 443.8 390 442.8 388 442.9 387.5 445.5 385.9 446.2 385 443.9 382.5 443.6 381 446.2 378 446.6 377 446.1 375 446.3 374.5 449 372.7 449.4 372 448 370 447.5 367 450.9 364.5 450.8 363.5 449.5 362 449.4 361 451.1 359.5 452 358 453.9 356 453.8 355 452.7 353 453.7 348.5 452.6 346.5 453.6 344.5 454 342.6 455.3 340.5 455 339.5 454 338 453.9 337 454.5 335 454.5 333.5 456 331 456 330 457.5 327.5 457.5 326.6 459.2 324.5 459 322 459.5 321.5 459.5 321 559.5 321 559.5 441.5ZM403.5 441.5 200.1 441.5 217.5 382.6 219 384.5 219 385 220.5 386.5 220.5 387 222 388.5 222 389 224 391 224 391.5 233.5 401 234 401 235.5 402.5 236 402.5 238.5 404.5 239 404.5 240 405.5 241.5 406 242.5 407 247 409 253.5 412.5 254.5 412.5 256 413.5 257 413.5 257.5 414 260 414.5 260.5 415 263 415.5 263.5 416 265 416 265.5 416.5 266.5 416.5 267 417 269 417 269.5 417.5 271 417.5 271.5 418 274 418 274.5 418.5 276.5 418.5 277 419 280 419 280.5 419.5 284 419.5 284.5 420 288.5 420 289 420.5 295.5 420.5 296 421 312.5 421 313 420.5 320 420.5 320.5 420 325 420 325.5 419.5 329 419.5 329.5 419 332.5 419 333 418.5 335.5 418.5 336 418 338.5 418 339 417.5 341 417.5 341.5 417 343.5 417 344 416.5 346 416.5 346.5 416 348 416 348.5 415.5 352 415 352.5 414.5 353.5 414.5 354 414 355.5 414 356 413.5 358.5 413 359 412.5 361.5 412 362 411.5 363 411.5 364.5 410.5 367 410 368.5 409 369.5 409 371 408 372 408 375.5 406 376.5 406 381 403.5 386.5 401 387.5 400 390 399 391 398 392.5 397.5 396.5 394.5 397 394.5 399.5 392.5 400 392.5 403.5 389.5 404 389.5 406 387.5 406.5 387.5 408.5 385.5 409 385.5 415.5 379.5 416 379.5 418.1 377.5 403.8 441.5 403.5 441.5Z" fill="#1dddc0" fill-rule="evenodd"/>
<path d="M289 39.6 288.5 39.9 288.5 28 289 27.5 289 24.5 289.5 24 289.5 22 290 21.5 290 20 289.5 19.5 150 19.5 150 8 299.2 8 299.5 9 299.2 9.5 296.5 11.2 295.9 12 297.8 13.5 298.2 14 298.2 14.5 296.8 16 296.5 18.3 294.6 22 294.3 24 293.6 25.5 294.2 28 293.6 30.5 292.4 32.5 292.8 34.5 292.1 36 292.1 37.5 291.3 38.5 289 39.6ZM396.5 95 384 95.1 371.5 94.3 359.5 92.6 348 90 337.5 86.6 328 82.5 319.2 77.5 311.7 72 330.4 8 498.6 8 485.4 67 484.8 67.5 475 73.4 464.9 78.5 454.3 83 443 86.9 431.7 90 419.6 92.5 408 94.1 396.5 95ZM559.5 19.5 526.9 19.5 527.6 18.5 526.8 16.5 530.3 13.5 530.1 12.5 527.5 10 527.2 8 559.5 8 559.5 19.5ZM525 23.6 524.3 23 524 22 526 20.2 525.5 21 525.5 22.5 525 23 525 23.6ZM172 441.5 150 441.5 150 321 200 321 199.5 321.5 199.5 323.5 199 324 199 326 198.5 326.5 198.5 331.5 198 332 198 336 198.5 336.5 198.5 341 199 341.5 199 344 199.5 344.5 199.5 346 200 347 200 348 200.5 348.5 200.8 350.5 200.2 351.5 196.5 353.4 195.3 354.5 195.2 355 195.8 356 198.4 358 198.5 358.5 198.1 359.5 196.7 361 192.4 363.5 192.6 366 189.5 368.5 188.8 369.5 192.1 373 192.6 374 192.1 377.5 190.5 380 190.9 382.5 187.3 385.5 187.3 386.5 188.5 388 188.6 389 186.2 392.5 186.3 393.5 187.1 395 186.2 397 186.8 399.5 184.5 402 186.4 404.5 185.6 405.5 183.2 407 182.2 408 181.5 411.3 180 414.2 178.7 416 178.6 418.5 174.6 421.5 174.6 422 176.5 423.9 176.7 424.5 176.4 425.5 174.9 428 175.4 430.5 175.3 431 170.9 437.5 171.2 439 172.3 441.5 172 441.5ZM559.5 441.5 432.2 441.5 430.4 440.5 430.2 440 430.5 439.5 432.5 438.3 433.2 437.5 432.4 435.5 433.6 433.5 433.9 431.5 434.9 430 435 428.5 436 426.5 435.5 424 437.2 421.5 437 420.5 435.8 419 435.7 418.5 437.9 416.5 438.3 415.5 436 413.1 435.8 412.5 436.8 411.5 439.5 410.3 441.2 409 440.4 406 441 402.5 441.7 401.5 444.1 399.5 444.6 398.5 444.3 397.5 442 394.6 441.9 393 444.5 390 443.5 388 443.6 387.5 446.5 385.7 446.9 385 444.6 382.5 444.2 381.5 444.6 380.5 446.6 378.5 447.2 377.5 447 374.5 449.5 372.8 450.1 372 448.7 370 448.2 367 451.6 364.5 451.7 364 450.2 362 450.1 361 451.8 359.5 454.6 356 454.5 355 453.4 353 454.4 348.5 453.3 346.5 454.3 344.5 454.5 343 455.9 340.5 455.8 339.5 454.5 337.5 455.3 334.5 454.9 333.5 455 332.5 456 331 456 330 456.5 329.5 457 328 459.9 324.5 459 322.7 459 322 459.5 321.4 460.1 321 559.5 321 559.5 441.5ZM401 441.5 202.6 441.5 219.1 385.5 220.5 386.5 220.5 387 224 391 224 391.5 233.5 401 234 401 235.5 402.5 236 402.5 238.5 404.5 239 404.5 240 405.5 241.5 406 242.5 407 247 409 253.5 412.5 254.5 412.5 256 413.5 257 413.5 257.5 414 260 414.5 260.5 415 263 415.5 263.5 416 265 416 265.5 416.5 266.5 416.5 267 417 269 417 269.5 417.5 271 417.5 271.5 418 274 418 274.5 418.5 276.5 418.5 277 419 280 419 280.5 419.5 284 419.5 284.5 420 288.5 420 289 420.5 295.5 420.5 296 421 312.5 421 313 420.5 320 420.5 320.5 420 325 420 325.5 419.5 329 419.5 329.5 419 332.5 419 333 418.5 335.5 418.5 336 418 338.5 418 339 417.5 341 417.5 341.5 417 343.5 417 344 416.5 346 416.5 346.5 416 348 416 348.5 415.5 352 415 352.5 414.5 353.5 414.5 354 414 355.5 414 356 413.5 358.5 413 359 412.5 361.5 412 362 411.5 363 411.5 364.5 410.5 367 410 368.5 409 369.5 409 371 408 372 408 375.5 406 376.5 406 381 403.5 386.5 401 387.5 400 390 399 391 398 392.5 397.5 396.5 394.5 397 394.5 399.5 392.5 400 392.5 403.5 389.5 404 389.5 406 387.5 406.5 387.5 408.5 385.5 409 385.5 411.5 383 412 383 414.5 380.5 415 380.5 401.3 441.5 401 441.5Z" fill="#24ddb8" fill-rule="evenodd"/>
<path d="M401.5 94 389 94.5 376.5 94 364.5 92.7 352.9 90.5 342.3 87.5 331.9 83.5 322.2 78.5 314 73 332.9 8 496 8 482.6 68 482.2 68.5 473.7 73.5 463.5 78.5 453.9 82.5 443.8 86 433 89 423 91.2 412 93 401.5 94ZM398.5 441.5 205.2 441.5 221 387.9 222 388.5 222 389 224 391 224 391.5 233.5 401 234 401 235.5 402.5 236 402.5 238.5 404.5 239 404.5 240 405.5 241.5 406 242.5 407 247 409 253.5 412.5 254.5 412.5 256 413.5 257 413.5 257.5 414 260 414.5 260.5 415 263 415.5 263.5 416 265 416 265.5 416.5 266.5 416.5 267 417 269 417 269.5 417.5 271 417.5 271.5 418 274 418 274.5 418.5 276.5 418.5 277 419 280 419 280.5 419.5 284 419.5 284.5 420 288.5 420 289 420.5 295.5 420.5 296 421 312.5 421 313 420.5 320 420.5 320.5 420 325 420 325.5 419.5 329 419.5 329.5 419 332.5 419 333 418.5 335.5 418.5 336 418 338.5 418 339 417.5 341 417.5 341.5 417 343.5 417 344 416.5 346 416.5 346.5 416 348 416 348.5 415.5 352 415 352.5 414.5 353.5 414.5 354 414 355.5 414 356 413.5 358.5 413 359 412.5 361.5 412 362 411.5 363 411.5 364.5 410.5 367 410 368.5 409 369.5 409 371 408 372 408 375.5 406 376.5 406 381 403.5 386.5 401 387.5 400 390 399 391 398 392.5 397.5 396.5 394.5 397 394.5 399.5 392.5 400 392.5 401.5 391 402 391 403.5 389.5 404 389.5 406 387.5 406.5 387.5 408.5 385.5 409 385.5 411.5 383 411.9 383 398.7 441.5 398.5 441.5Z" fill="#2cddb1" fill-rule="evenodd"/>
<path d="M397.5 93.5 385.5 93.7 374 93.1 362.5 91.6 352.1 89.5 341.7 86.5 332.5 82.9 323 78.1 316.1 73.5 335.4 8 493.6 8 479.6 69.5 470.5 74.5 461 78.9 452 82.5 441.5 86 430.5 88.9 420 91 409 92.6 397.5 93.5ZM396 441.5 207.7 441.5 222.8 390 233.5 401 234 401 235.5 402.5 236 402.5 238.5 404.5 239 404.5 240 405.5 241.5 406 242.5 407 247 409 253.5 412.5 254.5 412.5 256 413.5 257 413.5 257.5 414 260 414.5 260.5 415 263 415.5 263.5 416 265 416 265.5 416.5 266.5 416.5 267 417 269 417 269.5 417.5 271 417.5 271.5 418 274 418 274.5 418.5 276.5 418.5 277 419 280 419 280.5 419.5 284 419.5 284.5 420 288.5 420 289 420.5 295.5 420.5 296 421 312.5 421 313 420.5 320 420.5 320.5 420 325 420 325.5 419.5 329 419.5 329.5 419 332.5 419 333 418.5 335.5 418.5 336 418 338.5 418 339 417.5 341 417.5 341.5 417 343.5 417 344 416.5 346 416.5 346.5 416 348 416 348.5 415.5 352 415 352.5 414.5 353.5 414.5 354 414 355.5 414 356 413.5 358.5 413 359 412.5 361.5 412 362 411.5 363 411.5 364.5 410.5 367 410 368.5 409 369.5 409 371 408 372 408 375.5 406 376.5 406 381 403.5 386.5 401 387.5 400 390 399 391 398 392.5 397.5 396.5 394.5 397 394.5 399.5 392.5 400 392.5 401.5 391 402 391 403.5 389.5 404 389.5 406 387.5 406.5 387.5 408.8 385.5 396.2 441.5 396 441.5Z" fill="#33ddaa" fill-rule="evenodd"/>
<path d="M401.5 92.5 389.5 93 378 92.6 367 91.5 355.7 89.5 346 87 335.9 83.5 327 79.4 318.6 74.5 318.4 74 337.8 8 491.2 8 477.2 70 476.7 70.5 468.1 75 459.2 79 450.1 82.5 440.7 85.5 431.2 88 421.6 90 411.9 91.5 401.5 92.5ZM393 125 383.5 125.4 373.5 125.3 365 124.6 354.5 123.2 345.5 121.2 337.5 118.8 329.5 115.7 322.5 112.2 316 108.3 311 104.3 305.7 99 301.3 93.5 297.2 87 294.4 80.5 291.9 73 291.7 71 292.1 70 293.1 69.5 298.5 77.1 307 85.5 309.5 87.5 318.5 93.5 332 100 333 100.1 339 102.5 343.5 103.6 344.1 104 345.5 104.1 346 104.5 352 105.7 352.5 106 354.5 106.2 355 106.5 360 107.1 360.8 107.5 376.5 109 393.5 109 409.8 107.5 410.5 107.1 416.2 106.5 417 106.1 419 106 419.5 105.6 421.5 105.5 422 105.1 426.2 104.5 426.5 104.2 434.1 102.5 434.5 102.1 435.9 102 438 101.1 442.5 100 443 99.6 444 99.5 452.5 96.1 453.5 96 455 95.1 460.5 93 471.5 87.5 484.5 79.5 495.5 71 501.6 65.5 505.5 61.1 507 59.9 507.3 60 506.8 62.5 505.7 64 503.9 65.5 501.6 69.5 494.6 78 489 83.9 482 90.4 476 95.3 469 100.3 461 105.2 453 109.3 445.5 112.7 437.5 115.8 428.5 118.7 420.5 120.8 411 122.7 401.5 124.2 393 125ZM381.5 152.5 372 152.7 362 152.3 352.5 151.2 344 149.8 337 148.2 329 145.7 321.5 142.7 314.5 139.3 308.5 135.6 304 132.1 299.1 127.5 294.9 122.5 290.7 116.5 288.3 112 284.2 101.5 283.8 100 284 99 285.5 97.3 290.4 104 294 107.6 298.5 112 305.1 117 312.5 121.5 319.5 125 325.5 127.5 332.5 129.6 332.9 130 334 130.1 334.5 130.5 336 130.7 340.2 132 344 132.6 344.5 133 346.5 133.1 347 133.5 352 134.1 353 134.5 355.5 134.6 356.4 135 367.5 136 388.5 136 407 134 407.5 133.7 410 133.5 410.5 133.1 412.7 133 413.5 132.6 419.9 131.5 420.5 131.1 422 131 422.5 130.6 426 130 426.5 129.6 429.6 129 430 128.6 433 128 433.5 127.6 437.6 126.5 452 121 460.5 117 468 113 480.5 105 490 97.6 498.5 89.2 500.2 88 499.7 90.5 496.7 95 488.6 105 482.5 111.4 475.5 117.7 468 123.7 461.5 128.2 454 132.8 446 136.8 437 140.7 428.5 143.8 419 146.7 410.5 148.7 399.5 150.7 391 151.8 381.5 152.5ZM497 112.5 496.7 111.5 498 110.4 498 111 497 112.5ZM379 180 369 180.5 359 180.3 350.5 179.7 340 178.2 332.5 176.7 323.5 174.2 315.5 171.2 308 167.7 302 164.2 296.5 160.2 291.5 155.5 286.8 150 282.7 144 280.3 139.5 275.7 127.5 275.5 125.7 277 124.5 277.9 125 280.9 129.5 286 135.1 292 140.5 297.4 144.5 304 148.5 310.9 152 320.9 156 335.3 160 342.5 161.2 343 161.5 349 162.1 349.9 162.5 362 163.5 379.8 163.5 396 162 396.5 161.7 402.5 161 403 160.7 405.3 160.5 406 160.1 408 160 408.5 159.6 412.7 159 413 158.7 418.8 157.5 429.1 154.5 434 152.6 435.1 152.5 435.5 152.1 436.5 152 447.5 147.5 460.5 141 465 138.1 466.5 137.5 467.5 136.6 474 132.5 482.5 126 487 122.1 495.5 113.3 495.9 113.5 494.5 116.5 491.6 121 483.6 131 477.5 137.7 470.5 144.2 463 150.3 456 155.3 449.5 159.3 442 163.3 434.5 166.7 425.5 170.3 416.5 173.2 407 175.8 397.5 177.7 387.5 179.2 379 180ZM367 209 357.5 209.2 347.5 208.8 337.5 207.7 328.5 206.2 320 204.2 312.5 201.8 305 198.8 297 194.7 291.5 191.2 286 186.6 281.1 181.5 276.8 176 273.3 170.5 270.4 164 267.3 155.5 267 153.5 267.4 152.5 268 151.7 268.5 151.7 273.5 158.5 277.5 162.7 282.5 167.5 288.5 172 294.9 176 299.8 178.5 311.5 183.5 321.1 186.5 324.5 187.1 325 187.5 331.5 188.6 332 189 337 189.6 338 190 341 190.2 341.6 190.5 353 191.5 374 191.5 389.5 190 390.5 189.6 396 189 396.5 188.7 398.8 188.5 399.5 188.1 406.1 187 406.5 186.7 410.3 186 421.1 183 421.5 182.6 428.5 180.5 429 180.1 430 180 437.6 177 448.4 172 462.5 164 473 156.5 478.5 152.1 486 144.8 486.4 145 485.8 146 485.8 148 484.2 150.5 476.2 160.5 469 168 461.5 174.7 454.5 180.2 447 185.3 439.5 189.7 431 193.8 423 197.2 414.5 200.3 405 203.2 396 205.3 385.5 207.2 376.5 208.3 367 209ZM358 238 349 238.1 339 237.7 329.5 236.6 318.5 234.7 310.5 232.7 303 230.2 295 226.8 288 223.1 282 219.2 277.5 215.4 272.8 210.5 268.4 205 264.9 199.5 262.3 194 259.3 186 258.2 181.5 258.3 180.5 259 179.7 259.8 180 262 183.5 265.5 188 273 195.5 279.5 200.5 285 204 290.5 207 297 210 303 212.1 303.4 212.5 317.1 216.5 323.5 217.6 324.2 218 326.5 218.2 326.9 218.5 333 219.1 334 219.5 345 220.5 366.5 220.5 382.3 219 383 218.6 388.8 218 389.5 217.6 391.5 217.5 392 217.2 399 216 399.5 215.6 403.2 215 414 212 414.5 211.6 415.6 211.5 416 211.1 423 209 433 205 445.5 199 455 193.5 460.5 189.6 461 189.5 469.5 183 473 180.1 480.5 172.6 481.7 172 481.9 173 481.6 174 477.7 179.5 469.1 190 463 196.4 456 202.7 449 208.2 441 213.8 433.5 218.2 425.5 222.1 416 226.2 407.5 229.2 397.5 232.2 388.5 234.3 377.5 236.2 368.5 237.3 358 238ZM355 267 345 267.4 335 267.1 324.5 266.2 314.5 264.7 305.5 262.7 296 259.8 288.5 256.8 280.5 252.7 275 249.3 269 244.3 263.9 239 259.3 233 255.4 226.5 251.4 216.5 250.2 210.5 250.5 208.4 251.8 209.5 251.9 210 252.9 211 254 213 259 219 262 222 268 227 277 233 287.9 238.5 292.5 240.1 293 240.5 307.5 245 313.5 246.1 314.3 246.5 316.5 246.7 317 247 322.5 247.7 323.1 248 339.5 249.5 357 249.5 374.3 248 375 247.6 377.8 247.5 378.5 247.1 381 247 381.5 246.6 389 245.5 389.5 245.1 393.5 244.5 394 244.1 395.6 244 396 243.7 397.6 243.5 398 243.2 405 241.5 405.5 241.1 411.2 239.5 416 237.6 417.1 237.5 420 236.1 421 236 422.5 235.1 423.5 235 438.5 228 452 220 464 211 468.5 207.1 475 200.5 475.1 202.5 474.2 204.5 465.1 216 458 223.8 450.5 230.7 443 236.8 436 241.7 428.5 246.3 420 250.6 410.5 254.8 402.5 257.7 393 260.7 384.5 262.8 374.5 264.8 364 266.2 355 267ZM344.5 297 334.5 297.2 324 296.8 314 295.7 304.5 294.2 296 292.2 287 289.3 279.5 286.2 271.5 282.2 265.5 278.3 260 273.6 254.7 268 250.2 262 246.7 256 243.2 247.5 240.9 240.5 240.9 239.5 241.5 237.9 242 237.5 242.9 238.5 243.9 240.5 250 248.1 254 252 259.5 256.5 269.5 263 277.4 267 283.5 269.5 284.5 269.7 289 271.5 297 273.6 297.5 274 299 274.1 299.5 274.5 301 274.6 306.3 276 308.5 276.2 309 276.5 314.5 277.1 315.2 277.5 331.5 279 349.5 279 366.8 277.5 367.5 277.1 373.5 276.5 374 276.2 376.5 276 377 275.6 384 274.5 384.5 274.1 388.3 273.5 399.5 270.5 400 270.1 401 270 401.5 269.6 408.5 267.5 415.5 264.6 416.5 264.5 424.5 261 432.5 257 442 251.5 449 246.6 449.5 246.5 456 241.5 465 233.5 469.5 228.8 470 229 468.8 231 465.7 233.5 466.2 235.5 463.7 239 456.3 248 450 254.6 442 261.8 435 267.3 428 272.2 420.5 276.6 412 280.9 403 284.7 394.5 287.8 385 290.7 376.5 292.8 366 294.8 355 296.2 344.5 297ZM336 327 326 327.2 315.5 326.7 305.5 325.6 294.5 323.8 286 321.6 277.5 318.8 270 315.7 262.5 311.8 257 308.2 251.5 303.6 246.1 298 241.9 292.5 238.8 287.5 235.8 281 232.3 271.5 231.8 269 231.9 268 232.5 267.2 233.3 267.5 237 273 239.5 276.1 246.5 283 253 288 262 293.5 269 297 276.4 300 283.5 302.1 284 302.5 291.3 304.5 293 304.7 293.4 305 300 306.1 300.8 306.5 303 306.6 303.8 307 306.5 307.2 307.1 307.5 323.5 309 341.5 309 359 307.5 360 307.1 366 306.5 366.5 306.2 369 306 369.5 305.6 376.5 304.5 377 304.2 381 303.5 381.5 303.1 383 303 383.5 302.6 385 302.5 385.5 302.1 390.5 301 391 300.6 398.5 298.5 403 296.6 404.1 296.5 404.5 296.1 405.4 296 407 295.1 408 295 422.5 288.5 435 281.5 442.5 276.5 448.5 272 455.5 266 459.5 262.2 460 261.8 460.9 262.5 461.1 263 460.7 264 453.7 273 447 280.7 441 286.6 434 292.7 426 298.7 418.5 303.7 412 307.3 404 311.2 394.5 315.2 385.5 318.3 375.5 321.2 366.5 323.3 355.5 325.2 346 326.3 336 327ZM327 357.5 317.5 357.6 307 357.1 295.5 355.8 286 354.2 278 352.2 269 349.2 260.5 345.6 253 341.6 247.5 337.9 242 333.2 236.8 327.5 232.3 321.5 228.7 315 224.8 305.5 224.6 304 224.9 302 223.6 299 223.3 296.5 223.5 296.1 224.3 297 224.3 297.5 225.3 298.5 227.4 302 233.5 309 241 315.5 247.4 320 252.5 323 259.5 326.5 265.5 329 270.5 330.6 271 331 272 331.1 272.5 331.5 281.1 334 287 335.1 287.5 335.5 289.5 335.6 290 336 298.5 337.2 299 337.5 315.5 339 334 339 351.5 337.5 352.5 337.1 358.5 336.5 359 336.2 361.5 336 362 335.6 369.2 334.5 369.5 334.2 373.5 333.5 374 333.1 375.6 333 376 332.7 377.6 332.5 378 332.1 379.5 332 380 331.6 386.5 330 387 329.6 388 329.5 388.5 329.1 394.1 327.5 394.5 327.1 395.5 327 396 326.6 404.5 323.5 416.5 318 420.5 315.6 423 314.5 431.5 309.1 432 309 443.5 300.5 455 289.8 455.5 289.3 455.8 289.5 453.9 294 452.1 296.5 443.2 307.5 436.5 314.5 429 321.3 421.5 327.2 413.5 332.7 405.5 337.4 396.5 341.7 388 345.3 378 348.8 368 351.7 358.5 353.8 347 355.7 337.5 356.9 327 357.5ZM322.5 388.5 311 388.8 300 388.4 289 387.2 279.5 385.7 271 383.7 261.5 380.8 254 377.7 246 373.7 240.5 370.3 234.5 365.5 229.1 360 224.4 354 220.2 347 215.3 335 214.8 333 215.2 331 215.2 329 215.5 328.7 216.3 329.5 222 337.1 227.5 342.5 233 347 239 351 247.1 355.5 252.5 358 261.5 361.5 267.5 363.1 267.9 363.5 271 364.1 271.4 364.5 273 364.6 273.4 365 275 365.1 277.8 366 285 367.2 285.5 367.5 291.5 368.1 292.5 368.5 295.5 368.6 296.6 369 314 370 331.5 369.5 349.5 367.5 350 367.2 355.4 366.5 356 366.1 358 366 358.5 365.7 360.5 365.5 361 365.1 367.2 364 380 360.5 380.5 360.1 386.1 358.5 386.5 358.1 387.5 358 388 357.6 393 356 402.5 352 414.5 346 423 341 424 340.1 429 337 438 330.1 447.1 321.5 450.5 317.7 451.5 316.7 451.8 317 451.1 319 448.4 322 447.6 324 446.2 326 437.8 336.5 430 344.9 422.5 351.7 415 357.7 407 363.3 400.5 367.2 391.5 371.7 382 375.8 372.5 379.2 362.5 382.2 354 384.3 343.5 386.2 332.5 387.7 322.5 388.5ZM443 350.2 442.7 349.5 443.5 348.7 443.6 349.5 443 350.2ZM393.5 441.5 210.1 441.5 224.5 392 224 391.5 224 391 220.5 387 220.5 386.5 219 385 217.5 382 216.6 381 215.1 378 215.1 377 212.1 371 211.1 370 210.6 368.5 209.6 367.5 207.6 363.5 206.7 362.5 206.5 360.9 207 360.8 207.8 361.5 208.9 363 208.9 363.5 210.4 365 210.5 365.5 217 372.5 226.5 380 227 380.1 228 381 228.5 381.1 233 384 238.9 387 243 389 251.5 392.1 252 392.5 259.5 394.6 260 395 261.5 395.1 261.9 395.5 265.8 396.5 267.5 396.6 267.9 397 275 398.2 275.5 398.5 277.5 398.6 278.3 399 285 399.7 285.6 400 296 400.7 297.5 401 320 401 321.5 400.7 327.5 400.5 328.5 400.1 336.7 399.5 337.5 399.1 343.5 398.5 344 398.1 346.5 398 347 397.6 349.2 397.5 350 397.1 354.1 396.5 354.5 396.2 356.5 396 357 395.6 358.6 395.5 359 395.1 360.6 395 363 394.2 364.6 394 365 393.6 366.5 393.5 368.5 392.7 370 392.5 370.5 392.1 376.4 390.5 382.1 388.5 382.5 388.1 383.6 388 386.5 386.6 387.5 386.5 404 379 407 377.1 409.5 376 416.5 371.5 417 371.5 423 367.1 423.5 367 427 364.1 427.5 364 429.5 362.1 430 362 432.5 359.5 433.5 359 441 351.6 441.3 352.5 437.4 356.5 436.8 357.5 426.9 367.5 426.9 368 421.4 373.5 421.4 374 412 383 411.5 383 406.5 387.5 406 387.5 393.8 441.5 393.5 441.5Z" fill="#46dd97" fill-rule="evenodd"/>
<path d="M401.5 92.5 389.5 93 378 92.6 367 91.5 355.7 89.5 346 87 335.9 83.5 327 79.4 318.6 74.5 318.4 74 337.8 8 491.2 8 477.2 70 476.7 70.5 468.1 75 459.2 79 450.1 82.5 440.7 85.5 431.2 88 421.6 90 411.9 91.5 401.5 92.5ZM393.5 441.5 210.1 441.5 224.5 392.5 225 392.5 233.5 401 234 401 235.5 402.5 236 402.5 238.5 404.5 239 404.5 240 405.5 241.5 406 242.5 407 247 409 253.5 412.5 254.5 412.5 256 413.5 257 413.5 257.5 414 260 414.5 260.5 415 263 415.5 263.5 416 265 416 265.5 416.5 266.5 416.5 267 417 269 417 269.5 417.5 271 417.5 271.5 418 274 418 274.5 418.5 276.5 418.5 277 419 280 419 280.5 419.5 284 419.5 284.5 420 288.5 420 289 420.5 295.5 420.5 296 421 312.5 421 313 420.5 320 420.5 320.5 420 325 420 325.5 419.5 329 419.5 329.5 419 332.5 419 333 418.5 335.5 418.5 336 418 338.5 418 339 417.5 341 417.5 341.5 417 343.5 417 344 416.5 346 416.5 346.5 416 348 416 348.5 415.5 352 415 352.5 414.5 353.5 414.5 354 414 355.5 414 356 413.5 358.5 413 359 412.5 361.5 412 362 411.5 363 411.5 364.5 410.5 367 410 368.5 409 369.5 409 371 408 372 408 375.5 406 376.5 406 381 403.5 386.5 401 387.5 400 390 399 391 398 392.5 397.5 396.5 394.5 397 394.5 399.5 392.5 400 392.5 401.5 391 402 391 403.5 389.5 404 389.5 405.8 388 393.8 441.5 393.5 441.5Z" fill="#3adda2" fill-rule="evenodd"/>
<path d="M395.5 92 385 92.1 374.8 91.5 365 90.3 355 88.5 345.6 86 337 83 329 79.5 320.9 75 320.6 74.5 340.2 8 488.7 8 474.5 71 465.5 75.5 456.1 79.5 446.3 83 436.1 86 426 88.4 416.5 90.1 406 91.3 395.5 92ZM391 441.5 212.5 441.5 226.5 394 233.5 401 234 401 235.5 402.5 236 402.5 238.5 404.5 239 404.5 240 405.5 241.5 406 242.5 407 247 409 253.5 412.5 254.5 412.5 256 413.5 257 413.5 257.5 414 260 414.5 260.5 415 263 415.5 263.5 416 265 416 265.5 416.5 266.5 416.5 267 417 269 417 269.5 417.5 271 417.5 271.5 418 274 418 274.5 418.5 276.5 418.5 277 419 280 419 280.5 419.5 284 419.5 284.5 420 288.5 420 289 420.5 295.5 420.5 296 421 312.5 421 313 420.5 320 420.5 320.5 420 325 420 325.5 419.5 329 419.5 329.5 419 332.5 419 333 418.5 335.5 418.5 336 418 338.5 418 339 417.5 341 417.5 341.5 417 343.5 417 344 416.5 346 416.5 346.5 416 348 416 348.5 415.5 352 415 352.5 414.5 353.5 414.5 354 414 355.5 414 356 413.5 358.5 413 359 412.5 361.5 412 362 411.5 363 411.5 364.5 410.5 367 410 368.5 409 369.5 409 371 408 372 408 375.5 406 376.5 406 381 403.5 386.5 401 387.5 400 390 399 391 398 392.5 397.5 396.5 394.5 397 394.5 399.5 392.5 400 392.5 401.5 391 402.9 390.5 391.4 441.5 391 441.5Z" fill="#42dd9b" fill-rule="evenodd"/>
<path d="M398 91 387.5 91.2 377 90.8 367 89.7 357.2 88 347.2 85.5 338.3 82.5 329.1 78.5 322.9 75 342.7 8 486.3 8 472 71.5 463.7 75.5 455.3 79 446.9 82 436.7 85 427.5 87.2 417.7 89 408 90.3 398 91ZM388.5 441.5 214.9 441.5 228.3 396 233.5 401 234 401 235.5 402.5 236 402.5 238.5 404.5 239 404.5 240 405.5 241.5 406 242.5 407 247 409 253.5 412.5 254.5 412.5 256 413.5 257 413.5 257.5 414 260 414.5 260.5 415 263 415.5 263.5 416 265 416 265.5 416.5 266.5 416.5 267 417 269 417 269.5 417.5 271 417.5 271.5 418 274 418 274.5 418.5 276.5 418.5 277 419 280 419 280.5 419.5 284 419.5 284.5 420 288.5 420 289 420.5 295.5 420.5 296 421 312.5 421 313 420.5 320 420.5 320.5 420 325 420 325.5 419.5 329 419.5 329.5 419 332.5 419 333 418.5 335.5 418.5 336 418 338.5 418 339 417.5 341 417.5 341.5 417 343.5 417 344 416.5 346 416.5 346.5 416 348 416 348.5 415.5 352 415 352.5 414.5 353.5 414.5 354 414 355.5 414 356 413.5 358.5 413 359 412.5 361.5 412 362 411.5 363 411.5 364.5 410.5 367 410 368.5 409 369.5 409 371 408 372 408 375.5 406 376.5 406 381 403.5 386.5 401 387.5 400 390 399 391 398 392.5 397.5 393.5 396.5 394 396.5 395 395.5 395.5 395.5 396.5 394.5 397 394.5 398 393.5 398.5 393.5 399.5 392.5 400 392.5 389 441.5 388.5 441.5Z" fill="#49dd93" fill-rule="evenodd"/>
<path d="M398.5 90 388.5 90.2 378.5 89.9 368.5 88.9 359 87.3 349.2 85 341 82.4 332.5 79 325.6 75.5 325.4 75 345.2 8 483.8 8 469.3 72 461.7 75.5 453 79 444 82 435.1 84.5 426.3 86.5 416.5 88.2 407.5 89.3 398.5 90ZM386.5 441.5 217.4 441.5 230.2 398 235.5 402.5 236 402.5 238.5 404.5 239 404.5 240 405.5 241.5 406 242.5 407 247 409 253.5 412.5 254.5 412.5 256 413.5 257 413.5 257.5 414 260 414.5 260.5 415 263 415.5 263.5 416 265 416 265.5 416.5 266.5 416.5 267 417 269 417 269.5 417.5 271 417.5 271.5 418 274 418 274.5 418.5 276.5 418.5 277 419 280 419 280.5 419.5 284 419.5 284.5 420 288.5 420 289 420.5 295.5 420.5 296 421 312.5 421 313 420.5 320 420.5 320.5 420 325 420 325.5 419.5 329 419.5 329.5 419 332.5 419 333 418.5 335.5 418.5 336 418 338.5 418 339 417.5 341 417.5 341.5 417 343.5 417 344 416.5 346 416.5 346.5 416 348 416 348.5 415.5 352 415 352.5 414.5 353.5 414.5 354 414 355.5 414 356 413.5 358.5 413 359 412.5 361.5 412 362 411.5 363 411.5 364.5 410.5 367 410 368.5 409 369.5 409 371 408 372 408 375.5 406 376.5 406 381 403.5 386.5 401 387.5 400 390 399 391 398 392.5 397.5 396.5 394.5 397.1 394.5 386.5 441.5Z" fill="#51dd8c" fill-rule="evenodd"/>
<path d="M398 89 388 89.2 378.5 88.8 369 87.9 360 86.4 351.5 84.5 343 82 335 78.9 327.8 75.5 347.7 8 481.3 8 466.9 72 461.5 74.7 452 78.4 443 81.3 434 83.8 425 85.8 416 87.3 407 88.4 398 89ZM384 125 374.5 124.9 365.5 124.2 357 123.1 348 121.4 340 119.1 333 116.6 326 113.4 319.5 109.9 314 106.1 309 101.7 304.3 96.5 300.2 91 296.9 85.5 293.3 77 292 72.5 292.4 70 293 69.6 293.8 70.5 296.4 74.5 302 81 309.5 87.6 316 92.1 321 95 332 100.1 339 102.6 346 104.6 360.5 107.5 376.5 109.1 393.5 109.1 410 107.5 424 105.1 441 100.5 456 95 472.5 87 484.5 79.6 495 71.5 501.6 65.5 505.5 61.2 506.5 60.3 506.9 60.5 507 61.5 506.6 62.5 505.5 64 503.7 65.5 502.5 67.9 500.2 71 493.5 78.9 487.5 84.9 480.5 91.1 472.5 97.3 465 102.4 458 106.3 449.5 110.5 440.5 114.2 432 117.2 423 119.7 414 121.8 403 123.6 393 124.6 384 125ZM383 152 373.5 152.3 364.5 152 355 151.1 346 149.7 338.5 148.1 330.5 145.7 323 142.8 316 139.4 310 135.9 305 132.2 300 127.6 295.1 122 290.9 116 288.4 111.5 284.2 101 284 100 284.2 99 285.5 97.5 290.4 104 294 107.8 299 112.5 305 117.1 310.5 120.5 316.2 123.5 328.1 128.5 342 132.5 356.5 135.1 367.5 136.1 388.5 136.1 403.5 134.6 420 131.5 434.8 127.5 451 121.5 464.5 115 477 107.5 489.5 98 499 88.8 499.5 88.4 499.9 88.5 499.5 90.5 496.1 95.5 489 104.2 482.5 110.9 475.5 117.2 468.5 122.8 461.5 127.7 454 132.2 445.5 136.5 437 140.2 428 143.5 419.5 146.1 411 148.2 401 150.1 392 151.3 383 152ZM497 112.2 496.8 111.5 497.5 110.9 497.7 111 497 112.2ZM370 180 360.5 179.9 351.5 179.3 342.5 178.2 334 176.6 326.5 174.6 319 172 312 169 305 165.3 299.5 161.8 294.5 157.6 289.6 152.5 285.6 147.5 282.2 142.5 279.7 137.5 275.9 127.5 275.6 126 275.9 125.5 277 124.7 277.8 125 279.4 127.5 283.5 132.6 289.5 138.5 296 143.6 300.5 146.6 306.7 150 312 152.6 319.5 155.6 333 159.6 340 161 349.5 162.5 362 163.6 380 163.6 396 162.1 405.5 160.5 415 158.5 430.9 154 446.5 148 461.5 140.5 474 132.6 482.5 126.1 487 122.1 494.5 114.3 495 114.5 494.6 116 492.9 119 488.7 124.5 481.5 133.1 475.5 139.1 468 145.8 461 151.2 453.5 156.4 445.5 161 437 165.1 427.5 169 418.5 172.2 409.5 174.7 400 176.8 389 178.6 379 179.6 370 180ZM367.5 208.5 357.5 208.7 347.5 208.3 337.5 207.2 328.5 205.7 320 203.6 312.5 201.2 305 198.1 298.5 194.8 292.5 191.1 287.5 187.2 282.5 182.2 277.8 176.5 273.8 170.5 271.3 165.5 267.5 155.5 267.2 154 267.4 153 268 152 268.5 151.8 269 152.2 273.4 158.5 277.5 162.9 282.5 167.6 288.5 172.1 294 175.6 299.5 178.5 311.5 183.6 325 187.6 332 189.1 341.5 190.6 353 191.6 374 191.6 389.5 190.1 406.4 187 421.3 183 436.5 177.5 449.5 171.5 462.5 164.1 475 155 485.7 145.5 485.7 148 484.5 149.9 477 159.2 470 166.6 462.5 173.3 455 179.3 447 184.8 440 188.9 432 192.9 423.5 196.5 415 199.7 405.5 202.6 396.5 204.7 386 206.6 377 207.8 367.5 208.5ZM359 237.5 349 237.6 339.5 237.2 330 236.2 320.5 234.6 312 232.6 304.1 230 296 226.6 289 223 283.5 219.5 278 215 273 209.9 268.3 204 264.8 198.5 262.2 193 259.4 185.5 258.5 182 258.6 180.5 259 180 259.7 180 265.4 188 272.9 195.5 278 199.5 282.5 202.6 289.5 206.6 302 212.1 309.5 214.5 317 216.6 324 218 333.5 219.5 345 220.6 366.5 220.6 382.5 219 399 216.1 414 212.1 423 209.1 432 205.5 446.5 198.5 455 193.6 461 189.6 469.5 183.1 473 180.1 480.5 172.7 481.5 172.2 481.6 173.5 481.2 174.5 476.7 180.5 469.5 189.2 463 195.9 456 202.1 447.5 208.8 440 213.9 433 217.9 424.5 222.1 416 225.7 406.5 229.1 398 231.6 389 233.7 378.5 235.6 369 236.8 359 237.5ZM355.5 266.5 345 266.9 335 266.6 324.5 265.7 314.5 264.2 305.5 262.2 297.5 259.7 289.5 256.6 282 252.8 276 249.2 270.5 244.8 265 239.4 259.9 233 255.8 226.5 252.4 218.5 251.3 215.5 251.3 213.5 250.5 210.5 250.6 209 251 208.8 251.7 209.5 253.9 213 259 219.1 263 223 268.5 227.5 274.5 231.6 280.5 235 293 240.6 307.5 245.1 323 248.1 339.5 249.6 357 249.6 374.5 248 391.5 245 408.5 240.5 423.5 235.1 438.5 228.1 450.5 221 461 213.5 468.5 207.1 474 201.7 474.5 201.3 474.8 201.5 474.5 203.7 469.7 210 462.5 218.6 456.5 224.8 448.5 231.8 441.5 237.3 435 241.8 427.5 246.3 419.5 250.3 411 254 401.5 257.6 393 260.2 385 262.2 375 264.2 365 265.7 355.5 266.5ZM467 232.2 466.5 232.5 466.3 232 469 229.3 469.4 229.5 468.6 231 467 232.2ZM345 296.5 334.5 296.7 324.5 296.3 314 295.2 304.5 293.6 296 291.6 288 289.1 280.4 286 272.5 282 266.5 278.2 261 273.7 255.5 268 250.8 262 246.9 255.5 243.3 247 241.2 240.5 241.2 239.5 241.8 238 242 237.8 242.8 238.5 244.9 242 249.5 247.6 254 252.1 259.5 256.6 269.5 263.1 277.3 267 283.5 269.6 290.5 272.1 299.5 274.6 315 277.5 331.5 279.1 349 279.1 367 277.5 382 275 396 271.6 411.5 266.5 424.5 261.1 437 254.6 445.9 249 453.5 243.6 459 239.1 464.5 233.9 465 233.7 466.1 235 465.7 236 464.6 237.5 456.5 247.4 451.5 252.7 445.5 258.3 439 263.7 431.5 269.2 424.5 273.8 418 277.4 409.5 281.4 400.5 285.1 392 288.1 383.5 290.6 374.5 292.7 364 294.6 354.5 295.8 345 296.5ZM336.5 326.5 326 326.7 316 326.2 306 325.2 296.5 323.6 288 321.6 279.6 319 271.5 315.7 264 311.9 258 308.2 252.5 303.7 247.4 298.5 242.2 292 239 287 235.9 280.5 232.5 271.5 232 269 232.2 268 233 267.3 233.7 268 236.9 273 239.5 276.1 246.4 283 251.5 287.1 261 293.1 269 297.1 275 299.5 283.7 302.5 291 304.5 307 307.6 323.5 309.1 341.5 309.1 359 307.6 376.5 304.6 394 300 408 295.1 420.5 289.6 433.5 282.5 446 274.1 451 270.1 459.5 262.2 460 261.9 460.7 262.5 460.9 263 460.5 264 452.6 274 446.5 280.8 441 286.1 434.5 291.7 426.5 297.8 419 302.8 411 307.3 402 311.6 393.5 315 384.5 318.2 376 320.6 367 322.7 356 324.6 346.5 325.8 336.5 326.5ZM327.5 357 317.5 357.1 307 356.6 297 355.5 286.5 353.7 278 351.6 269 348.6 261.5 345.4 254 341.5 248.5 337.8 242.5 332.7 237.1 327 232.2 320.5 228.8 314.5 225.3 306 224.8 304.5 225.2 302 223.9 299 223.5 297 224.2 297 224.2 297.5 225.2 298.5 227.4 302 232.5 308 241.5 316 246.5 319.5 252.5 323.1 259.5 326.6 265.5 329.1 272.5 331.6 281 334.1 290 336.1 298.5 337.5 315.5 339.1 334 339.1 351.5 337.6 367 335 385 330.5 401 325 416.5 318.1 430.5 310 443.5 300.6 454.5 290.3 454.9 290.5 453.7 294 450.7 298 442.5 307.9 435.5 315 428.5 321.1 420 327.7 412.5 332.7 404.5 337.3 396 341.4 387 345.1 377 348.6 368 351.2 359 353.2 348 355.1 338 356.3 327.5 357ZM322.5 388 311.5 388.3 301 387.9 290 386.8 280 385.2 271 383.2 263 380.7 255 377.5 247 373.5 241 369.9 235 365.1 229.5 359.5 224.3 353 219.8 345.5 215.3 334.5 215 333 215.5 331 215.4 329 216.2 329.5 218.9 333.5 222 337.1 227.5 342.6 233 347.1 239 351.1 245 354.5 252.3 358 258.5 360.5 266 363 273.5 365.1 288.5 368 302.5 369.6 313 370.1 323.2 370 342 368.6 360.5 365.6 378.5 361 395.5 355.1 402.5 352.1 414.5 346.1 427.5 338.1 438 330.1 447.2 321.5 450.5 317.8 451 317.3 451.5 317.5 450.5 319.5 448.1 322 447.1 324.5 440.8 332.5 435 339.3 430 344.5 422.5 351.2 414 357.8 406 363.3 399 367.4 390.5 371.6 381 375.6 371.5 379 362.5 381.7 352.5 384.1 343 385.8 333 387.2 322.5 388ZM443 350.1 442.7 349.5 443.5 348.8 443.5 349.5 443 350.1ZM383.5 441.5 220 441.5 232.2 400 224.1 391.5 224.1 391 222.1 389 222.1 388.5 219.1 385 217.6 382 216.6 381 215.2 378 215.1 377 212.1 371 208.8 366 207.7 363.5 206.8 362.5 206.5 361.3 207 360.9 207.6 361.5 208.9 363 208.9 363.5 210.4 365 210.4 365.5 217 372.5 226.5 380.1 232 383.5 237.6 386.5 243 389.1 252 392.6 260 395.1 267.6 397 275.5 398.6 285.1 400 297.5 401.1 320 401.1 337 399.5 346.5 398 356.5 396 375 391 390 385.5 405 378.5 413 374 414 373.1 417 371.5 418 370.6 418.5 370.6 425.5 365.6 427 364.1 427.5 364.1 429.5 362.1 430 362.1 432.5 359.6 433.5 359.1 441 351.6 441.2 352.5 437.3 356.5 437.2 357 426.9 367.5 426.8 368 421.4 373.5 421.4 374 416 379.4 415.5 379.4 412 382.9 411.5 382.9 409 385.4 408.5 385.4 406.5 387.4 406 387.4 404 389.4 403.5 389.5 400 392.5 399.5 392.5 398.5 393.5 398 393.5 397 394.5 396.5 394.5 395.5 395.5 395 395.5 394 396.5 383.9 441.5 383.5 441.5Z" fill="#63dd79" fill-rule="evenodd"/>
<path d="M398 89 388 89.2 378.5 88.8 369 87.9 360 86.4 351.5 84.5 343 82 335 78.9 327.8 75.5 347.7 8 481.3 8 466.9 72 461.5 74.7 452 78.4 443 81.3 434 83.8 425 85.8 416 87.3 407 88.4 398 89ZM383.5 441.5 220 441.5 232.2 400 233.5 401 234 401 237 403.5 237.5 403.5 238.5 404.5 239 404.5 240 405.5 241.5 406 242.5 407 247 409 253.5 412.5 254.5 412.5 256 413.5 257 413.5 257.5 414 260 414.5 260.5 415 263 415.5 263.5 416 265 416 265.5 416.5 266.5 416.5 267 417 269 417 269.5 417.5 271 417.5 271.5 418 274 418 274.5 418.5 276.5 418.5 277 419 280 419 280.5 419.5 284 419.5 284.5 420 288.5 420 289 420.5 295.5 420.5 296 421 312.5 421 313 420.5 320 420.5 320.5 420 325 420 325.5 419.5 329 419.5 329.5 419 332.5 419 333 418.5 335.5 418.5 336 418 338.5 418 339 417.5 341 417.5 341.5 417 343.5 417 344 416.5 346 416.5 346.5 416 348 416 348.5 415.5 352 415 352.5 414.5 353.5 414.5 354 414 355.5 414 356 413.5 358.5 413 359 412.5 361.5 412 362 411.5 363 411.5 364.5 410.5 367 410 368.5 409 369.5 409 371 408 372 408 375.5 406 376.5 406 381 403.5 386.5 401 387.5 400 390 399 391 398 392.5 397.5 393.5 396.5 394 396.5 383.9 441.5 383.5 441.5Z" fill="#58dd85" fill-rule="evenodd"/>
<path d="M397 88 387.5 88.1 378.5 87.7 369.5 86.8 361 85.5 352.5 83.6 344.5 81.3 336 78.2 330.5 75.5 350.4 8 478.6 8 464.1 72.5 457.1 75.5 448.9 78.5 440.5 81.1 431.5 83.4 414.5 86.5 397 88ZM381 441.5 222.7 441.5 234.5 401.5 238.5 404.5 239 404.5 240 405.5 241.5 406 242.5 407 247 409 253.5 412.5 254.5 412.5 256 413.5 257 413.5 257.5 414 260 414.5 260.5 415 263 415.5 263.5 416 265 416 265.5 416.5 266.5 416.5 267 417 269 417 269.5 417.5 271 417.5 271.5 418 274 418 274.5 418.5 276.5 418.5 277 419 280 419 280.5 419.5 284 419.5 284.5 420 288.5 420 289 420.5 295.5 420.5 296 421 312.5 421 313 420.5 320 420.5 320.5 420 325 420 325.5 419.5 329 419.5 329.5 419 332.5 419 333 418.5 335.5 418.5 336 418 338.5 418 339 417.5 341 417.5 341.5 417 343.5 417 344 416.5 346 416.5 346.5 416 348 416 348.5 415.5 352 415 352.5 414.5 353.5 414.5 354 414 355.5 414 356 413.5 358.5 413 359 412.5 361.5 412 362 411.5 363 411.5 364.5 410.5 367 410 368.5 409 369.5 409 371 408 372 408 375.5 406 376.5 406 381 403.5 386.5 401 387.5 400 390.9 398.5 381.2 441.5 381 441.5Z" fill="#5fdd7d" fill-rule="evenodd"/>
<path d="M394.5 87 377.5 86.5 361.5 84.4 353 82.6 345.7 80.5 337.5 77.6 333.1 75.5 353 8 476 8 461.5 72.5 457.2 74.5 447.4 78 439 80.5 429 82.9 411.5 85.8 394.5 87ZM378.5 441.5 225.3 441.5 236.5 403.4 237.5 403.5 240 405.5 241.5 406 242.5 407 247 409 253.5 412.5 254.5 412.5 256 413.5 257 413.5 257.5 414 260 414.5 260.5 415 263 415.5 263.5 416 265 416 265.5 416.5 266.5 416.5 267 417 269 417 269.5 417.5 271 417.5 271.5 418 274 418 274.5 418.5 276.5 418.5 277 419 280 419 280.5 419.5 284 419.5 284.5 420 288.5 420 289 420.5 295.5 420.5 296 421 312.5 421 313 420.5 320 420.5 320.5 420 325 420 325.5 419.5 329 419.5 329.5 419 332.5 419 333 418.5 335.5 418.5 336 418 338.5 418 339 417.5 341 417.5 341.5 417 343.5 417 344 416.5 346 416.5 346.5 416 348 416 348.5 415.5 352 415 352.5 414.5 353.5 414.5 354 414 355.5 414 356 413.5 358.5 413 359 412.5 361.5 412 362 411.5 363 411.5 364.5 410.5 367 410 368.5 409 369.5 409 371 408 372 408 375.5 406 376.5 406 381 403.5 386.5 401 387.5 400 388 400 378.5 441.5Z" fill="#67dd76" fill-rule="evenodd"/>
<path d="M402 85.5 392.5 85.9 383.5 85.7 374.5 85.1 366.1 84 358 82.5 349.9 80.5 342.1 78 335.7 75.5 355.5 8 473.5 8 459 72.5 447.1 77 432.5 81 416.7 84 402 85.5ZM376 441.5 227.7 441.5 238.6 404.5 239 404.5 240 405.5 241.5 406 242.5 407 247 409 253.5 412.5 254.5 412.5 256 413.5 257 413.5 257.5 414 260 414.5 260.5 415 263 415.5 263.5 416 265 416 265.5 416.5 266.5 416.5 267 417 269 417 269.5 417.5 271 417.5 271.5 418 274 418 274.5 418.5 276.5 418.5 277 419 280 419 280.5 419.5 284 419.5 284.5 420 288.5 420 289 420.5 295.5 420.5 296 421 312.5 421 313 420.5 320 420.5 320.5 420 325 420 325.5 419.5 329 419.5 329.5 419 332.5 419 333 418.5 335.5 418.5 336 418 338.5 418 339 417.5 341 417.5 341.5 417 343.5 417 344 416.5 346 416.5 346.5 416 348 416 348.5 415.5 352 415 352.5 414.5 353.5 414.5 354 414 355.5 414 356 413.5 358.5 413 359 412.5 361.5 412 362 411.5 363 411.5 364.5 410.5 367 410 368.5 409 369.5 409 371 408 372 408 375.5 406 376.5 406 385.2 401.5 376 441.5Z" fill="#6edd6e" fill-rule="evenodd"/>
<path d="M403.5 84 386.5 84.4 378.5 84 369.3 83 353.7 80 345.1 77.5 338.3 75 357.9 8 471.1 8 456.5 72.3 444.5 76.5 431.2 80 417.6 82.5 403.5 84ZM387 124.5 377.5 124.6 368.5 124.1 359 123 350.5 121.5 343.5 119.7 336 117.2 329 114.3 322 110.7 316.5 107.3 311 102.8 306 97.8 301.4 92 297.5 86 293.9 78 292.3 73 292.3 71 292.7 70 293 69.8 293.7 70.5 296.3 74.5 301.4 80.5 310 88.1 315 91.5 321 95.1 332 100.1 339 102.6 346 104.7 360.5 107.6 376.5 109.1 393.5 109.1 410 107.6 426.5 104.6 441 100.6 456 95.1 465 91 472.5 87.1 484.5 79.6 495 71.6 501.7 65.5 505.5 61.3 506.6 60.5 506.5 62.5 505.3 64 503.4 65.5 501.5 69.1 494.5 77.5 488.5 83.6 481 90.3 473.5 96.1 466 101.3 459 105.3 451 109.3 442 113.2 433.5 116.3 425 118.8 416 120.9 405.5 122.8 396 123.9 387 124.5ZM384.5 151.5 375 151.8 365.5 151.6 356.5 150.8 347 149.4 339 147.7 331 145.3 324 142.7 317 139.3 310.5 135.6 305.5 131.9 300.5 127.4 295.7 122 291 115.4 288.5 111 284.4 101 284.2 100 284.5 99 285.5 97.8 286 98.2 290.3 104 294.5 108.5 299 112.6 305 117.1 310.5 120.6 316 123.5 328 128.5 342 132.6 356.5 135.1 367.5 136.2 388.5 136.1 404 134.6 420 131.6 436.5 127 451 121.6 464.5 115.1 477 107.6 489.5 98.1 499.6 88.5 499 91 497 94.1 489.5 103.3 483 110.1 476 116.3 468.5 122.3 461.5 127.2 454 131.8 446 135.8 438 139.4 429 142.8 421 145.3 413 147.3 403 149.3 393.5 150.7 384.5 151.5ZM372.5 179.5 363 179.6 353.5 179 344 177.9 335.5 176.4 328.5 174.7 321 172.2 313.5 169.1 307 165.8 301 162.2 296.5 158.7 291.5 153.9 287 148.6 283 143 280.5 138.5 277.5 131.5 275.8 126 277 124.9 277.7 125 280.8 129.5 285.5 134.7 290 139 296.5 144 302 147.5 307.5 150.5 319.5 155.6 333 159.6 340 161.1 349.5 162.6 362 163.6 380 163.6 396.5 162.1 405.5 160.6 415 158.6 431 154 446.5 148.1 461.5 140.6 472 134 482.5 126.1 487 122.2 494.6 114.5 494.3 116 493 118.5 490.1 122.5 482.5 131.6 476 138.3 468.5 144.9 461 150.7 453 156.2 446 160.2 437 164.6 428.5 168.2 420 171.2 411 173.9 402 176 391.5 177.8 382 178.9 372.5 179.5ZM369 208 359 208.3 349.5 208 340 207.1 330.5 205.6 322.5 203.8 314 201.2 306.5 198.2 299.5 194.7 293.5 191.1 288 186.9 283 182 278 176 274 170.1 271 164.1 267.5 154.7 267.5 153.5 268 152.5 268.5 151.9 269.2 152.5 270.3 154.5 273.4 158.5 278 163.6 282.5 167.6 287 171.1 297.5 177.5 310 183.1 317.5 185.6 325 187.6 341 190.6 353 191.7 363.5 191.9 374 191.6 390 190.1 406.5 187 421.5 183 436.5 177.6 449.5 171.6 462.5 164.1 475 155.1 485 146 485.5 148 484.5 149.6 476.5 159.4 469.5 166.6 462 173.3 454.5 179.1 447 184.3 439.5 188.6 431.5 192.6 423 196.3 415 199.2 406.5 201.8 398.5 203.9 388 205.9 378 207.3 369 208ZM360.5 237 350.5 237.2 341 236.9 331 235.9 321.5 234.3 313 232.3 305 229.8 297.5 226.7 290.5 223.2 284.5 219.5 279 215.2 273.8 210 269 204.1 265.5 199 262.5 193 259.6 185.5 258.7 181.5 258.9 180.5 259.6 180 263.3 185.5 269 191.8 273 195.7 278 199.6 284 203.6 289.5 206.6 302 212.1 309.5 214.6 317 216.6 324 218.1 333.5 219.6 345.5 220.7 356 220.9 366.5 220.7 382.5 219.1 399 216.1 416 211.5 432 205.6 446.5 198.6 455 193.6 461 189.6 469.5 183.2 473 180.2 480.5 172.8 481.3 172.5 481 174.5 476 181.1 469 189.4 463 195.5 456 201.7 448.5 207.6 441 212.7 433.5 217.1 425 221.4 416 225.2 407.5 228.3 399 230.9 391 232.9 380.5 234.9 370 236.3 360.5 237ZM356.5 266 346 266.4 336 266.2 325.5 265.4 315.5 263.9 307.5 262.2 299 259.7 291 256.6 283 252.7 276.5 248.8 271 244.5 265.5 239.1 260.5 233 256 226.1 252.5 218.2 251.5 215.5 251.5 213.5 250.8 210.5 250.9 209 251.6 209.5 255.4 215 258.8 219 263 223.1 268.5 227.6 273.5 231 279.5 234.6 291.5 240.1 298.5 242.6 307.5 245.1 323 248.1 339.5 249.7 357 249.7 374.5 248.1 391.5 245.1 408.5 240.6 423.5 235.1 438.5 228.1 452 220.1 464 211.1 474.5 201.5 474.4 203.5 471.1 208 463.5 217.2 457 223.9 450 230.1 442.5 236.1 435 241.3 427.5 245.8 419.5 249.8 410.5 253.8 402.5 256.8 393 259.8 384.5 261.9 375 263.8 365.5 265.1 356.5 266ZM467.5 231.6 467 232 466.8 231.5 468.5 229.9 468.9 230 467.5 231.6ZM346 296 335.5 296.3 325.5 295.9 315 294.9 305.5 293.3 297 291.4 288.5 288.7 281 285.6 273.5 281.9 267.5 278.2 261.5 273.3 256 267.7 251 261.4 247.5 255.9 243.9 248 241.5 241 241.4 239.5 242 238.1 242.7 238.5 244.9 242 249.3 247.5 254 252.1 258 255.5 263.5 259.5 269.5 263.2 282 269.1 295.5 273.6 303.5 275.6 311.5 277.1 319 278.1 329 279 344.5 279.2 358.5 278.5 376.5 276.1 392.5 272.6 410 267.1 424.5 261.1 438 254.1 446 249 453.5 243.6 459 239.2 464 234.4 465 233.9 465.8 235 465.6 236 464 238 456.5 247.1 451.5 252.3 445.5 257.8 438.5 263.6 431.5 268.7 424.5 273.2 417.5 277.1 409 281.2 400.5 284.7 391.5 287.8 383 290.3 365.5 293.9 355.5 295.2 346 296ZM337.5 326 327 326.2 317 325.8 307 324.9 297 323.2 288.5 321.3 280.5 318.7 273 315.8 265 311.8 259 308.1 253.5 303.8 248 298.4 243 292.3 239.5 287.2 236.4 281 232.5 270.7 232.5 268 233 267.5 233.6 268 236.8 273 242.5 279.3 246.5 283.2 251.5 287.1 261 293.2 269 297.1 275 299.6 282 302.1 291 304.6 307 307.6 323.5 309.1 341.5 309.2 359.5 307.6 376.5 304.7 392.5 300.5 408 295.1 420.5 289.6 433.5 282.6 446 274.1 451 270.1 459.5 262.3 460 262.1 460.5 262.7 460.6 263.5 460 264.5 452.5 273.8 446.5 280.4 440.5 286.1 433.5 292 426 297.6 418.5 302.6 411 306.8 402.5 310.8 393 314.7 384 317.8 375.5 320.3 366.5 322.4 357.5 324 347 325.3 337.5 326ZM328.5 356.5 318 356.6 308 356.2 297.5 355.1 287.5 353.4 279 351.3 271 348.7 262.5 345.2 255 341.3 249 337.5 243.5 332.9 238 327.2 233 320.8 229.5 315.1 225.5 305.9 225 304 225.5 302 224 298.5 223.9 297 227.3 302 231.9 307.5 236 311.5 241.5 316.1 246.5 319.6 252.5 323.2 259.5 326.6 266.5 329.6 281 334.1 290 336.1 298.5 337.6 315.5 339.1 334 339.2 352 337.6 369.5 334.6 385 330.6 401 325.1 416.5 318.1 430.5 310.1 443.5 300.7 453.5 291.3 454 290.9 454.4 291 453.5 294 450 298.6 442 308.1 435.5 314.5 428 321 420 327.2 412.5 332.2 404.5 336.8 396 340.8 386.5 344.8 378 347.8 368 350.7 358.5 352.9 348.5 354.6 338.5 355.8 328.5 356.5ZM323 387.5 312 387.8 301.5 387.5 291 386.5 281 384.9 272 382.9 263.5 380.2 256 377.3 248 373.4 242 369.8 236 365.2 230.3 359.5 225 353.1 221 347 216.9 338 215.3 333.5 215.8 331 215.8 329.5 216.1 329.5 216.1 330 217.2 331 218.9 333.5 223.5 338.7 228 343.1 233 347.1 238 350.6 245 354.6 251 357.5 258.5 360.6 266 363.1 273.5 365.2 288.5 368.1 296.5 369.1 308.7 370 325.1 370 343 368.5 353 367.1 363 365.1 380 360.6 389 357.6 398 354.1 407 350 415.5 345.6 429 337.1 435 332.6 442 326.7 447.8 321 449.3 319 451.2 317.5 450.5 319.1 447.9 322 447.5 323.6 444.6 327.5 437.5 336.1 430.5 343.5 423 350.2 415 356.6 407 362.1 399.5 366.6 391 370.8 382 374.7 372.5 378.2 362.5 381.2 353.5 383.4 343 385.4 332.5 386.7 323 387.5ZM373.5 441.5 230.2 441.5 240.6 406 240.5 405.5 240 405.5 239 404.5 238.5 404.5 237.5 403.5 237 403.5 236 402.5 235.5 402.4 234 400.9 233.5 400.9 224.1 391.5 224.1 391 222.2 389 222.1 388.5 219.2 385 217.6 382 216.7 381 215.2 378 215.1 377 212.2 371 208.8 366 206.6 361.5 207 361 210.3 365 210.4 365.5 217 372.6 226.5 380.1 232 383.6 238.5 387 252 392.6 260 395.1 267.5 397 275 398.5 285 400 297.5 401.1 320 401.1 337 399.6 346.5 398.1 356.5 396.1 373.5 391.5 390 385.6 405 378.6 418.5 370.6 427.5 364.1 429.5 362.2 430 362.1 432.5 359.6 433.5 359.1 441 351.7 441.1 352.5 437.3 356.5 436.7 357.5 426.9 367.5 426.8 368 421.4 373.5 421.3 374 412 382.8 411.5 382.9 409 385.4 408.5 385.4 406.5 387.4 406 387.4 404 389.4 403.5 389.4 402 390.9 401.5 390.9 400 392.4 398 393.4 397 394.4 396.5 394.4 395.5 395.4 395 395.4 394 396.4 393.5 396.4 392.5 397.4 391 397.9 390 398.9 387.5 400 386.5 401 382.4 403 373.7 441.5 373.5 441.5Z" fill="#81dd5c" fill-rule="evenodd"/>
<path d="M403.5 84 386.5 84.4 378.5 84 369.3 83 353.7 80 345.1 77.5 338.3 75 357.9 8 471.1 8 456.5 72.3 444.5 76.5 431.2 80 417.6 82.5 403.5 84ZM373.5 441.5 230.2 441.5 240.6 406 241.5 406 242.5 407 247 409 253.5 412.5 254.5 412.5 256 413.5 257 413.5 257.5 414 260 414.5 260.5 415 263 415.5 263.5 416 265 416 265.5 416.5 266.5 416.5 267 417 269 417 269.5 417.5 271 417.5 271.5 418 274 418 274.5 418.5 276.5 418.5 277 419 280 419 280.5 419.5 284 419.5 284.5 420 288.5 420 289 420.5 295.5 420.5 296 421 312.5 421 313 420.5 320 420.5 320.5 420 325 420 325.5 419.5 329 419.5 329.5 419 332.5 419 333 418.5 335.5 418.5 336 418 338.5 418 339 417.5 341 417.5 341.5 417 343.5 417 344 416.5 346 416.5 346.5 416 348 416 348.5 415.5 352 415 352.5 414.5 353.5 414.5 354 414 355.5 414 356 413.5 358.5 413 359 412.5 361.5 412 362 411.5 363 411.5 364.5 410.5 367 410 368.5 409 369.5 409 371 408 372 408 375.5 406 376.5 406 382.4 403 373.7 441.5 373.5 441.5Z" fill="#76dd67" fill-rule="evenodd"/>
<path d="M397.5 82 383.5 81.9 368.5 80.4 353.8 77.5 346.9 75.5 341.4 73.5 360.6 8 468.4 8 454.2 71 442.2 75 427.7 78.5 412 81 397.5 82ZM371 441.5 232.8 441.5 243 407 253.5 412.5 254.5 412.5 256 413.5 257 413.5 257.5 414 260 414.5 260.5 415 263 415.5 263.5 416 265 416 265.5 416.5 266.5 416.5 267 417 269 417 269.5 417.5 271 417.5 271.5 418 274 418 274.5 418.5 276.5 418.5 277 419 280 419 280.5 419.5 284 419.5 284.5 420 288.5 420 289 420.5 295.5 420.5 296 421 312.5 421 313 420.5 320 420.5 320.5 420 325 420 325.5 419.5 329 419.5 329.5 419 332.5 419 333 418.5 335.5 418.5 336 418 338.5 418 339 417.5 341 417.5 341.5 417 343.5 417 344 416.5 346 416.5 346.5 416 350 415.5 350.5 415 352 415 352.5 414.5 353.5 414.5 354 414 355.5 414 356 413.5 358.5 413 359 412.5 361.5 412 362 411.5 363 411.5 364.5 410.5 367 410 368.5 409 369.5 409 371 408 372 408 375.5 406 376.5 406 379.4 404.5 371 441.5Z" fill="#7ddd5f" fill-rule="evenodd"/>
<path d="M402 75.5 387.5 75.6 373.5 74.5 359.2 72 346.5 68.4 346.5 67.5 364 8 465 8 451.8 66 440.5 69.5 427.3 72.5 414.2 74.5 402 75.5ZM367.5 441.5 236.3 441.5 246 408.5 253.5 412.5 254.5 412.5 256 413.5 257 413.5 257.5 414 260 414.5 260.5 415 263 415.5 263.5 416 265 416 265.5 416.5 266.5 416.5 267 417 269 417 269.5 417.5 271 417.5 271.5 418 274 418 274.5 418.5 276.5 418.5 277 419 280 419 280.5 419.5 284 419.5 284.5 420 288.5 420 289 420.5 295.5 420.5 296 421 312.5 421 313 420.5 320 420.5 320.5 420 325 420 325.5 419.5 329 419.5 329.5 419 332.5 419 333 418.5 335.5 418.5 336 418 338.5 418 339 417.5 341 417.5 341.5 417 343.5 417 344 416.5 346 416.5 346.5 416 350 415.5 350.5 415 352 415 352.5 414.5 353.5 414.5 354 414 355.5 414 356 413.5 358.5 413 359 412.5 361.5 412 362 411.5 363 411.5 364.5 410.5 367 410 368.5 409 369.5 409 371 408 372 408 375.6 406 367.5 441.5Z" fill="#85dd58" fill-rule="evenodd"/>
<path d="M409.5 32 399.5 32 389.5 31.3 380.5 30.2 371 28.3 370.8 27.5 376.5 8 452.5 8 448.5 25.8 448 26.7 438.5 28.8 429 30.4 419.5 31.4 409.5 32ZM355 441.5 248.7 441.5 257 413.5 257.5 414 258.5 414 259 414.5 260 414.5 260.5 415 261.5 415 262 415.5 263 415.5 263.5 416 265 416 265.5 416.5 266.5 416.5 267 417 269 417 269.5 417.5 271 417.5 271.5 418 274 418 274.5 418.5 276.5 418.5 277 419 280 419 280.5 419.5 284 419.5 284.5 420 288.5 420 289 420.5 295.5 420.5 296 421 312.5 421 313 420.5 320 420.5 320.5 420 325 420 325.5 419.5 329 419.5 329.5 419 332.5 419 333 418.5 335.5 418.5 336 418 338.5 418 339 417.5 341 417.5 341.5 417 343.5 417 344 416.5 346 416.5 346.5 416 348 416 348.5 415.5 352 415 352.5 414.5 353.5 414.5 354 414 355.5 414 356 413.5 358.5 413 359 412.5 360 412.5 360.5 412 361.8 412 355 441.5Z" fill="#8cdd51" fill-rule="evenodd"/>
<path d="M415.5 25.5 403 25.7 391.2 25 391.1 24.5 396 8 433 8 429.4 24 426.5 24.6 415.5 25.5ZM389.5 124 380 124.2 371 123.9 361.5 122.9 353 121.5 345 119.7 337.5 117.3 330.5 114.5 323.5 111 317.5 107.3 312.5 103.5 307.3 98.5 302.3 92.5 298.5 87 295.5 81.2 292.7 73.5 292.7 70.5 293 70 293.7 70.5 297.8 76.5 301.9 81 310 88.1 315 91.6 321 95.1 333 100.6 346 104.7 360.5 107.6 376.5 109.2 393.5 109.2 410 107.7 426.5 104.6 441 100.6 456 95.1 465 91.1 472.5 87.1 484.5 79.7 495 71.7 501.8 65.5 505.5 61.3 506 60.9 506.4 61 506.5 62 506 62.8 503.2 65.5 502 68.1 499 72 493.5 78.3 488 83.7 481 89.9 474 95.3 466.5 100.5 459.5 104.6 451.5 108.7 443 112.4 434 115.7 426 118.1 417.5 120.2 407.5 122.1 398.5 123.3 389.5 124ZM386 151 376.5 151.4 367 151.3 358 150.6 348.5 149.3 340.5 147.6 333 145.5 325.5 142.8 318.5 139.6 312.1 136 307 132.5 302 128.2 297 122.8 292.9 117.5 289.5 112.3 286 104.5 284.5 100.5 284.5 99.5 285.5 98.2 286 98.3 289.9 103.5 294.5 108.6 299 112.7 305 117.2 310.5 120.6 316 123.6 328 128.6 342 132.6 356.5 135.2 366 136.1 375 136.5 388.5 136.2 404 134.6 420 131.7 436.5 127.1 451 121.6 464.5 115.1 477 107.6 489.5 98.2 499.2 89 498.7 91 495 96.4 488.5 104.1 482.5 110.2 475 116.8 468 122.3 460.5 127.4 453.5 131.6 445.5 135.6 437.5 139.1 429.5 142.2 421.5 144.7 413.5 146.8 404.5 148.7 395 150.1 386 151ZM374.5 179 365 179.2 355.5 178.8 346 177.8 337.5 176.4 330 174.6 322.5 172.3 315.5 169.5 308.5 166.1 302.5 162.5 297.7 159 292.8 154.5 288 149.1 284 143.8 281 138.8 278 132.1 276.1 126 277.1 125 277.6 125 280.8 129.5 286 135.3 290 139.1 296.5 144.1 302 147.6 307.5 150.6 319.5 155.7 333 159.7 349 162.6 362 163.7 380 163.7 396.5 162.1 413 159.1 428 155.1 443 149.6 457 143.1 470.5 135.1 482.5 126.2 487 122.2 494 115.2 494.2 115.5 492.5 119 487.5 125.5 481 132.9 475 138.8 467.5 145.3 461 150.3 453.5 155.4 446 159.8 438 163.7 429 167.6 420.5 170.6 412 173.2 403 175.4 393 177.2 384 178.3 374.5 179ZM370 207.5 360 207.8 350.5 207.6 340.5 206.7 331 205.2 322.5 203.3 315 201 307.5 198.1 300.2 194.5 294 190.8 288.5 186.6 283.3 181.5 278.2 175.5 274 169.4 271 163.4 268 155.5 267.8 154 268.3 152.5 268.5 152.2 269.1 152.5 273.3 158.5 276.9 162.5 285 169.7 290 173.2 295.5 176.5 307.5 182.2 321 186.7 334.5 189.7 350.5 191.6 365.5 192 381.5 191.1 399 188.7 416 184.7 431.5 179.6 446.5 173.1 461 165.1 472.5 157.1 478.5 152.2 484 146.9 484.5 146.5 485 146.9 485 148.5 480.5 154.4 474 161.8 468 167.6 461 173.6 453.5 179.4 446.5 184.1 439.5 188.2 431.5 192.1 423 195.8 415 198.8 406 201.5 397.5 203.7 388.5 205.4 379 206.7 370 207.5ZM362 236.5 352 236.8 342.5 236.5 332.5 235.6 323 234.2 314.5 232.2 306.5 229.8 299 226.8 291.5 223.1 285.4 219.5 280 215.3 274.5 210 269.5 204 265.5 198.3 262.5 192.3 260 186 259 181.5 259.2 180.5 259.5 180.2 260 180.7 263.3 185.5 269 192 273 195.7 278 199.7 284 203.6 289.5 206.7 302 212.2 309.5 214.7 317 216.7 333 219.6 343.5 220.6 352.5 221 366.5 220.7 382.5 219.2 399.5 216.1 416 211.6 432 205.6 446.5 198.6 455 193.7 461 189.7 473 180.2 481 172.5 481.1 173.5 480.5 174.9 475.5 181.5 469.5 188.5 463.5 194.6 456 201.2 449 206.7 441.5 211.9 433.5 216.7 425.5 220.7 416.5 224.6 408 227.7 399.5 230.3 390.5 232.6 381.5 234.3 371.5 235.7 362 236.5ZM357 265.5 346.5 266 336.5 265.8 327 265.1 317 263.7 308.5 261.9 300.5 259.6 292.5 256.7 284.5 252.9 278 249.2 272.5 245.1 267 240 261.8 234 257.5 227.9 254.5 222.3 251.8 215.5 251.9 213.5 251.1 210 251.5 209.5 253.8 213 259 219.2 263 223.1 268.5 227.7 273.5 231.1 279.5 234.6 285.5 237.6 293 240.7 307.5 245.2 323 248.2 339.5 249.7 357 249.7 374.5 248.2 391.5 245.2 407 241.1 422.5 235.6 430.5 232.1 438.5 228.2 450.5 221.1 461 213.6 468.5 207.2 473.5 202.3 474.3 202 474 203.8 468.5 211 462 218.5 456.4 224 449.5 230.1 441.5 236.3 434 241.4 427 245.6 419 249.6 410.5 253.3 401.5 256.7 393.5 259.2 385.5 261.2 376 263.2 366.5 264.6 357 265.5ZM468 231 467.5 231.4 467.4 231 468 230.4 468.4 230.5 468 231ZM347 295.5 337 295.8 327 295.5 317 294.7 307 293.1 298.5 291.3 290.5 288.8 282.5 285.7 275 282.1 268.5 278.2 263 273.9 257.5 268.6 252.4 262.5 248.5 256.9 245.5 251.1 242 242 241.7 240 242 238.8 242.6 238.5 246.3 244 251 249.3 255 253.1 260 257.1 269.5 263.2 275 266.1 282 269.2 295.5 273.7 303.5 275.6 311.5 277.2 328.5 279 344 279.3 359 278.6 377 276.1 394.5 272.1 410 267.2 424.5 261.2 438 254.1 446 249.1 453.5 243.7 459 239.2 464 234.5 465 234.2 465.5 235 465 236.5 457 246.2 452 251.4 445.5 257.3 439 262.7 431.5 268.2 424.1 273 417.5 276.6 409 280.7 400.5 284.2 392 287.2 383.5 289.7 375 291.7 365 293.6 347 295.5ZM338.5 325.5 328 325.8 317.5 325.4 307 324.4 297.5 322.9 289 320.9 281 318.4 273 315.2 265.6 311.5 259.5 307.8 254 303.5 248.5 298.2 243.3 292 239.5 286.5 236.5 280.5 233.1 271.5 232.7 269 232.9 268 233 267.8 233.5 268.1 236.8 273 242 278.9 250 286.1 255 289.6 261 293.2 267.5 296.5 275 299.7 282 302.1 291 304.6 306.5 307.6 323.5 309.2 341.5 309.2 359 307.7 374.5 305.1 390.5 301.2 407 295.6 420.5 289.7 433.5 282.6 446 274.2 451 270.2 459.5 262.4 460 262.4 460.4 263 460.4 263.5 459 265.4 452 274.1 446.5 280.1 440.5 285.7 434 291.1 426.5 296.8 418.6 302 411.5 306 403 310.1 394.5 313.7 386 316.7 376.5 319.6 367.5 321.7 358 323.4 348 324.8 338.5 325.5ZM329.5 356 319 356.2 308.5 355.8 298.5 354.7 288.5 353.1 280 351.1 272 348.5 264 345.3 256.5 341.5 250 337.5 244.5 333 239 327.5 234 321.4 230.5 316.2 227 308.9 225.3 304.5 225.8 302 224.3 298 224.6 298 228.8 304 232.3 308 236 311.6 241.5 316.2 246.5 319.7 252.5 323.2 259.5 326.7 266.5 329.6 281 334.2 289.5 336.1 298.5 337.6 315.5 339.2 334 339.2 352 337.6 369.5 334.6 385 330.6 401 325.1 416.5 318.2 430.5 310.2 438.5 304.6 443.5 300.7 453 291.8 453.5 291.4 453.9 291.5 453 294.4 449.5 298.9 442 307.7 435.5 314.1 428.5 320.1 420.5 326.3 412 332 404.5 336.2 395.5 340.6 387 344.1 378 347.3 368.5 350.1 359 352.3 349 354.1 339.5 355.3 329.5 356ZM449 320.5 448.5 321 448.3 320.5 448.9 319.5 450.7 318 449 320.5ZM323.5 387 313 387.3 303 387.1 292.5 386.2 282.5 384.7 273.5 382.7 265.5 380.4 257.5 377.3 249.5 373.5 242.6 369.5 237 365.2 231.5 360 226 353.6 221.5 347.1 218 339.8 215.6 333.5 216.2 330.5 216.5 330.4 217.1 331 220.9 336 225.7 341 231 345.7 235 348.6 246 355.2 258.5 360.7 273 365.1 288.5 368.2 296.5 369.2 307.5 370 324.5 370.1 342.5 368.7 361 365.6 378.5 361.1 394.5 355.6 409 349.1 423 341.2 435 332.7 442 326.7 447.5 321.4 447.9 321.5 447 324 440 332.9 434.5 339.1 429 344.5 422 350.6 414 356.8 405.6 362.5 397.7 367 389.5 371 380.5 374.8 371.5 378.1 362.5 380.8 353 383.1 343.5 384.8 333.5 386.2 323.5 387ZM314 428 291.5 428 291 427.5 286 427.5 285.5 427 281.5 427 281 426.5 278 426.5 277.5 426 275 426 274.5 425.5 273.5 425.5 273.1 425 275 418.5 274.5 418.5 274 418 271.5 418 271 417.5 269.5 417.5 269 417 267 417 266.5 416.5 265.5 416.5 265 416 263.5 416 263 415.5 262 415.5 261.5 415 260.5 415 260 414.5 259 414.5 258.5 414 256 413.5 254.5 412.5 253.5 412.5 253 412 247.5 409.5 242.5 406.9 241.5 405.9 240 405.4 239 404.4 238.5 404.4 237.5 403.4 235.5 402.4 234 400.9 233.5 400.8 224.2 391.5 224.2 391 222.2 389 222.2 388.5 219.2 385 217.7 382 216.8 381 215.3 378 215.2 377 212.2 371 208.9 366 207.8 363.5 206.9 362.5 206.7 361.5 207 361.1 207.5 361.6 210.3 365 210.3 365.5 217 372.6 226.5 380.1 232 383.6 238.5 387.1 252 392.7 259.5 395 267.5 397.1 275 398.6 285 400.1 297.5 401.2 308.5 401.4 320 401.2 337.5 399.5 356.5 396.1 373.5 391.6 390 385.6 404 379.1 417 371.6 430 362.1 432.5 359.7 433.5 359.2 441 351.7 441.2 352 441.1 352.5 436.7 357.5 426.8 367.5 426.7 368 421.3 373.5 421.2 374 416 379.3 415.5 379.3 412 382.8 411.5 382.8 409 385.3 408.5 385.3 402 390.8 401.5 390.8 400 392.3 398 393.4 397 394.3 396.5 394.4 395.5 395.3 395 395.4 394 396.3 393.5 396.4 392.5 397.3 391 397.9 390 398.9 387.5 399.9 386.5 400.9 376.5 405.9 375.5 406 372 408 371 408 369.5 409 368.5 409 367 410 364.5 410.5 363 411.5 360.5 412 360 412.5 359 412.5 358.5 413 357.5 413 357 413.5 356 413.5 355.5 414 354 414 353.5 414.5 352.5 414.5 352 415 348.5 415.5 348 416 346.5 416 346 416.5 344 416.5 343.5 417 341.5 417 341.1 417.5 339.5 424.3 339 424.5 337.5 424.5 337 425 334.5 425 334 425.5 331.5 425.5 331 426 328.5 426 328 426.5 324.5 426.5 324 427 320.5 427 320 427.5 314.5 427.5 314 428Z" fill="#9edd3e" fill-rule="evenodd"/>
<path d="M415.5 25.5 403 25.7 391.2 25 391.1 24.5 396 8 433 8 429.4 24 426.5 24.6 415.5 25.5ZM314 428 291.5 428 291 427.5 286 427.5 285.5 427 281.5 427 281 426.5 278 426.5 277.5 426 275 426 274.5 425.5 273.5 425.5 273.1 425 275 418.5 276.5 418.5 277 419 280 419 280.5 419.5 284 419.5 284.5 420 288.5 420 289 420.5 295.5 420.5 296 421 312.5 421 313 420.5 320 420.5 320.5 420 325 420 325.5 419.5 329 419.5 329.5 419 332.5 419 333 418.5 335.5 418.5 336 418 338.5 418 339 417.5 341.1 417.5 339.5 424.3 339 424.5 337.5 424.5 337 425 334.5 425 334 425.5 331.5 425.5 331 426 328.5 426 328 426.5 324.5 426.5 324 427 320.5 427 320 427.5 314.5 427.5 314 428Z" fill="#93dd49" fill-rule="evenodd"/>
<path d="M310 425.5 298 425.6 296.3 425.5 294.8 425 296 421 312.5 421 313 420.5 318.7 420.5 317.7 425 310 425.5Z" fill="#9bdd42" fill-rule="evenodd"/>
<path d="M391 123.5 381.5 123.8 372.5 123.6 363 122.7 354 121.3 346.1 119.5 338.5 117.2 331.7 114.5 324.5 111 318 107.1 313 103.3 307.9 98.5 303 92.7 298.5 86.3 296 81.6 293 73.5 293 70.5 293.6 70.5 296.2 74.5 301.3 80.5 305 84.1 310 88.2 315 91.7 321 95.2 333 100.6 345.5 104.6 360.5 107.7 376 109.2 393.5 109.3 410.5 107.6 426.5 104.7 442.5 100.2 458.5 94.1 472.5 87.2 486 78.7 495 71.7 501.8 65.5 506.1 61 505.8 62.5 504.7 64 502.9 65.5 502 67.7 499.5 71 494 77.4 488.3 83 481.5 89 474.5 94.5 467 99.7 459.5 104.2 451 108.5 442.9 112 434.8 115 426.5 117.6 418 119.7 408.8 121.5 400 122.7 391 123.5ZM377.5 151 368.5 150.9 360 150.4 351 149.3 343 147.8 336 146 328.6 143.5 321.6 140.5 315.5 137.4 309.5 133.7 305 130.2 300 125.5 295.5 120.3 291 114 288.5 109.5 285.5 102.2 284.9 100 285.2 99 286 98.4 289.8 103.5 293.9 108 299 112.7 303.5 116.2 314 122.6 326.5 128.1 340 132.2 355.5 135.1 365 136.1 373.2 136.5 388 136.3 404 134.7 420 131.7 435 127.6 450 122.1 463.5 115.7 475.5 108.7 486.5 100.7 495 93.2 498.5 89.5 498.8 90 496.5 94.1 490.5 101.5 485.5 106.9 479.5 112.5 471.5 119.2 464 124.7 457 129.1 449.5 133.2 441.5 137 432.9 140.5 424.2 143.5 415.3 146 406 148 396.5 149.5 387 150.5 377.5 151ZM376.5 178.5 367 178.8 357.5 178.5 348 177.6 339 176.2 331.3 174.5 323.5 172.1 316.8 169.5 309.5 166 303 162.2 298 158.6 293 154 288.5 149 284 143 281 138.1 278 131.2 276.5 126 277.5 125 282.3 131.5 286 135.4 290.5 139.6 296.5 144.2 306.5 150.1 318 155.2 331 159.3 346 162.2 362 163.8 379.5 163.8 396.5 162.2 413 159.2 428 155.1 443 149.7 457 143.1 470.5 135.2 482.5 126.2 493 116.4 493.5 116.5 491.5 119.9 485.5 127.5 480.5 133.1 474.9 138.5 468.5 144 460.5 150.2 453 155.3 446 159.3 437.5 163.5 429.3 167 421.2 170 413 172.5 404.5 174.6 394.7 176.5 385.5 177.8 376.5 178.5ZM371 207 361 207.4 351.5 207.2 342 206.4 332.5 205.1 324.5 203.4 316.5 201 308.6 198 301.4 194.5 295 190.8 289.5 186.7 284 181.6 279 175.8 274.5 169.4 271.5 163.7 268.5 155.5 268.2 154 268.5 152.7 269 152.5 271.3 156 276.8 162.5 285.5 170.1 295.5 176.6 307.5 182.3 315.5 185.1 322.5 187.2 337 190.1 351.5 191.7 367.5 192 382.5 191.1 399.5 188.6 416.5 184.6 431.5 179.7 446.5 173.2 461 165.2 472.5 157.2 478.5 152.3 484 147 484.5 146.7 484.7 147 484.8 148 484.4 149 478.5 156.4 473 162.4 466.5 168.5 460 174 452.5 179.6 445.5 184.2 439 188 431 191.9 422.6 195.5 414.5 198.5 406.4 201 398 203.1 389 204.9 380 206.2 371 207ZM363 236 353 236.4 343 236.1 333 235.2 323.5 233.8 315.4 232 307.2 229.5 299.5 226.5 292.4 223 286 219.2 280.5 215.1 275 209.8 270 204 266 198.3 263 192.6 260.5 186.2 259.5 182 259.5 180.6 260.6 181.5 263.2 185.5 268 191 276 198.2 281.5 202.1 286.5 205.2 292.5 208.3 299 211.1 313 215.7 321 217.6 329 219.1 344.5 220.7 361 221 379 219.7 395 217.1 412.5 212.7 428.5 207.1 436.5 203.7 444.5 199.7 457.5 192.1 469 183.7 473 180.3 480 173.4 480.8 173 480 175 473.5 183.6 467.5 190.3 461.5 196 454.5 202 448 207 440.5 212.1 433.5 216.2 425 220.4 416.8 224 408.5 227.1 399.2 230 391 232 381.5 233.9 372.5 235.2 363 236ZM349 265.5 339.5 265.5 330 264.9 320.5 263.8 311.5 262.1 303.5 260.1 296 257.5 288.9 254.5 282 250.9 276 247.1 270.5 242.6 265.5 237.6 260.5 231.5 256.5 225.5 253.5 219.1 252.2 215.5 252.2 213.5 251.5 210 255.2 215 259 219.3 263.5 223.7 268.5 227.7 273.5 231.2 279.5 234.7 285.5 237.7 292.5 240.6 300 243.2 307 245.1 322.5 248.2 339 249.8 357 249.8 374.5 248.2 389.5 245.6 407 241.1 422.5 235.7 430.5 232.2 438.5 228.2 450.5 221.2 461 213.7 468 207.7 473.5 202.4 474 202.5 473.8 203.5 472 206 465 214.7 459.5 220.6 453.2 226.5 445.9 232.5 438.5 238 431 242.8 423.5 246.9 415 250.9 406.2 254.5 397.5 257.5 388 260.2 378.5 262.3 368.5 263.9 358.5 265 349 265.5ZM348 295 338 295.4 328 295.1 318 294.3 308 292.9 299.4 291 291.1 288.5 283.4 285.5 276 282 269 277.8 263.5 273.7 258 268.4 253 262.6 249 256.9 246 251.3 242.9 243 242.2 240.5 242.3 239 242.5 238.7 246.2 244 250.5 248.8 255 253.2 260 257.2 265 260.6 271 264.1 282 269.2 295.5 273.7 311 277.1 328 279.1 343 279.4 359 278.6 377 276.2 394.5 272.2 410 267.2 424.5 261.2 438 254.2 451 245.6 459 239.3 464 234.6 464.5 234.3 465.2 235 465 235.9 463.5 238 457.5 245.2 452.5 250.5 446.5 256 439.9 261.5 432.5 267 425.5 271.6 418 275.9 409.5 280 401.1 283.5 392.7 286.5 384.5 289 376 291.1 366.5 292.9 357.5 294.1 348 295ZM340 325 329.5 325.3 319.5 325.1 309.5 324.2 299.5 322.8 291.4 321 282.9 318.5 275.1 315.5 267.5 311.9 261 308.1 255.5 304.1 250 299 244.5 292.7 240 286.5 237.5 281.8 234.5 274.5 233.1 268.5 233.5 268.3 234.1 269 236.7 273 242 279 250 286.1 255 289.7 261 293.3 273.5 299.2 287 303.7 303 307.2 320.5 309.1 336.5 309.4 345 309.1 355 308.3 372 305.7 389 301.7 404.5 296.6 419.5 290.2 433.5 282.7 440.5 278.2 448 272.7 455 266.7 459.5 262.4 460 263 457.5 266.9 450.5 275.4 445.5 280.6 439 286.5 431.5 292.6 424.5 297.7 417.5 302.2 411 305.8 402.5 309.9 393.8 313.5 385.4 316.5 377 319 368.5 321.1 359 322.9 349.5 324.2 340 325ZM330.5 355.5 320.5 355.8 310.5 355.4 300.5 354.5 290.5 353 281.6 351 273.5 348.5 265.9 345.5 258.5 341.9 252 338.1 246.5 334 241 328.9 235.5 322.6 231.5 317 228 310.3 225.8 304.5 226.2 302 225 299.5 225.6 299.5 225.6 300 228.7 304 234 309.8 239 314.3 243.5 317.7 249 321.3 255 324.6 268 330.3 282.5 334.6 298.5 337.7 315.5 339.3 334 339.3 352 337.7 367.5 335.1 385 330.7 401 325.2 416.5 318.2 430.5 310.2 443 301.2 453.5 291.5 452.5 294.5 447.5 301 441 308.3 434.6 314.5 427.5 320.5 419.5 326.5 411.5 331.8 404.5 335.7 396 339.8 387.3 343.5 377.5 347 369 349.5 360 351.7 350 353.5 340.5 354.7 330.5 355.5ZM324.5 386.5 314 386.9 303.5 386.6 293 385.7 283 384.3 274.7 382.5 266.1 380 258.2 377 250.5 373.4 243.5 369.4 238 365.3 232.5 360.3 227 354.1 222.5 347.9 219.5 342.3 216.1 333.5 216.5 330.7 217 331 220.8 336 224.5 339.9 228.5 343.7 233.5 347.6 239.5 351.6 245 354.7 251 357.7 258.5 360.7 273 365.2 288.5 368.3 296.5 369.3 307 370.1 324.5 370.2 343 368.7 361 365.7 378.5 361.2 394.5 355.6 409 349.2 423 341.2 435 332.7 447.2 322 446.5 324 439.5 333.1 434 339.2 428.5 344.5 421.5 350.5 413.5 356.6 406 361.7 398 366.4 389.5 370.5 380 374.5 371.8 377.5 363 380.2 354 382.4 344.5 384.2 334.5 385.6 324.5 386.5ZM312.5 420.9 296 420.9 295.5 420.4 289 420.4 288.5 419.9 284.5 419.9 284 419.4 280.5 419.4 280 418.9 277 418.9 276.5 418.4 274.5 418.4 274 417.9 271.5 417.9 271 417.4 269.5 417.4 269 416.9 267 416.9 265 415.9 263.5 415.9 263 415.4 262 415.4 261.5 414.9 260.5 414.9 260 414.4 259 414.4 258.5 413.9 256 413.4 254.5 412.4 253.5 412.3 242.5 406.8 241.5 405.8 240 405.3 239 404.3 238.5 404.3 237.5 403.3 235.5 402.3 234 400.8 233.5 400.8 224.3 391.5 224.2 391 222.3 389 222.2 388.5 219.3 385 217.7 382 216.8 381 215.3 378 215.2 377 212.2 371 208.9 366 207 362.5 206.9 361.5 207.5 361.7 208.7 363 208.8 363.5 210.2 365 210.3 365.5 216.5 372.2 225 379.1 231 383 237.5 386.6 244 389.6 252 392.7 259.5 395.1 267.5 397.1 284.5 400.1 295.5 401.1 305.5 401.5 320 401.2 337.5 399.6 354.5 396.6 372 392.1 389 386.1 404 379.2 417 371.6 430 362.2 432.5 359.7 433.5 359.2 441 351.8 441.2 352 436.6 357.5 426.8 367.5 426.6 368 421.3 373.5 421.2 374 416 379.2 415.5 379.3 409 385.2 408.5 385.3 406.5 387.2 406 387.3 404 389.2 403.5 389.3 402 390.7 401.5 390.8 400 392.2 396.5 394.3 395.5 395.3 395 395.3 394 396.3 393.5 396.3 392.5 397.3 387.5 399.8 386.5 400.8 376.5 405.8 375.5 405.9 372 407.8 371 407.9 369.5 408.8 368.5 408.9 367 409.9 364.5 410.4 363 411.4 360.5 411.9 360 412.4 359 412.4 358.5 412.9 357.5 412.9 357 413.4 356 413.4 355.5 413.9 354 413.9 352 414.9 348.5 415.4 348 415.9 346.5 415.9 346 416.4 344 416.4 343.5 416.9 341.5 416.9 341 417.4 339 417.4 338.5 417.9 333 418.4 332.5 418.9 329.5 418.9 329 419.4 325.5 419.4 325 419.9 320.5 419.9 320 420.4 313 420.4 312.5 420.9Z" fill="#bcdd20" fill-rule="evenodd"/>
<path d="M393 123 383.5 123.4 374 123.2 364.9 122.5 355.5 121.1 347.8 119.5 340.5 117.4 333.5 114.7 326 111.2 319 107.1 314 103.5 309.1 99 304.5 93.9 300 87.8 297 82.7 294.3 76 293.4 73 293.3 71 293.5 70.6 297.3 76 301.7 81 305 84.1 310.5 88.6 315 91.7 321 95.3 333 100.7 340 103.1 347.5 105.2 363 108.1 376.5 109.3 393.5 109.3 410.5 107.7 424.5 105.2 439.5 101.2 455 95.7 469 89.1 482.5 81.2 492 74.2 500 67.3 505 62.2 505.4 62.5 504.3 64 502.6 65.5 501.5 67.8 497 73.5 492 79 486 84.7 478.5 91 472.6 95.5 465.9 100 459 104 443.5 111.3 435.5 114.4 427.2 117 419.5 119 409.5 121 393 123ZM380.5 150.5 371.5 150.6 362.5 150.2 353.5 149.2 345.5 147.8 337.7 146 331 143.9 323.5 140.8 317 137.6 311 134.1 306.1 130.5 301.2 126 296.5 120.8 292 114.7 289 109.6 286 102 285.4 100 285.5 99 286 98.5 286.5 99 289.7 103.5 295.5 109.7 303.5 116.3 314 122.7 325 127.6 337.5 131.7 352 134.7 366.5 136.3 383.5 136.5 400.5 135.2 416 132.7 431.5 128.7 447.5 123.2 461 117.1 474 109.7 486.5 100.8 498 90.3 498.3 90.5 495.5 94.8 490.5 101 485.4 106.5 478.4 113 470.5 119.5 463.6 124.5 456.5 129 450 132.5 442 136.3 433.5 139.9 424.5 143 416 145.4 406.6 147.5 397.5 149 380.5 150.5ZM378 178 368.5 178.4 359 178.1 350 177.4 340.3 176 332 174.2 324.5 172 317.5 169.3 310 165.7 303.6 162 298.7 158.5 293.7 154 288.5 148.2 284 142.2 281 137.1 278 129.4 277 126 277.2 125.5 277.5 125.3 278 125.8 282.3 131.5 286.5 136 290.5 139.7 295 143.2 305.5 149.7 318 155.3 325 157.6 332.5 159.7 348.5 162.6 362 163.8 379.5 163.8 396.5 162.2 411 159.7 426.5 155.6 442 150.1 456 143.7 469 136.2 479.5 128.7 486.5 122.8 492 117.4 492.4 117.5 489.5 121.9 483 129.9 473 139.7 465.5 146 459.4 150.5 452.7 155 445.5 159.1 430 166.3 421.5 169.5 413.4 172 405.5 174 395.5 176 378 178ZM372 206.5 362 207 352.5 206.8 342.5 206 333 204.7 325 203 317.5 200.8 309.5 197.8 302.5 194.5 295.5 190.5 290.7 187 285.6 182.5 280.5 176.8 275.5 170.1 272.5 164.8 269.5 156.9 268.7 154 268.8 153 269 152.8 269.6 153.5 272.8 158 276.8 162.5 280.5 166.1 285.5 170.2 295.5 176.7 307 182.1 320.5 186.7 328.5 188.6 336.5 190.1 351 191.7 367.5 192.1 376.5 191.7 386 190.8 402 188.2 418 184.2 433 179.2 446.5 173.3 459.5 166.2 472.5 157.3 478.5 152.3 483.5 147.5 484 147.1 484.5 147.3 484 148.8 478 156.5 473 162 466.5 168 459.5 173.9 452 179.5 445.1 184 439 187.5 423 194.9 415 197.9 406.7 200.5 398.9 202.5 389 204.5 372 206.5ZM364.5 235.5 354.5 235.9 344.5 235.8 334.8 235 325 233.6 317 231.9 308.7 229.5 301.5 226.8 294 223.3 287.4 219.5 281.8 215.5 276.5 210.6 271.5 205 267 199 264 193.7 261.1 186 259.9 181 262.7 185 267.9 191 276.5 198.7 286.5 205.2 292 208.1 299 211.2 312.5 215.7 321 217.7 329 219.2 344 220.8 361.5 221.1 379 219.7 395 217.2 413 212.6 428.5 207.2 443 200.6 451 196.2 457.5 192.2 469 183.7 473 180.3 480 173.5 480.4 173.5 476.5 179.1 471 186 461.5 195.5 448 206.5 440.7 211.5 433 216 424.5 220.2 416.5 223.6 408 226.8 399.5 229.5 391.6 231.5 382.5 233.3 374 234.6 364.5 235.5ZM351 265 341.5 265.1 332 264.6 322 263.5 313.5 262.1 306.5 260.4 298.5 257.9 291 254.9 284.2 251.5 278.2 248 272.9 244 268 239.5 263 233.9 258 227 255.5 222.6 253 216 252 211.5 252.5 211.3 257.3 217.5 262 222.4 270.5 229.2 276 232.8 281.5 235.8 294 241.2 307 245.2 322.5 248.3 339 249.8 357 249.8 372 248.6 389.5 245.7 407 241.2 422.5 235.7 437 229.1 450.5 221.2 461 213.8 468 207.8 473.6 202.5 473.3 203.5 471 206.7 463.5 216 453.5 225.7 446 232 438.5 237.5 431.5 242 424 246.2 415.5 250.2 407 253.7 398 256.9 389.1 259.5 380.4 261.5 370.5 263.2 360.5 264.4 351 265ZM349 294.5 339 294.9 329 294.7 319.4 294 309 292.6 301 290.9 292.5 288.4 285 285.6 277.5 282.1 270.5 278.2 265.4 274.5 259.8 269.5 254.5 263.6 250 257.5 247 252.4 244.7 246.5 242.8 239.5 246.2 244 250.5 248.9 255 253.2 260 257.3 265 260.7 271 264.2 283 269.7 297 274.2 311 277.2 328 279.2 344 279.5 359.5 278.7 377.5 276.1 394.5 272.2 411.5 266.7 427 260.1 440.5 252.7 453 244.2 464.6 234.5 464.8 235 464.5 235.9 459 243 453.5 249 447 255.1 440 260.9 432.6 266.5 425.7 271 418.5 275.1 410 279.2 401.5 282.8 393 286 384.7 288.5 376.5 290.5 366.5 292.5 349 294.5ZM341 324.5 330.5 324.9 320.5 324.7 311 323.9 300.7 322.5 293 320.9 284.5 318.5 276 315.3 268.5 311.8 261.8 308 256.3 304 250.7 299 245.5 293.1 240.9 287 238 281.8 235 273.9 233.9 270 234 269.1 236.6 273 241.4 278.5 250 286.2 255 289.8 261.5 293.6 273.5 299.2 287 303.7 303 307.2 320 309.2 337 309.5 345.5 309.2 356 308.2 372.5 305.7 391 301.2 407 295.7 422 289.1 436 281.2 448 272.7 459.5 262.7 459.5 263.4 458 265.5 450.5 274.9 446 279.6 440.5 284.7 433 291 425.5 296.5 418.7 301 411.5 305 403 309.1 394.5 312.7 386 315.8 377.2 318.5 369 320.5 358.5 322.5 341 324.5ZM331 355 321 355.3 311 355 300.5 354 291 352.6 283.5 351 275 348.5 267.5 345.6 260 342.1 253 338.1 248 334.5 242.4 329.5 237 323.5 232.4 317.5 229.5 312.5 226.4 304.5 226.6 302.5 226.2 301 226.5 301 226.6 301.5 230.8 306.5 235 310.8 244 318.1 249.5 321.7 256 325.2 269 330.7 277 333.3 284.5 335.2 301 338.1 316 339.4 334 339.4 349 338.2 367.5 335.2 385.5 330.6 401 325.2 415.5 318.8 429 311.2 436.5 306.2 443 301.2 453 292 452 294.4 445 303.4 439.9 309 434.5 314 427 320.4 419.5 326 412 331 404 335.5 395.5 339.6 386.5 343.3 378 346.4 369.3 349 360.5 351.1 350.1 353 340.5 354.3 331 355ZM325 386 314.5 386.4 304.5 386.2 294.5 385.4 284.3 384 275.5 382.2 267.5 379.9 260 377.1 252 373.5 244.8 369.5 239.1 365.5 233.5 360.5 228.5 355 223.5 348.5 220.5 343.4 217 334.2 216.6 332.5 216.8 331.5 217 331.3 220.7 336 225.5 341 229.5 344.6 235 348.8 241 352.6 246.5 355.6 259.5 361.2 274.5 365.6 291 368.7 308 370.2 325 370.2 343.5 368.7 361 365.7 379 361.1 394.5 355.7 410 348.7 424 340.7 435 332.8 446.7 322.5 444.5 326 437 335.4 432.2 340.5 427.4 345 420.5 350.8 413 356.5 405.5 361.5 397.5 366.1 389 370.2 379.5 374.2 370.5 377.4 362 380 353.5 382.1 343 384 325 386ZM312.5 420.8 296 420.8 295.5 420.3 289 420.3 288.5 419.8 284.5 419.8 284 419.3 280.5 419.3 280 418.8 277 418.8 276.5 418.3 274.5 418.3 274 417.8 271.5 417.8 271 417.3 269.5 417.3 269 416.8 267 416.7 265 415.8 263.5 415.7 263 415.3 262 415.3 261.5 414.8 260.5 414.8 260 414.3 259 414.3 258.5 413.8 256 413.2 242.5 406.7 241.5 405.8 240 405.2 236 402.2 235.5 402.2 234 400.7 233.5 400.7 224.3 391.5 224.3 391 222.3 389 222.3 388.5 219.4 385 217.8 382 216.9 381 212.3 371 208.4 365 207 362.3 207 361.5 208.7 363 208.7 363.5 210.2 365 210.2 365.5 216.5 372.2 225 379.2 231 383.1 237.5 386.7 244 389.7 251.5 392.6 259.5 395.1 267.5 397.2 284.5 400.1 294.5 401.1 303.5 401.5 320 401.3 337.5 399.6 354.5 396.7 372 392.1 389 386.1 404 379.2 417 371.7 430 362.2 432.5 359.8 433.5 359.2 440.5 352.3 440.9 352.5 436.1 358 426.7 367.5 426.6 368 421.2 373.5 421.1 374 416 379.1 415.5 379.2 409 385.2 408.5 385.2 406.5 387.2 406 387.2 400 392.2 396.5 394.2 395.5 395.2 395 395.2 394 396.2 393.5 396.2 392.5 397.2 387.5 399.8 386.5 400.7 376.5 405.7 375.5 405.8 372 407.7 371 407.8 369.5 408.7 368.5 408.8 367 409.7 364.5 410.3 363 411.2 359 412.3 358.5 412.8 357.5 412.8 357 413.2 356 413.3 355.5 413.7 354 413.8 352 414.7 348.5 415.3 348 415.8 346.5 415.8 346 416.2 344 416.3 343.5 416.8 341.5 416.8 341 417.3 339 417.3 338.5 417.8 333 418.3 332.5 418.8 329.5 418.8 329 419.3 325.5 419.3 325 419.8 320.5 419.8 320 420.3 313 420.3 312.5 420.8Z" fill="#dadd03" fill-rule="evenodd"/>
<path d="M394 122.5 384.5 123 375.5 122.9 366.5 122.2 357 121 349 119.3 341.5 117.2 334.5 114.6 327.7 111.5 320.5 107.5 315.5 104 310.5 99.6 305.5 94.2 301.5 89 298 83.2 295 76.1 293.8 71.5 297.2 76 301.2 80.5 305.5 84.7 310.5 88.7 320 94.8 331.5 100.2 345 104.7 359.5 107.7 373.5 109.2 388.5 109.5 403 108.7 420 106.2 435 102.6 450 97.7 464 91.7 477 84.7 489.5 76.3 495 71.8 501.5 65.9 501.9 66 500.5 68.4 495 75.1 484.5 85.5 478.5 90.5 471.2 96 463.5 101 457.2 104.5 442 111.5 426.5 116.8 411 120.3 394 122.5ZM382.5 150 373.5 150.2 364.5 149.9 355.4 149 347 147.7 339 145.9 332 143.7 325.1 141 317.8 137.5 311.8 134 307 130.5 302 126 297 120.5 293.5 115.9 290 110.1 287.5 104.4 285.9 99 286.5 99.2 289.2 103 293.7 108 302 115.2 307 118.7 313 122.2 325 127.7 337.5 131.7 351.5 134.7 366 136.3 383 136.6 401 135.2 416 132.7 432 128.7 446.5 123.6 460 117.6 472.5 110.7 484 102.8 489.5 98.3 496.5 91.9 497 92 492.5 97.9 487.5 103.7 476.1 114.5 463 124.4 456.5 128.5 450.2 132 434.5 139 426 142.1 417.5 144.6 408.5 146.7 400 148.2 391 149.4 382.5 150ZM379 177.5 369.5 177.9 360 177.7 350.4 177 341.5 175.7 334 174.2 326.5 172.1 319.4 169.5 311.7 166 304.6 162 299.6 158.5 294.5 154 289.5 148.6 285.5 143.3 282 137.6 279.5 131.8 277.7 126 278.5 126.5 278.6 127 281.8 131 285.9 135.5 290.5 139.7 295 143.3 304.5 149.2 316.5 154.8 330 159.1 344.5 162.1 359 163.7 375.5 164 393 162.8 409 160.2 425 156.2 439.5 151.2 454 144.8 467.5 137.2 479.5 128.8 486 123.3 491 118.5 491.4 118.5 487 124.4 482 130.3 471.5 140.5 464.8 146 458 151 451.1 155.5 444.8 159 429.5 166 421 169.2 413 171.7 405 173.7 396.5 175.4 379 177.5ZM363 206.5 354 206.4 345 205.8 336.5 204.8 328 203.2 320.5 201.2 313.9 199 306.8 196 299.9 192.5 294.3 189 289.2 185 284.1 180 279.5 174.6 275.6 169 273 164.2 270.5 157.8 269.5 153.7 272.7 158 276.7 162.5 280.5 166.2 286 170.7 296.5 177.3 308.5 182.8 322 187.2 336.5 190.2 351 191.8 368.5 192.1 377.5 191.7 387 190.7 402.5 188.2 418.5 184.2 433 179.2 446.5 173.3 459.5 166.2 472.5 157.3 478 152.8 482 149 484.2 147.5 481 152.1 475 159.1 469.7 164.5 463 170.5 456 176.1 448.5 181.3 441.7 185.5 434.1 189.5 426.4 193 417.5 196.5 408.5 199.5 400 201.8 390.5 203.8 381 205.2 372 206.1 363 206.5ZM353 235.5 344.5 235.3 335.5 234.6 326.5 233.4 318.5 231.8 311.5 229.9 304.7 227.5 297.7 224.5 290.9 221 285.4 217.5 280.4 213.5 275.5 208.7 271 203.5 267.5 198.5 265 194.1 263 189.5 261 183.5 261.5 183.4 264.7 187.5 270 193.2 278.5 200.2 289 206.7 301.5 212.2 314 216.2 329 219.2 344 220.8 353 221.2 362 221.1 379.5 219.8 395 217.2 411.5 213.1 427.5 207.6 442 201.2 456 193.2 466.5 185.8 472.5 180.9 478.5 175 478.9 175 474.5 181 469 187.5 462.5 194 457.5 198.5 450 204.5 442.5 209.8 434.8 214.5 427.1 218.5 418.2 222.5 410 225.7 401 228.6 392.5 230.8 382.5 232.9 372.5 234.3 362.5 235.2 353 235.5ZM352 264.5 342.5 264.7 333 264.2 323.5 263.3 314.5 261.8 307 260 299.5 257.7 292.6 255 285.3 251.5 278.5 247.5 273.8 244 268.5 239.1 263.5 233.6 260 228.8 256.5 222.9 253.5 215.5 252.9 212 256.7 217 260 220.4 264 224.3 269 228.2 274 231.6 280 235.1 292.5 240.8 306.5 245.2 321.5 248.2 336.5 249.8 353.5 250 371.5 248.7 387.5 246.2 404 242.2 419 237.2 434 230.6 447.5 223.2 458.5 215.7 467 208.8 471.5 204.5 472 204.5 467 211 462 216.8 456.4 222.5 450.2 228 443.9 233 436.5 238.3 429 243 422.4 246.5 413.8 250.5 405.1 254 397 256.8 388.5 259.2 379.5 261.2 370 262.8 361 263.9 352 264.5ZM349.5 294 339.5 294.4 329.5 294.3 319.5 293.5 310 292.2 302 290.6 293.5 288.2 286.1 285.5 278.5 282 272.1 278.5 267 275 261.5 270.3 256 264.4 251.5 258.6 248 252.7 245 245.4 243.9 242 244 241 244.1 241.5 247.7 246 251.5 250 255.5 253.8 260.5 257.7 271 264.3 277 267.2 284 270.1 298.5 274.7 313.5 277.7 328.5 279.3 345 279.6 360 278.7 377.5 276.2 395 272.2 410.5 267.2 426 260.6 439 253.7 451 245.8 458.5 239.8 463.9 235 464.4 235 461 239.7 455.5 246.1 450.7 251 444.1 257 431 267 424 271.5 417.8 275 409.5 279 401.2 282.5 392.5 285.7 384.5 288.1 376 290.2 367.5 291.8 349.5 294ZM341.5 324 331.5 324.4 321.5 324.3 311.4 323.5 302 322.2 294 320.6 285.5 318.3 277.9 315.5 270.1 312 263.7 308.5 258.5 305 252.5 299.8 247 294 243.5 289.5 239.5 283.1 237 277.5 235 271 243 280.2 248 284.7 252 287.8 258 291.7 263.5 294.8 276 300.3 290.5 304.7 305.5 307.7 320.5 309.3 338 309.6 356.5 308.2 372.5 305.7 389.5 301.7 406 296.2 421 289.6 434.5 282.2 442 277.3 448 272.8 458.8 263.5 454 269.9 449.5 275.2 439.5 285 431.6 291.5 424.7 296.5 417 301.5 410.6 305 402.3 309 393.9 312.5 385.5 315.5 377 318.1 368.5 320.2 360 321.8 350.5 323.2 341.5 324ZM331.5 354.5 321.5 354.8 311.5 354.5 302 353.7 292.5 352.4 284.5 350.7 276 348.2 268.7 345.5 261.1 342 253.9 338 249 334.5 243.5 329.7 238.5 324.4 234 318.5 230.5 312.7 227.1 304.5 227 302 230.7 306.5 235 310.9 244 318.2 255 324.8 267.5 330.2 282 334.7 297.5 337.7 313 339.3 330.5 339.6 349 338.2 365 335.7 382 331.7 397.5 326.7 411.5 320.8 425 313.7 436.5 306.3 446 298.8 451 294 451.3 294.5 441.5 306.5 431 316.5 423.5 322.5 416 327.8 408.5 332.5 402 336 393.4 340 384.8 343.5 368.5 348.7 360 350.7 351 352.4 341 353.7 331.5 354.5ZM325.5 385.5 315.5 385.9 305.5 385.8 295 385 285.5 383.7 277.5 382.1 269 379.8 261.2 377 253.3 373.5 245.9 369.5 240.8 366 235 361 229.5 355.2 225.1 349.5 221.5 343.6 218.5 336.4 217.4 333 217.4 332 220.2 335.5 225.5 341.1 229.5 344.7 235.5 349.2 246.5 355.7 259.5 361.2 274.5 365.7 290.5 368.7 307 370.2 324 370.3 340 369.2 359 366.2 375.5 362.2 392 356.7 406 350.7 420 343.2 432.5 334.8 441 327.8 444.5 324.5 444.9 324.5 435.5 336.3 425.5 346 417.6 352.5 410.5 357.6 403 362.5 396.7 366 388.3 370 378.7 374 370 377.1 361.5 379.6 353 381.7 344 383.4 325.5 385.5ZM312.5 420.6 296 420.6 295.5 420.2 289 420.1 288.5 419.7 284.5 419.6 284 419.2 280.5 419.1 280 418.7 277 418.6 276.5 418.2 274.5 418.1 274 417.7 271.5 417.6 271 417.2 267 416.6 265 415.7 263.5 415.6 263 415.2 262 415.1 261.5 414.7 260.5 414.6 260 414.2 256 413.1 242.5 406.6 241.5 405.7 240 405.1 236 402.2 235.5 402.1 234 400.6 233.5 400.6 224.4 391.5 224.4 391 222.4 389 222.3 388.5 219.4 385 217.8 382 216.9 381 212.3 371 208.5 365 207 361.8 207.5 361.8 208.6 363 208.7 363.5 210.1 365 210.2 365.5 217 372.7 225 379.2 231 383.1 236.5 386.2 242.5 389.1 250 392.1 265 396.6 280.5 399.6 296.5 401.3 315 401.5 334 400.1 352.5 397.2 370.5 392.6 386.5 387.1 396 383.1 404 379.2 417 371.7 430 362.2 432.5 359.8 433.5 359.3 440 352.9 440.5 353 416 379.1 415.5 379.2 409 385.1 408.5 385.2 406.5 387.1 406 387.2 400 392.1 392.5 397.1 387.5 399.7 386.5 400.6 372 407.6 371 407.7 369.5 408.6 368.5 408.7 367 409.6 364.5 410.2 363 411.1 359 412.2 358.5 412.6 357.5 412.7 357 413.1 356 413.2 355.5 413.6 354 413.7 352 414.6 348.5 415.2 348 415.6 346.5 415.7 346 416.1 344 416.2 343.5 416.6 341.5 416.7 341 417.1 339 417.2 338.5 417.6 333 418.2 332.5 418.6 325.5 419.2 325 419.6 320.5 419.7 320 420.1 313 420.2 312.5 420.6Z" fill="#ddc200" fill-rule="evenodd"/>
<path d="M386.5 122.5 378 122.5 369.5 122.1 361 121.1 353.5 119.9 346 118.1 339.4 116 333.1 113.5 326.9 110.5 320.9 107 316.5 104 311.8 100 308 96 303.5 90.2 299.5 84.1 297 79.3 295 74 295.5 73.9 299.2 78.5 305 84.3 312.5 90.2 322.5 96.2 334 101.2 347 105.2 359.5 107.8 373 109.3 389.5 109.6 404 108.6 420.5 106.1 436.5 102.3 451.5 97.2 464 91.8 477 84.8 487.5 77.8 494.5 72.3 500.5 67 500.9 67 496.5 72.6 491.5 77.9 484.5 84.6 477.1 91 465 99.5 452.2 106.5 436.9 113 429.5 115.5 420.3 118 403.5 121.1 386.5 122.5ZM384 149.5 375 149.8 366.5 149.6 357.5 148.8 349 147.6 341.5 146 334.4 144 327.5 141.5 320.9 138.5 314.6 135 309.5 131.7 305 128 300.5 123.5 296 117.8 291.5 111 289 106.2 287.1 101 287.5 100.9 291.7 106 296.5 110.8 304 116.8 314 122.8 326 128.2 339 132.2 354.5 135.2 370 136.6 383.5 136.7 398 135.6 414 133.2 428.5 129.7 444 124.7 458 118.7 470 112.3 481.5 104.7 489 98.9 494.5 94 494.9 94 490 100 485.5 104.8 471.5 117.5 460.5 125.5 448.1 132.5 433.5 139 418 144.1 410 146 401.5 147.6 393 148.7 384 149.5ZM380 177 371 177.4 362 177.4 353 176.8 344 175.7 336 174.2 329.4 172.5 322 170 315 167 308.3 163.5 302.7 160 297.6 156 293 151.5 288 145.2 283.5 138.4 281 133.6 279.1 128.5 279.5 128 281.6 131 287.5 137.2 291.5 140.7 297 144.7 307 150.6 319 155.8 332 159.7 344.5 162.2 359 163.8 376 164.1 394 162.7 409 160.2 423.5 156.7 438.5 151.7 453.5 145.1 466 138.2 477 130.8 489.2 120.5 485.5 125.4 480.5 131 467 143.5 455.7 152 443.8 159 428.4 166 420.3 169 412.1 171.5 396.2 175 380 177ZM365 206 356 206 347 205.5 338 204.5 330 203.1 323.2 201.5 315.4 199 309.2 196.5 303 193.5 297.5 190.3 292.7 187 288 183 284.1 179 279.5 173 275 166.1 272.5 161.1 270.8 156 274.7 160.5 279.5 165.3 288 172.2 293.5 175.7 299 178.7 310.5 183.6 324 187.7 339 190.6 355 192.1 368.5 192.2 383.5 191.2 400 188.7 415 185.2 430.5 180.2 446 173.6 458 167.2 470 159.3 477.5 153.3 481 150 481.5 149.7 481.9 150 477 156 472.5 160.8 458.4 173.5 452.5 178 445.8 182.5 439.5 186.1 432 189.9 416.3 196.5 407.1 199.5 399.4 201.5 382.5 204.6 373.5 205.5 365 206ZM356.5 235 348 235 339.3 234.5 330.5 233.5 322 232.1 315.4 230.5 307.5 228 301.2 225.5 295 222.5 289 219.1 284.5 216 279.7 212 275.8 208 271 201.8 266.5 195 264 190 262.3 185 270.5 193.8 279 200.7 284.5 204.2 290 207.3 302.5 212.7 316 216.7 331.5 219.7 347.5 221.1 362 221.2 376.5 220.2 393 217.7 410 213.6 425 208.7 440 202.2 454.5 194.2 466 186.3 472 181.4 476 177.6 476.1 178 473.5 181.3 467.5 188.1 460.5 194.9 452.3 202 446.4 206.5 439.7 211 433.5 214.7 426 218.5 417 222.5 409.2 225.5 393.5 230.2 384.5 232.1 375 233.6 365.5 234.5 356.5 235ZM353 264 344 264.2 335 263.9 326 263.1 317 261.8 309 260.1 302 258 295.2 255.5 288.6 252.5 282 248.9 277 245.6 271.9 241.5 267.5 237 262.5 230.6 258 223.7 255.5 218.7 253.9 214 263 223.4 271 229.8 281 235.7 293.5 241.2 306.5 245.2 321.5 248.3 336 249.8 353.5 250.1 368.5 249.1 385.5 246.7 400.5 243.2 416.5 238.2 432 231.7 446 224.2 456.5 217.3 463 212.3 469 207 469.5 207 464.5 213.1 459.5 218.4 444.9 231.5 433 240 420.5 246.9 412.6 250.5 403.8 254 396.5 256.5 387.6 259 370.5 262.3 353 264ZM350 293.5 340.5 294 331 293.9 321.5 293.2 312 292.1 303.7 290.5 296.2 288.5 288.9 286 281.9 283 275 279.4 269.6 276 264.4 272 259.8 267.5 255 261.6 250 254.3 247 248.5 245.3 243.5 246.5 244.5 251.4 250 255 253.4 262.5 259.2 273.5 265.6 286.5 271.1 300 275.1 313.5 277.8 328 279.3 346 279.6 361 278.6 378 276.2 395 272.2 410.5 267.3 424 261.7 436.5 255.2 449 247.3 455 242.8 461 237.5 462 236.9 462.4 237 457.5 243 453 247.7 438.8 260.5 427.8 268.5 416 275.3 399.9 282.5 385 287.5 377 289.5 368.5 291.2 359.5 292.6 350 293.5ZM342 323.5 332 324 322.5 323.8 313 323.2 303.7 322 295.7 320.5 288 318.5 280.6 316 272.5 312.5 265.9 309 260.5 305.6 255.9 302 251.2 297.5 246 291.1 241 283.8 238 277.9 236.5 273.3 245 282.2 254 289.3 265 295.6 277 300.7 290 304.7 305 307.7 320 309.3 338 309.6 353 308.7 370.5 306.2 388 302.2 403.5 297.2 419 290.7 432 283.8 443.5 276.3 450 271.3 455.5 266.5 455.9 266.5 451.5 272 446.5 277.4 432.5 290 421.6 298 409 305.2 393.9 312 385.7 315 377.5 317.5 369.5 319.5 360.5 321.3 351.5 322.6 342 323.5ZM332 354 322 354.3 312.5 354.1 303 353.3 293.5 352 286 350.5 278.6 348.5 271.5 346 263.5 342.5 256.5 338.7 251.5 335.5 246.5 331.5 241.9 327 236.5 320.1 232 313.4 229.5 308.5 227.8 303.5 237.5 313.2 246 319.6 257 325.8 270 331.2 284 335.2 300 338.1 317 339.6 331 339.6 349.5 338.2 365.5 335.7 382.5 331.6 397.5 326.7 413 320.1 426 313.2 438 305.3 445.5 299.3 449 296 449.5 295.9 445 301.6 439.5 307.6 432.5 314.1 424.5 320.9 412.4 329.5 401 335.9 384.8 343 376.2 346 367.6 348.5 350.5 352 341.5 353.2 332 354ZM325.5 385 315.5 385.4 306 385.3 296 384.6 286.5 383.3 277.5 381.6 270 379.5 262.7 377 255.8 374 249 370.5 243.5 367.1 238.2 363 233.5 358.5 228.5 352.3 223.5 345.1 220.8 340 218.8 334.5 219 334.1 223.7 339.5 229.5 344.8 238.5 351.3 249.5 357.2 262 362.2 276.5 366.2 290.5 368.8 306.5 370.3 324.5 370.4 340.5 369.2 357 366.7 374 362.7 389.5 357.8 404 351.8 418.5 344.2 430 336.7 442.3 327 438 332.4 433 337.9 418.5 350.9 407.5 359 401 363 394 366.7 385.9 370.5 377.4 374 368.8 377 360.2 379.5 343.3 383 325.5 385ZM312.5 420.5 296 420.5 295.5 420.1 289 420 288.5 419.6 284.5 419.5 284 419.1 280.5 419 280 418.6 277 418.5 276.5 418.1 274.5 418 274 417.6 271.5 417.5 271 417.1 267 416.5 265 415.6 263.5 415.5 263 415.1 262 415 261.5 414.6 256 413 242.5 406.5 241.5 405.6 240 405 236 402.1 235.5 402 234 400.6 233.5 400.5 224.5 391.5 224.4 391 222.5 389 222.4 388.5 219.5 385 217 381 212.4 371 210 367.5 207.1 362 207.5 361.9 208.6 363 208.6 363.5 210.1 365 210.2 365.5 217 372.8 225 379.2 231 383.2 236.5 386.2 242.5 389.1 250 392.2 265 396.7 280.5 399.7 296 401.3 305.5 401.7 315 401.6 334 400.2 352.5 397.2 370.5 392.7 386.5 387.2 401 380.8 415.5 372.7 427.5 364.3 432.5 359.8 433.5 359.3 439.5 353.4 440 353.5 416 379 415.5 379.1 409 385 408.5 385.1 406.5 387 406 387.1 400 392 392.5 397 387.5 399.6 386.5 400.5 372 407.5 368.5 408.6 367 409.5 364.5 410.1 363 411 356 413.1 355.5 413.5 354 413.6 352 414.5 346.5 415.6 346 416 344 416.1 343.5 416.5 341.5 416.6 341 417 339 417.1 338.5 417.5 333 418.1 332.5 418.5 325.5 419.1 325 419.5 320.5 419.6 320 420 313 420.1 312.5 420.5Z" fill="#dda400" fill-rule="evenodd"/>
<path d="M388.5 122 372.5 121.8 356.7 120 349.5 118.5 342.5 116.5 335.8 114 329.5 111.1 319.1 105 315.8 102.5 312.5 99.3 307.5 93.5 302.5 86.9 298.5 80.4 296.7 76 297 76 299.1 78.5 306 85.3 313 90.7 323.5 96.8 335 101.7 348.5 105.7 362 108.2 377.5 109.6 389.5 109.7 404.5 108.7 420.5 106.2 435 102.8 449 98.2 462 92.8 475.5 85.7 487 78.3 494 72.9 496.5 70.5 497.5 70.5 493 75.4 487 81.2 473 93.1 463.2 100 451 106.5 435.6 113 420.7 117.5 404.8 120.5 388.5 122ZM385 149 376.5 149.3 368 149.2 359 148.5 351.3 147.5 343.4 146 336 144 330.3 142 323.5 139 317.7 136 311.9 132.5 308 129.5 305 126.6 299.5 120.4 294.5 113.7 290.5 107.3 288.8 103 297.5 111.8 306 118.2 316.5 124.2 327.5 128.8 340.5 132.6 354 135.2 369.5 136.7 383.5 136.8 398 135.7 412 133.7 427 130.2 441.5 125.7 456 119.7 468.5 113.2 478 107.3 485.5 101.8 491 97 491.8 97 487.5 101.8 482 107.2 469 118.4 458.6 126 446.9 132.5 431 139.4 416.7 144 402.4 147 385 149ZM371 177 354.7 176.5 345.9 175.5 337.4 174 325 170.5 318.7 168 312.5 165 302.6 159 299.5 156.5 296 153 290.5 146.5 286 140.4 282.5 134.6 280.8 130.5 288.5 138.2 297.5 145.2 308 151.2 320 156.2 333.5 160.2 347 162.7 363 164.1 375.5 164.2 390.5 163.2 404.5 161.2 420 157.7 434.5 153.2 447 148.2 461 141.2 471.5 134.8 479 129.4 483.5 125.5 485 124.4 485.5 124.5 480.5 130 474.5 135.8 460 147.9 454.5 152 449 155.5 436.4 162 421.7 168 406.5 172.5 389.5 175.6 380.5 176.5 371 177ZM366 205.5 357 205.6 348.5 205.2 341.5 204.5 332 203 325.2 201.5 318.5 199.5 306.6 194.5 296 188.5 292.1 185.5 289 182.5 283.5 176.2 278.5 169.5 274.5 163.1 272.6 159 273 158.6 275.1 161 282 167.7 291 174.3 302 180.2 313.5 184.8 325.5 188.2 339 190.7 355 192.2 370.5 192.2 384.5 191.2 400.5 188.7 415.5 185.2 429.5 180.7 445 174.2 458 167.3 470 159.4 479.5 151.6 479.6 152 477 155 471 161.2 463.5 168 455.5 174.6 444.6 182.5 438.6 186 431.6 189.5 423 193.3 414.8 196.5 399.6 201 383.3 204 366 205.5ZM358 234.5 349 234.5 340.5 234.1 324.1 232 317.4 230.5 310.6 228.5 304 226 297.5 223 287.1 217 283.9 214.5 280.5 211.2 275 205 270 198.4 266 192 264.2 188 264.5 187.5 269.5 192.9 275 197.8 283.5 203.7 294 209.3 305.5 213.8 317.5 217.2 331.5 219.8 347 221.2 362.5 221.3 377 220.2 393.5 217.7 408 214.3 422.5 209.7 437 203.7 449.5 197.3 462 189.3 472.5 181 473 181 468.5 186.1 462.5 191.9 455 198.5 447.5 204.6 437 212 423.6 219 407.7 225.5 392.3 230 375.8 233 366.7 234 358 234.5ZM354 263.5 345 263.7 336.3 263.5 327 262.7 318.3 261.5 310.9 260 303.8 258 298 255.9 291.3 253 284.5 249.5 279.6 246.5 275.6 243.5 273 241 267.5 235 262 227.8 257.5 220.8 255.7 216.5 265.5 225.7 273 231.2 284 237.3 296 242.2 310 246.2 324 248.7 340 250.1 353.5 250.2 369 249.2 385.5 246.7 401 243.2 415 238.8 426.5 234.2 440 227.7 451.5 220.8 460.5 214.4 465 210.5 465.9 210.5 461.5 215.4 455.5 221.2 441.5 233 431 240.5 418.9 247 402.3 254 387.7 258.5 378.6 260.5 369.5 262 354 263.5ZM339.5 293.5 323 292.9 315.1 292 306.2 290.5 298.1 288.5 292 286.5 279.5 281 269.5 275 266.4 272.5 262.5 268.5 257 262.1 252.5 256.1 249 250.5 247 246 247.5 246 251.7 250.5 257 255.2 265.5 261.3 275.5 266.7 288 271.8 302 275.7 316 278.2 332.5 279.6 347 279.7 361.5 278.7 378.5 276.2 393.5 272.7 409.5 267.7 424 261.7 437.5 254.7 450.5 246.3 459.7 239 456.5 243.1 450 249.5 442 256.6 434 263 422.6 271 409 278 392.9 284.5 385 287 377.2 289 367 291 359 292.1 349.5 293.1 339.5 293.5ZM330 323.5 321 323.3 312 322.6 303.7 321.5 295.8 320 288.3 318 282.4 316 270.2 310.5 261 305 257.9 302.5 253.5 298.1 248 291.7 243.5 285.6 240 279.9 238.4 276 246 283.2 251 287.2 256 290.7 267 296.7 279.5 301.7 294 305.7 308 308.2 324.5 309.6 338.5 309.7 354 308.7 371 306.2 386 302.8 401 298.2 413.5 293.2 427 286.7 440 278.8 447.5 273.4 452 269.5 452.7 269.5 448.5 274.3 441.5 281 433.5 287.9 425 294.5 419.5 298.5 413.8 302 399.6 309 384.1 315 375.8 317.5 367.4 319.5 359 321.1 348.2 322.5 339 323.2 330 323.5ZM332.5 353.5 323.5 353.8 314.5 353.7 305 353 296.7 352 288.4 350.5 280.6 348.5 273.3 346 266.5 343.1 255.1 337 250.9 334 247.5 330.9 241.5 324.4 236 317.3 231.5 310.4 229.6 306 230 306 238.5 314.2 247.5 320.7 258.5 326.7 271.5 331.8 285.5 335.7 300 338.2 316.5 339.6 331 339.7 346.5 338.7 363.5 336.2 379 332.7 393.5 328.2 407.5 322.8 422.5 315.3 434.5 307.8 440 303.9 444 300.5 445.9 299.5 442 303.9 436 309.8 421.5 322 410.4 330 398.4 336.5 382 343.4 367.6 348 359 350 350.7 351.5 332.5 353.5ZM325.5 384.5 316 384.9 306.5 384.8 296.5 384.1 287.8 383 279.6 381.5 273.6 380 265.9 377.5 259 374.7 247.2 368.5 242.7 365.5 239.3 362.5 233 355.7 227.5 348.8 223 342 220.6 337 221 336.8 226.5 342.3 230.5 345.7 240 352.3 251.5 358.2 263.5 362.8 278 366.7 293 369.2 307.5 370.4 324.5 370.4 341 369.2 357.5 366.7 372.5 363.2 387 358.7 401 353.2 415 346.3 426.5 339.3 434 333.9 438.5 330 439.1 330 435.5 334.2 430 339.6 415.5 352 403.1 361 392.1 367 376 373.9 360.2 379 343.4 382.5 325.5 384.5ZM313 420 302.5 420.2 292 419.8 281.5 418.7 272 417.1 265 415.5 257.5 413.1 250.5 410.2 243.5 406.7 237.4 403 233 399.7 227 394 223 389.4 218 382.5 212.4 371 208.5 364.7 207.4 362 208.5 363 208.6 363.5 210 365 210.1 365.5 213.2 369 217 372.8 225.5 379.6 231 383.2 236.5 386.3 242.5 389.2 250 392.2 264.5 396.6 280 399.7 296 401.4 305.5 401.7 315.5 401.6 334.5 400.2 350.5 397.7 369 393.2 385.5 387.6 400 381.3 407 377.7 415.5 372.7 427.5 364.3 432.5 359.9 433.5 359.4 439 354 439.4 354 419.5 375.4 413 381.5 399 392.5 392.1 397 385.5 400.7 376.5 405.2 368.7 408.5 360 411.7 352 414.1 343.5 416.1 332.5 418.1 323 419.3 313 420Z" fill="#dd8600" fill-rule="evenodd"/>
<path d="M389 121.5 373.5 121.4 363.6 120.5 356.9 119.5 344.6 116.5 333 112 323.9 107 319.5 103.7 315.5 100.1 311 95.5 306.5 90.2 302.5 84.8 299.5 80 300 79.8 309.5 88.3 318.5 94.2 328.5 99.2 337.5 102.7 348.5 105.8 361.5 108.2 377 109.7 390.5 109.8 405 108.7 418.5 106.7 432 103.7 445 99.7 455.5 95.8 468.5 89.7 482 81.8 489 76.9 492.5 74.1 492.8 74.5 482 84.5 469.3 94.5 457.1 102.5 446.4 108 432.5 113.5 418.5 117.5 404.9 120 389 121.5ZM385.5 148.5 370 148.8 354.8 147.5 348.5 146.5 341 144.8 334 142.6 327.3 140 322.1 137.5 316.8 134.5 309 128.4 304 123.4 299 117.7 294.5 111.7 291.7 107 292 106.8 292.5 107.1 301 114.8 309 120.2 319.5 125.7 331.5 130.2 345 133.7 357 135.7 369.5 136.8 384.5 136.8 399 135.7 412 133.7 425.5 130.7 440 126.3 454 120.7 465 115.3 475 109.4 483 103.9 486.5 101 487 100.8 487.1 101 477 110.5 465 120.1 453.4 128 442.4 134 429 139.6 414.6 144 399.4 147 385.5 148.5ZM371.5 176.5 363.5 176.5 355 176 340.2 174 328.5 171 317.2 166.5 308.2 161.5 300 154.8 295 149.7 290.5 144.4 286.5 139 283.8 134.5 284 134.1 284.5 134.5 289 138.8 294 142.8 301.5 147.8 311 152.7 322.5 157.2 335.5 160.7 347 162.8 362.5 164.2 376.5 164.3 391 163.2 405 161.2 418.5 158.2 432 154.2 446 148.8 456.5 143.8 468.5 136.9 476.5 131.4 480 128.6 480.3 129 469 139.4 455.2 150 442.8 158 431.6 163.5 418 168.7 404.2 172.5 396.6 174 386.1 175.5 371.5 176.5ZM366 205 350.5 204.8 335 203 327.7 201.5 322 199.9 315.1 197.5 309.3 195 303.5 192 299.6 189.5 291.5 182.7 286.5 177.5 281.5 171.5 277 165.1 275.5 162.1 285 170.2 294 176.2 304 181.2 316 185.7 329.5 189.2 342 191.2 355 192.3 370 192.3 385 191.2 398.5 189.2 412 186.2 425.5 182.2 438.5 177.2 452 170.8 463 164.3 474.5 156.1 474.5 156.5 473 158.1 465.5 165 451 176.6 438.5 185 426.9 191 411.6 197 397.3 201 383.2 203.5 366 205ZM358 234 342.5 233.7 327.4 232 314.4 229 307.2 226.5 301.3 224 292.1 219 287.5 215.5 283.5 211.9 278.5 206.8 274 201.6 270 196.2 267.1 191.5 267.5 191.3 268 191.7 273 196.3 277.5 199.8 285 204.7 296 210.3 308 214.7 319.5 217.7 334 220.2 347 221.3 362 221.4 377.5 220.2 391 218.2 405 215.2 418.5 211.2 431.5 206.3 445 199.8 457 192.8 467 185.7 467.4 186 456.5 196 442.9 206.5 430 214.9 418.7 220.5 404.4 226 390 230 375.7 232.5 366.6 233.5 358 234ZM353.5 263 337 263 326 262 318.8 261 306.1 258 294.1 253.5 289 251 283.9 248 276 241.6 271 236.6 266 230.9 261.5 224.9 258.8 220.5 259 220.1 259.5 220.5 266 226.3 270 229.3 277 233.8 288 239.2 300.5 243.8 314.5 247.2 327 249.2 340.5 250.2 355 250.3 369.5 249.2 383.5 247.2 397.5 244.2 412.5 239.7 425.5 234.8 440 227.8 451 221.3 461 214.2 461.1 214.5 459.7 216 452 223 437.5 234.5 424.7 243 413 249 399.1 254.5 385.4 258.5 369.3 261.5 353.5 263ZM350 292.5 333 292.9 325 292.5 315.7 291.5 309.3 290.5 301.5 288.7 294.5 286.6 287.7 284 276.9 278.5 272.5 275.4 268.5 272.1 263 266.7 258 261.1 253.5 255.3 250.2 250 250.5 249.7 251 250 254.5 253.3 261.5 258.8 269.5 263.7 278.5 268.2 290.5 272.7 301.5 275.7 315.5 278.2 331.5 279.7 346.5 279.8 362 278.7 376 276.7 390 273.7 404 269.7 416 265.3 428.5 259.7 442.5 251.8 453.5 244.1 453.9 244.5 443 254.4 430 264.5 418 272.5 407.4 278 393.9 283.5 379.5 287.9 363.6 291 350 292.5ZM342 322.5 325 322.9 317.2 322.5 307.7 321.5 301.3 320.5 293.5 318.8 286 316.5 279.4 314 268.5 308.5 264 305.4 259.5 301.6 254 296.3 248.5 290 243 282.6 241.4 280 241.5 279.5 251.5 287.8 260 293.2 271.5 298.8 282.5 302.8 296 306.3 311 308.7 324.5 309.7 339.5 309.8 354.5 308.7 368.5 306.7 384.5 303.3 398 299.3 412.5 293.8 425 287.8 435.5 281.9 443 276.9 446 274.5 448 273.5 438 282.8 425 293.1 412.5 301.5 401.3 307.5 386.6 313.5 372 317.9 355.9 321 342 322.5ZM332 353 323 353.3 314 353.1 297.4 351.5 284 348.7 277 346.6 270.4 344 259.6 338.5 255.4 335.5 251 331.8 245.5 326.5 240.5 320.9 236 315.1 232.8 310 233 309.6 233.5 310 243 317.8 252.5 323.7 263 328.7 275.5 333.2 290 336.7 303 338.7 316.5 339.7 331.5 339.8 347 338.7 361 336.7 375.5 333.7 389.5 329.7 403 324.8 416 318.8 427 312.8 434 308.3 440 304 440.5 303.7 440.6 304 429.5 314.2 416.1 324.5 404 332.5 392.4 338.5 378.5 344 363.5 348.4 347 351.5 332 353ZM325 384 315.5 384.4 306.5 384.2 296.5 383.5 288.5 382.5 280.4 381 274.5 379.5 261.8 375 250.9 369.5 246.5 366.4 242 362.6 236.5 357.2 231 351 226 344.4 223.8 340.5 225 341 228 343.9 233 347.8 241.5 353.3 252.5 358.8 264.5 363.2 278 366.8 292.5 369.2 304.5 370.3 321.5 370.7 337 369.7 352.5 367.7 367 364.7 381.5 360.7 396.5 355.2 408.5 349.8 422 342.3 429.5 337.4 432.5 335 433.4 335 422.5 344.9 409.5 355 396.5 363.5 385 369.5 371 375 356 379.5 339.7 382.5 325 384ZM313.5 419.5 304 419.7 295 419.5 283.8 418.5 273.9 417 266.9 415.5 258.6 413 251.1 410 245 407 238.1 403 233.3 399.5 228 394.6 223 389.1 217.5 381.3 212.4 371 208.5 364.5 208 363.5 208 362.5 210.1 365.5 216.5 372.3 225.5 379.7 230 382.7 237 386.6 243.5 389.7 250 392.3 264.5 396.7 279.5 399.7 288 400.8 299.5 401.6 315.5 401.7 334.5 400.2 350.5 397.7 367.5 393.7 385.5 387.7 395 383.7 401.5 380.6 415.5 372.8 427.5 364.3 432.5 359.9 433.5 359.4 438 355 438.4 355 420 374.7 413.9 380.5 400 391.5 392.4 396.5 385.3 400.5 376 405 367.7 408.5 359.3 411.5 350.8 414 333.2 417.5 325 418.6 313.5 419.5Z" fill="#dd6900" fill-rule="evenodd"/>
<path d="M386 121 372 120.7 358 119 346.9 116.5 337.3 113 334.4 111.5 328.2 107.5 319 100.9 310.5 92.7 304.4 85 305 85 306 85.6 310 88.8 315 92.3 323 96.8 332 100.8 344 104.8 357.5 107.7 369 109.2 378.5 109.8 392 109.8 405.5 108.8 416 107.3 428 104.8 440.5 101.3 452 97.3 463.5 92.3 474 86.9 484 80.5 485.6 80 475.3 88.5 462.5 97.5 449.5 105 437.4 111 425.8 115 413.3 118 399.5 120.1 386 121ZM383.5 148 369.5 148.1 356 147 342.5 144.5 331.8 141 325 137.5 312 128.5 303 120 299 115.5 296.5 112 298 112.6 303.5 116.8 308 119.8 315 123.7 324 127.7 334.5 131.3 347 134.3 360.5 136.2 370.5 136.9 384.5 136.9 395 136.2 410 134.2 422 131.7 434.5 128.2 444.5 124.8 455 120.4 467 114.3 478 107.5 478.5 107.2 479 107.5 468.5 116 457 124.1 446.9 130 432.4 137.5 421.3 141.5 409.8 144.5 397 146.7 383.5 148ZM379 175.5 364.5 175.9 350 174.8 336.5 172.5 325.1 169 318.8 166 309.5 159.9 304.5 156.3 295.5 147.9 291 142.7 288.7 139.5 289.5 139.6 299.5 146.8 307.5 151.2 318 155.7 329 159.3 340 161.8 354 163.7 364 164.3 378 164.3 391.5 163.3 402.5 161.7 416.5 158.8 429 155.3 439 151.8 450.5 146.9 459.5 142.3 468 137.3 470.6 135.5 473 134.3 470.8 136.5 464 142 450.6 151.5 441.3 157 425.9 165 415 169 403.7 172 391.5 174.2 379 175.5ZM372 204 357.5 204.4 343 203.4 328.7 201 317.4 197.5 311.1 194.5 301.1 188 296.5 184.6 287 175.6 282.5 170.4 280.5 167.5 282 168.1 291.5 174.9 299.5 179.3 310 183.8 321 187.3 334.5 190.2 345.5 191.7 356 192.4 370.5 192.4 381 191.8 396 189.8 408 187.3 421 183.8 432.5 179.8 443 175.3 454 169.8 465.1 163 466.6 162.5 456.4 171 443.6 180 434.3 185.5 418.9 193.5 407.9 197.5 396.6 200.5 384.5 202.7 372 204ZM364.5 233 349.5 233.4 335 232.4 320.9 230 309.4 226.5 303 223.5 293 217 288 213.3 278.5 204.4 273.5 198.6 272.3 196.5 273.5 197 284 204.3 291.5 208.3 302 212.8 313 216.3 324 218.8 338 220.8 348.5 221.4 363 221.4 374 220.7 389 218.7 401 216.3 414 212.7 425.5 208.8 438.5 203.2 449 197.8 457.5 192.5 459.4 191.5 460 191.5 449.6 200 437.5 208.5 427.4 214.5 411.9 222.5 400.8 226.5 389.3 229.5 377.5 231.6 364.5 233ZM349.5 262.5 335 262.2 320.5 260.6 308.8 258 298.8 254.5 295.7 253 290.1 249.5 279.4 242 270.5 233.6 266 228.5 263.9 225.5 264.5 225.5 265.5 226.1 270.5 229.8 276 233.3 283.5 237.3 294 241.7 303.5 244.8 314 247.3 326.5 249.2 339 250.3 355.5 250.3 370 249.3 381 247.8 393.5 245.3 406.5 241.8 417 238.3 428 233.8 437.5 229.3 445.5 224.9 451.5 221 453.2 220.5 442.8 229 429.9 238 418.6 244.5 403.8 252 392.3 256 379.5 259.1 364.1 261.5 349.5 262.5ZM347.5 292 332.5 292.2 317.5 291 303.6 288.5 292.5 285 286.3 282 276.5 275.6 271.5 272 262.5 263.7 255.6 255.5 256 255 265 261.3 275 266.7 284.5 270.8 297 274.7 308.5 277.2 323 279.2 333.5 279.9 347.5 279.9 358 279.2 373.5 277.3 386.5 274.7 399.5 271.2 410 267.7 421 263.3 431.5 258.3 445.5 250.1 445.9 250.5 435.3 259 423 267.5 412.7 273.5 397 281.5 385.7 285.5 373.9 288.5 361 290.7 347.5 292ZM339.5 322 324.5 322.2 309.4 321 295.5 318.5 284.3 315 278 312 268 305.6 263 302 253.5 293.2 248.5 287.6 246.8 285 249 286 256.5 291.3 265.5 296.2 276 300.7 287 304.2 297.5 306.7 310.5 308.8 323 309.8 339 309.9 350.5 309.2 366 307.3 379 304.7 390.5 301.7 404 297.3 415 292.8 429 285.9 438.5 280.2 439 280.5 427.6 289.5 415.1 298 404.6 304 389.7 311.5 378.3 315.5 366.4 318.5 353 320.7 339.5 322ZM328 352.5 313 352.4 298 350.8 286.1 348.5 279.4 346.5 274.1 344.5 271 343 265.3 339.5 254 331.7 244.5 322.8 240 317.8 238 315 239.5 315.5 250.5 322.8 257 326.2 269 331.2 280.5 334.7 292 337.2 307 339.2 317.5 339.9 332 339.9 343 339.2 358.5 337.3 371.5 334.8 385 331.2 395.5 327.8 409 322.3 422 315.9 431.8 310 432.6 310 421.5 318.9 408.2 328 395.8 335 381.7 342 370.1 346 357.8 349 342.5 351.4 328 352.5ZM321.5 383.5 306.4 383.5 291 382.1 277.5 379.5 266.7 376 259.9 372.5 250.5 366.5 245.5 362.8 236 354.1 231.5 349.1 229.2 346 229.5 345.8 231 346.5 239.5 352.3 250 357.8 261 362.2 271 365.2 282 367.7 295.5 369.7 309.5 370.7 322.5 370.8 338 369.8 350 368.2 363 365.8 375 362.8 387.5 358.8 399 354.3 413.5 347.4 424.3 341 425 340.8 425.2 341 414 350 401.5 358.5 392.1 364 375.5 372.5 362.6 377 350.3 380 336 382.3 321.5 383.5ZM310.5 419 300.5 419.1 290.5 418.5 281.1 417.5 272 416 265.5 414.5 257.6 412 251.4 409.5 244.3 406 237.5 402 233.4 399 228.5 394.6 223.5 389.2 218 381.8 212.5 371 209.5 366 208.9 364 213.1 369 217.5 373.3 227 380.8 238 387.2 251 392.7 258.5 395.1 266.5 397.3 282.5 400.2 299.5 401.7 316.5 401.7 335.5 400.2 351 397.7 367.5 393.7 383 388.7 396 383.3 411.5 375.3 425 366.3 436.8 356.5 420 374.6 412.5 381.5 405 387.5 396.6 393.5 390.1 397.5 382.5 401.5 373.8 405.5 365 409 355.9 412 348.5 414 338.6 416 328.9 417.5 319.5 418.5 310.5 419Z" fill="#dd4b00" fill-rule="evenodd"/>
<path d="M392.5 120 380.5 120.3 368.5 119.7 356.7 118 348.7 116 339.5 111.5 324.5 102.2 318.3 97.5 312 91.5 313 91.5 322 96.4 331.5 100.8 340 103.8 349.5 106.3 360 108.3 368.5 109.4 376.5 109.9 393 109.9 402 109.3 413.5 107.8 424 105.9 432.5 103.8 442.5 100.9 451 97.8 460.5 93.9 473.4 87.5 474.3 87.5 465 94 456.7 99 438.3 108.5 426 114 419.2 116 409.4 118 392.5 120ZM379 147.5 369 147.4 358 146.5 348.4 145 340.8 143 330.9 138 316.5 129.1 310 124.1 304.3 118.5 306.1 119 314 123.4 322.5 127.3 331 130.4 339.5 132.8 349 134.8 360 136.3 366.5 136.9 380 137.2 390 136.8 404 135.3 415.5 133.3 426 130.9 434.5 128.4 446 124.4 456.5 119.9 467.3 114.5 468.1 114.5 459.5 120.5 450.5 126 432 135.5 419.7 141 411.1 143.5 400.6 145.5 388.3 147 379 147.5ZM376 175 364.5 175.1 353.9 174.5 342.9 173 332.9 170.5 323.2 165.5 308.7 156.5 302.5 151.8 296.5 146 297.5 146.1 307.5 151.4 316.5 155.4 325 158.3 334.5 160.8 345.5 162.8 359 164.3 379.5 164.4 388 163.8 400 162.3 410.5 160.4 421 157.8 431 154.8 440.5 151.3 452 146.3 460.7 142 461.6 142 453 148 443.9 153.5 425.4 163 413.2 168.5 406.8 170.5 397.4 172.5 387.5 174 376 175ZM368.5 203.5 357 203.6 346.4 203 335.3 201.5 325.3 199 315.6 194 300.5 184.6 294 179.5 288.4 174 290.1 174.5 299 179.2 307 182.8 315.5 185.9 324.5 188.4 334 190.3 344.5 191.8 351.5 192.4 366 192.7 376.5 192.3 390.5 190.8 402 188.8 412.5 186.4 423 183.3 431.5 180.3 444.5 174.9 454.4 170 455.2 170 446.7 176 437.5 181.6 418.2 191.5 406.1 197 399.6 199 390.2 201 380.3 202.5 368.5 203.5ZM361 232.5 349.5 232.6 338.7 232 327.6 230.5 317.4 228 307.6 223 292.5 213.7 285.5 208.3 281.3 204.5 280.2 203 281.9 203.5 291 208.3 299 211.9 307.5 214.9 316.5 217.4 326 219.3 337 220.8 351 221.7 358.5 221.7 369 221.3 379.5 220.3 392 218.3 403.5 215.8 412.5 213.4 424.5 209.3 436.5 204.4 446.5 199.5 447.5 199.1 447.8 199.5 438.3 206 429.8 211 411.2 220.5 398.9 226 392.4 228 382.9 230 372.9 231.5 361 232.5ZM355.5 261.5 342.5 261.8 330 261 319.2 259.5 309.3 257 299.6 252 284.5 242.8 278 237.8 271.9 232 273.8 232.5 282 236.8 291 240.8 299.5 243.8 309 246.3 319 248.3 330 249.8 337 250.4 349.5 250.6 360 250.3 371 249.3 384.5 247.3 396 244.8 407 241.8 416 238.8 429.5 233.3 439.5 228.5 440.5 228.1 441 228.5 431.3 235 422.8 240 404.1 249.5 391.9 255 385.5 257 376.1 259 366.3 260.5 355.5 261.5ZM341.5 291.5 331 291.4 320 290.5 307.6 288.5 300.7 286.5 291.1 281.5 276 272.2 269.2 267 263.5 261.5 265.4 262 276 267.4 283 270.4 291.5 273.3 300.5 275.8 310.5 277.8 322 279.3 329 279.9 342.5 280.1 352.5 279.8 364 278.8 377 276.8 389 274.3 401.5 270.8 411.5 267.4 422.5 262.9 432.6 258 434.7 257.5 425.2 264 416 269.5 396.2 279.5 383.8 285 374.8 287.5 364 289.5 351.2 291 341.5 291.5ZM333.5 321.5 323 321.4 312 320.5 299.5 318.5 292.5 316.5 282.8 311.5 267.5 302.2 260.5 296.9 254.9 291.5 256.8 292 267.5 297.4 274.5 300.3 283 303.3 292.5 305.8 302.5 307.8 314 309.3 321 309.9 334.5 310.1 345 309.8 356.5 308.8 369.5 306.8 381.5 304.3 392.5 301.3 403 297.8 413 293.9 425.6 288 427.6 287.5 418.2 294 408.8 299.5 388.9 309.5 376.4 315 367.4 317.5 356.4 319.5 343.5 321 333.5 321.5ZM332.5 351.5 319.5 351.8 306 351 295 349.5 284.9 347 275.1 342 259 332.3 252 326.9 247.6 323 246.4 321.5 248.3 322 259 327.4 266 330.3 275 333.4 284.5 335.9 294.5 337.8 306 339.3 313 339.9 327 340.2 337.5 339.8 349 338.8 362 336.8 374 334.3 383.5 331.8 394.5 328.3 406 323.8 418.6 318 420.6 317.5 411.2 324 401.8 329.5 381.9 339.5 369.6 345 363 347 353.5 349 343.5 350.5 332.5 351.5ZM325.5 382.5 311.5 382.8 297.5 382 286.5 380.5 276.4 378 266.6 373 250.5 363.3 243.5 358 237.7 352.5 238.7 352.5 249.5 357.8 259.5 361.9 270.5 365.3 279 367.3 290.5 369.3 300 370.3 309 370.9 324.5 370.9 334 370.3 347 368.8 359 366.8 370 364.3 380.5 361.3 390.5 357.9 400.5 353.9 412.1 348.5 413 348.3 413.2 348.5 404.5 354.5 395 360.1 375.3 370 362 376 355.5 378 346 380 336 381.5 325.5 382.5ZM316 418 306 418.3 296 418.1 287 417.4 276.5 416 268.6 414.5 261.3 412.5 254.4 410 247.6 407 241.1 403.5 235 399.6 230 395.4 225 390.4 220.5 385 218 381.4 210.5 367.5 210 365.5 218.5 374.3 224 378.7 228.5 381.8 240 388.2 252.5 393.3 266 397.2 282 400.2 298.5 401.7 316.5 401.8 332 400.7 351 397.8 366 394.2 383 388.8 398.5 382.2 411.5 375.3 423 367.8 430 362.4 432.5 360 433 359.9 434 359 434.5 359 419 375.4 411.5 382 404.5 387.5 397.4 392.5 391 396.5 384.4 400 375.9 404 367.3 407.5 351.7 412.5 334.4 416 316 418Z" fill="#dd2d00" fill-rule="evenodd"/>
<path d="M385.5 118.5 377.5 118.3 369.5 117.5 360.7 116 355 114.6 350.8 113 345.5 110.5 328.5 101 329.6 101 345.5 105.8 358.5 108.4 371.5 109.9 387.5 110.4 403.5 109.4 417.5 107.5 434 103.8 451 98.6 451.5 99 430.2 109 418.3 113.5 410.1 115.5 402 117 394 118 385.5 118.5ZM382.5 145.5 374 145.6 365.5 145.1 357.5 143.9 348.7 142 344.3 140.5 338.8 138 320.8 128 321.6 128 332 131.3 339.5 133.2 354 135.9 370 137.4 383 137.5 398 136.4 411.5 134.4 426 131.2 444.9 125.5 446.1 125.5 423.8 136 412 140.5 404 142.5 396.2 144 382.5 145.5ZM377 173 368.5 173.3 360 172.8 350 171.5 342 169.8 337 168.1 332.3 166 313.2 155.5 314.2 155.5 330.5 160.3 344 163 356.5 164.4 373.5 164.9 390 163.9 404 161.9 421 158.2 438 153.1 438.5 153.5 417.1 163.5 405.3 168 391 171.3 377 173ZM369 201.5 360.5 201.7 351.5 201.2 343 200 334 198.1 329.4 196.5 323.9 194 305.8 184 306 183.6 307.6 184 316.5 186.8 324.5 188.8 338.5 191.4 355 192.9 370 193 384 191.9 400.5 189.4 414.5 186.2 431.9 181 433 181 410.7 191.5 399.4 196 394.2 197.5 384.8 199.5 376.5 200.8 369 201.5ZM361.5 230.5 353 230.7 344 230.2 335.2 229 326 227 321.5 225.5 316 223 297.7 213 298 212.7 299.4 213 308.5 215.8 316.5 217.8 331 220.5 347 221.9 362.5 222 377 220.9 393.5 218.4 407.5 215.2 424.9 210 426 210 403.7 220.5 392.2 225 387 226.5 377.5 228.5 369 229.8 361.5 230.5ZM355 259.5 346.5 259.8 337.5 259.4 327.5 258 319 256.3 314 254.6 309.1 252.5 289.7 242 290 241.6 300.5 244.7 309 246.8 323.5 249.4 340.5 250.9 353.5 250.9 368.5 249.9 383 247.9 398 244.7 417.7 239 418.9 239 396.5 249.5 385.1 254 379.8 255.5 370.4 257.5 355 259.5ZM349.5 289 340 289.5 330.5 289.1 321.2 288 311.2 286 306.5 284.5 300.8 282 280.8 271 298.5 275.8 312 278.4 329 280.2 345 280.5 361.5 279.4 375.5 277.4 392.5 273.8 410.5 268.7 411 269 389.5 279 378.2 283.5 373 285 363.9 287 349.5 289ZM342 319 332.5 319.5 323 319.2 313.2 318 303.1 316 298.4 314.5 292.6 312 272.4 301 290 305.7 304 308.4 321 310.2 337.5 310.5 353.5 309.5 368 307.5 385.5 303.7 403.5 298.5 403.8 299 381 309.5 370.7 313.5 365.5 315 356.3 317 342 319ZM330.5 349.5 321.5 349.7 312.5 349.1 303.9 348 294.3 346 289.8 344.5 284.1 342 264.5 331.5 265 331.2 266.5 331.5 284 336.2 299.5 339 316.5 340.4 331 340.5 346.5 339.4 363.5 336.9 378 333.8 396.4 328.5 397.6 328.5 373.8 339.5 362.2 344 356.7 345.5 347.1 347.5 338.5 348.8 330.5 349.5ZM323 380.5 314 380.7 305 380.2 295.7 379 286 377 281.5 375.5 275.8 373 255.5 362 256.6 362 274 366.7 288.5 369.4 303 370.9 319.5 371.4 336.5 370.4 352 368.4 368 365.2 388.4 359.5 389.9 359.5 366.1 370.5 354.4 375 348.9 376.5 339.2 378.5 331 379.7 323 380.5ZM318 417 308 417.4 298.5 417.3 288.5 416.7 278.8 415.5 270.5 414 264.4 412.5 256.7 410 249.5 407 242.5 403.5 236 399.5 231.5 396 226.5 391.3 222 386.3 218.5 381.7 212 369.6 211.3 367.5 212 367.8 217.5 373.4 221.5 376.9 231.5 383.8 242 389.3 255 394.2 270 398.2 285.5 400.8 298.5 401.8 318.5 401.8 332.5 400.7 349 398.3 364.5 394.7 380.5 389.8 393 384.8 401.5 380.8 409 376.8 419.5 370.3 424.5 366.5 425 366.4 426.5 365 427 364.9 431.5 361 432 360.8 432.2 361 419 375.1 410.5 382.5 397.4 392 390.8 396 384.2 399.5 368.1 406.5 352.5 411.5 335.4 415 318 417Z" fill="#dd1000" fill-rule="evenodd"/>
<path d="M317.5 416 308 416.4 299 416.3 289.5 415.7 280.5 414.7 272 413.2 265 411.6 258 409.4 251 406.7 244 403.3 237.5 399.6 232.5 395.9 227.5 391.5 223 386.8 219 381.8 214.5 373.7 213.1 370 213.5 369.6 214 370 219 374.9 224 378.9 234 385.4 246.5 391.3 258 395.3 272 398.8 281 400.3 289.5 401.3 307 402.1 320 401.9 337 400.3 352 397.8 366.5 394.3 380.5 389.9 392 385.4 405.5 378.8 416.5 372.3 422.5 368 423 367.9 428 364 429 363.4 429.4 363.5 427 366.5 418.5 375.3 409 383.2 395.5 392.6 382.5 399.6 367 406 352 410.7 335 414.1 317.5 416Z" fill="#cf0000" fill-rule="evenodd"/>
<path d="M316 415 306.5 415.3 297.5 415.1 280.2 413.5 271.5 412 265.2 410.5 258.6 408.5 252 406 245.5 403 239 399.5 234.5 396.5 229 392 224 387.1 219.5 381.9 217 377.6 215.8 373 216 372.7 216.5 373 222.5 377.9 228 381.9 236.5 386.9 247.5 391.9 257.5 395.4 269 398.4 283.5 400.9 294 401.9 304 402.4 313.5 402.4 329.5 401.4 344.5 399.4 359 396.4 373.5 392.4 387.5 387.4 397.5 383 410 376.4 424.4 367 425 367 422.2 371 417.9 375.5 405.9 385 392.8 393.5 378.6 400.5 363 406.5 348.5 410.5 331.6 413.5 316 415Z" fill="#b10000" fill-rule="evenodd"/>
<path d="M318 411 301.5 411.3 285 410.1 269.5 407.6 257 404 250.4 401.5 243.8 398.5 238.2 395.5 232.9 392 226.5 386.8 220.5 380.9 219.8 379 219.7 377 220 376.8 221 377.3 226 381.2 232 385.3 240 389.7 250.5 394.2 261.5 397.8 272 400.3 285 402.3 297.5 403.4 313 403.6 327.5 402.8 340.5 401.2 356 398.3 369 394.8 381 390.8 393 385.9 406 379.2 417.6 372 418.5 371.6 418.8 372 416.5 375.4 409 381 401.4 386 389.8 392.5 375 399 361.9 403.5 348.1 407 333.6 409.5 318 411Z" fill="#930000" fill-rule="evenodd"/>
</g></g></g>
<polygon points="625.5,14 635,72 550.4,489.5 538.5,435.7" fill="#33ffe6" stroke="#33ffe6" stroke-width="0.8" stroke-linejoin="round"/>
<polygon points="635,72 639.5,117 559,541.6 550.4,489.5" fill="#00008b" stroke="#00008b" stroke-width="0.6" stroke-linejoin="round"/>
<polygon points="69,436 538.5,435.7 550.4,489.5 559,541.6 99.6,540.2" fill="url(#modeg)" stroke="#00008b" stroke-width="0.6" stroke-linejoin="round"/>
<rect x="39" y="37.1" width="22.1" height="264.5" fill="url(#cbg)" stroke="#000" stroke-width="1.7"/>
<path d="M38.3 58.8h4.5M61.8 58.8h-4.5M38.3 102.6h4.5M61.8 102.6h-4.5M38.3 146.8h4.5M61.8 146.8h-4.5M38.3 191.6h4.5M61.8 191.6h-4.5M38.3 235.2h4.5M61.8 235.2h-4.5M38.3 280.1h4.5M61.8 280.1h-4.5" stroke="#000" stroke-width="1.6" fill="none"/>
<g stroke="#262626" stroke-width="1.6" fill="none">
<rect x="767.6" y="1.2" width="634" height="500.4"/>
<path d="M831.5 501.6v-6.4M831.5 1.2v6.4M913.1 501.6v-6.4M913.1 1.2v6.4M995 501.6v-6.4M995 1.2v6.4M1076.8 501.6v-6.4M1076.8 1.2v6.4M1158.9 501.6v-6.4M1158.9 1.2v6.4M1240.8 501.6v-6.4M1240.8 1.2v6.4M1322.7 501.6v-6.4M1322.7 1.2v6.4M767.6 23.4h6.4M1401.6 23.4h-6.4M767.6 79h6.4M1401.6 79h-6.4M767.6 134.6h6.4M1401.6 134.6h-6.4M767.6 190.2h6.4M1401.6 190.2h-6.4M767.6 245.8h6.4M1401.6 245.8h-6.4M767.6 301.4h6.4M1401.6 301.4h-6.4M767.6 357h6.4M1401.6 357h-6.4M767.6 412.6h6.4M1401.6 412.6h-6.4M767.6 468.2h6.4M1401.6 468.2h-6.4"/>
</g>
<path d="M767.50 338.30 L772.00 337.00 L776.00 336.20 L780.00 335.00 L784.00 333.60 L788.00 333.00 L792.00 333.80 L796.00 334.60 L800.00 334.20 L804.00 334.80 L808.00 334.20 L812.00 334.80 L814.50 334.50 L815.00 333.37 L815.50 331.77 L816.00 329.78 L816.50 327.50 L817.00 325.00 L817.50 322.25 L818.00 319.10 L818.50 315.41 L819.00 311.08 L819.50 305.98 L820.00 300.00 L820.50 290.89 L821.00 278.02 L821.50 263.63 L822.00 250.00 L822.50 236.62 L823.00 222.65 L823.50 209.85 L824.00 200.00 L824.50 192.73 L825.00 186.40 L825.50 180.82 L826.00 175.81 L826.50 171.20 L827.00 166.81 L827.50 162.45 L828.00 157.95 L828.50 153.12 L829.00 147.81 L829.50 142.03 L830.00 135.97 L830.50 129.76 L831.00 123.58 L831.50 117.59 L832.00 111.93 L832.50 106.79 L833.00 102.30 L833.50 98.58 L834.00 95.16 L834.50 91.91 L835.00 88.84 L835.50 85.95 L836.00 83.24 L836.50 80.73 L837.00 78.40 L837.50 76.27 L838.00 74.35 L838.50 72.63 L839.00 71.08 L839.50 69.60 L840.00 68.20 L840.50 66.95 L841.00 65.88 L841.50 65.05 L842.00 64.50 L842.50 64.12 L843.00 63.81 L843.50 63.58 L844.00 63.50 L847.97 66.82 L848.71 70.14 L849.13 73.45 L849.33 76.77 L849.45 80.09 L849.54 83.41 L849.61 86.73 L849.67 90.05 L849.72 93.36 L849.76 96.68 L849.80 100.00 L849.91 109.17 L850.00 118.33 L850.08 127.50 L850.16 136.67 L850.22 145.83 L850.28 155.00 L850.34 164.17 L850.40 173.33 L850.46 182.50 L850.53 191.67 L850.61 200.83 L850.69 210.00 L850.76 219.17 L850.84 228.33 L850.92 237.50 L851.00 246.67 L851.08 255.83 L851.17 265.00 L851.27 274.17 L851.38 283.33 L851.50 292.50 L851.62 301.67 L851.77 310.83 L851.94 320.00 L852.14 329.17 L852.36 338.33 L852.61 347.50 L852.89 356.67 L853.22 365.83 L853.66 375.00 L854.18 384.17 L854.76 393.33 L855.37 402.50 L856.01 411.67 L856.74 420.83 L857.60 430.00 L858.65 439.17 L860.13 448.33 L863.30 457.50 L864.56 455.55 L865.81 449.55 L867.07 438.42 L868.32 422.30 L869.58 400.85 L870.84 373.02 L872.09 347.50 L873.35 321.73 L874.60 295.66 L875.86 267.42 L877.12 234.29 L878.37 209.77 L879.63 191.95 L880.88 176.95 L882.14 163.91 L883.40 152.47 L884.65 141.72 L885.91 132.44 L887.16 125.88 L888.42 120.95 L889.68 117.01 L890.93 113.81 L892.19 111.01 L893.44 108.69 L894.70 107.00 L895.48 193.59 L896.25 237.16 L897.03 268.77 L897.80 299.40 L898.58 328.05 L899.36 351.41 L900.13 369.73 L900.91 385.38 L901.69 398.58 L902.46 409.65 L903.24 419.38 L904.01 427.90 L904.79 435.29 L905.57 441.61 L906.34 447.02 L907.12 451.79 L907.90 456.25 L908.67 460.57 L909.45 464.45 L910.22 467.50 L911.00 469.80 L912.24 467.87 L913.48 461.93 L914.72 450.92 L915.96 434.97 L917.20 413.74 L918.44 386.22 L919.68 360.96 L920.92 335.46 L922.16 309.67 L923.40 281.72 L924.64 248.95 L925.88 224.68 L927.12 207.05 L928.36 192.21 L929.60 179.31 L930.84 167.99 L932.08 157.36 L933.32 148.18 L934.56 141.68 L935.80 136.80 L937.04 132.90 L938.28 129.74 L939.52 126.97 L940.76 124.67 L942.00 123.00 L942.70 206.04 L943.41 247.82 L944.11 278.13 L944.82 307.49 L945.52 334.97 L946.23 357.37 L946.93 374.94 L947.64 389.95 L948.34 402.60 L949.05 413.22 L949.75 422.55 L950.46 430.72 L951.16 437.81 L951.87 443.87 L952.57 449.05 L953.28 453.63 L953.98 457.90 L954.69 462.05 L955.39 465.77 L956.10 468.69 L956.80 470.90 L958.10 468.95 L959.40 462.93 L960.70 451.77 L962.00 435.61 L963.30 414.10 L964.60 386.21 L965.90 360.61 L967.20 334.78 L968.50 308.65 L969.80 280.33 L971.10 247.12 L972.40 222.53 L973.70 204.66 L975.00 189.63 L976.30 176.56 L977.60 165.09 L978.90 154.31 L980.20 145.01 L981.50 138.43 L982.80 133.49 L984.10 129.53 L985.40 126.33 L986.70 123.52 L988.00 121.19 L989.30 119.50 L990.00 204.18 L990.70 246.79 L991.40 277.71 L992.10 307.65 L992.80 335.67 L993.50 358.52 L994.20 376.44 L994.90 391.74 L995.60 404.65 L996.30 415.48 L997.00 424.99 L997.70 433.32 L998.40 440.55 L999.10 446.73 L999.80 452.02 L1000.50 456.69 L1001.20 461.05 L1001.90 465.27 L1002.60 469.07 L1003.30 472.05 L1004.00 474.30 L1005.30 472.34 L1006.60 466.31 L1007.90 455.12 L1009.20 438.92 L1010.50 417.36 L1011.80 389.39 L1013.10 363.73 L1014.40 337.83 L1015.70 311.63 L1017.00 283.24 L1018.30 249.95 L1019.60 225.29 L1020.90 207.38 L1022.20 192.31 L1023.50 179.21 L1024.80 167.70 L1026.10 156.90 L1027.40 147.57 L1028.70 140.98 L1030.00 136.02 L1031.30 132.06 L1032.60 128.84 L1033.90 126.03 L1035.20 123.69 L1036.50 122.00 L1037.24 206.80 L1037.98 249.47 L1038.71 280.43 L1039.45 310.42 L1040.19 338.48 L1040.93 361.36 L1041.67 379.30 L1042.40 394.62 L1043.14 407.55 L1043.88 418.40 L1044.62 427.92 L1045.36 436.26 L1046.10 443.50 L1046.83 449.70 L1047.57 454.99 L1048.31 459.66 L1049.05 464.03 L1049.79 468.26 L1050.52 472.06 L1051.26 475.04 L1052.00 477.30 L1053.23 475.34 L1054.46 469.32 L1055.68 458.15 L1056.91 441.97 L1058.14 420.44 L1059.37 392.51 L1060.60 366.89 L1061.82 341.02 L1063.05 314.86 L1064.28 286.51 L1065.51 253.27 L1066.74 228.65 L1067.96 210.76 L1069.19 195.71 L1070.42 182.62 L1071.65 171.14 L1072.88 160.35 L1074.10 151.04 L1075.33 144.45 L1076.56 139.50 L1077.79 135.54 L1079.02 132.33 L1080.24 129.53 L1081.47 127.19 L1082.70 125.50 L1083.49 209.04 L1084.27 251.07 L1085.06 281.57 L1085.84 311.11 L1086.63 338.75 L1087.41 361.29 L1088.20 378.96 L1088.99 394.06 L1089.77 406.79 L1090.56 417.48 L1091.34 426.86 L1092.13 435.08 L1092.91 442.21 L1093.70 448.31 L1094.49 453.52 L1095.27 458.13 L1096.06 462.42 L1096.84 466.60 L1097.63 470.34 L1098.41 473.28 L1099.20 475.50 L1100.43 473.55 L1101.66 467.54 L1102.90 456.39 L1104.13 440.25 L1105.36 418.77 L1106.59 390.90 L1107.82 365.34 L1109.06 339.53 L1110.29 313.43 L1111.52 285.14 L1112.75 251.97 L1113.98 227.41 L1115.22 209.57 L1116.45 194.55 L1117.68 181.49 L1118.91 170.03 L1120.14 159.27 L1121.38 149.98 L1122.61 143.41 L1123.84 138.47 L1125.07 134.52 L1126.30 131.32 L1127.54 128.52 L1128.77 126.19 L1130.00 124.50 L1130.76 208.28 L1131.51 250.43 L1132.27 281.01 L1133.03 310.64 L1133.79 338.36 L1134.54 360.96 L1135.30 378.68 L1136.06 393.83 L1136.81 406.59 L1137.57 417.31 L1138.33 426.72 L1139.09 434.96 L1139.84 442.11 L1140.60 448.23 L1141.36 453.46 L1142.11 458.08 L1142.87 462.39 L1143.63 466.57 L1144.39 470.32 L1145.14 473.27 L1145.90 475.50 L1147.16 473.53 L1148.41 467.46 L1149.67 456.20 L1150.92 439.90 L1152.18 418.20 L1153.44 390.06 L1154.69 364.24 L1155.95 338.18 L1157.20 311.82 L1158.46 283.25 L1159.72 249.75 L1160.97 224.94 L1162.23 206.92 L1163.48 191.75 L1164.74 178.56 L1166.00 166.99 L1167.25 156.12 L1168.51 146.73 L1169.76 140.10 L1171.02 135.11 L1172.28 131.12 L1173.53 127.89 L1174.79 125.06 L1176.04 122.70 L1177.30 121.00 L1178.10 206.04 L1178.89 248.83 L1179.69 279.87 L1180.48 309.95 L1181.28 338.09 L1182.07 361.03 L1182.87 379.02 L1183.66 394.39 L1184.46 407.35 L1185.25 418.23 L1186.05 427.78 L1186.84 436.15 L1187.64 443.41 L1188.43 449.62 L1189.23 454.92 L1190.02 459.61 L1190.82 463.99 L1191.61 468.24 L1192.41 472.05 L1193.20 475.04 L1194.00 477.30 L1195.20 475.31 L1196.40 469.18 L1197.60 457.82 L1198.80 441.37 L1200.00 419.47 L1201.20 391.06 L1202.40 365.01 L1203.60 338.70 L1204.80 312.09 L1206.00 283.26 L1207.20 249.44 L1208.40 224.41 L1209.60 206.22 L1210.80 190.91 L1212.00 177.60 L1213.20 165.92 L1214.40 154.94 L1215.60 145.47 L1216.80 138.77 L1218.00 133.74 L1219.20 129.71 L1220.40 126.45 L1221.60 123.60 L1222.80 121.22 L1224.00 119.50 L1224.80 205.23 L1225.59 248.37 L1226.39 279.67 L1227.18 309.99 L1227.98 338.36 L1228.77 361.48 L1229.57 379.62 L1230.36 395.12 L1231.16 408.18 L1231.95 419.15 L1232.75 428.78 L1233.54 437.21 L1234.34 444.53 L1235.13 450.79 L1235.93 456.14 L1236.72 460.87 L1237.52 465.28 L1238.31 469.56 L1239.11 473.40 L1239.90 476.42 L1240.70 478.70 L1241.90 476.74 L1243.11 470.70 L1244.31 459.50 L1245.52 443.28 L1246.72 421.69 L1247.92 393.69 L1249.13 368.01 L1250.33 342.07 L1251.54 315.85 L1252.74 287.42 L1253.94 254.09 L1255.15 229.41 L1256.35 211.48 L1257.56 196.39 L1258.76 183.27 L1259.96 171.75 L1261.17 160.94 L1262.37 151.60 L1263.58 145.00 L1264.78 140.04 L1265.98 136.07 L1267.19 132.85 L1268.39 130.04 L1269.60 127.70 L1270.80 126.00 L1271.59 209.73 L1272.37 251.86 L1273.16 282.42 L1273.94 312.03 L1274.73 339.74 L1275.51 362.32 L1276.30 380.04 L1277.09 395.17 L1277.87 407.93 L1278.66 418.64 L1279.44 428.04 L1280.23 436.28 L1281.01 443.43 L1281.80 449.55 L1282.59 454.77 L1283.37 459.39 L1284.16 463.70 L1284.94 467.88 L1285.73 471.63 L1286.51 474.57 L1287.30 476.80 L1288.58 474.85 L1289.86 468.83 L1291.14 457.68 L1292.42 441.52 L1293.70 420.02 L1294.98 392.13 L1296.26 366.55 L1297.54 340.72 L1298.82 314.59 L1300.10 286.28 L1301.38 253.08 L1302.66 228.50 L1303.94 210.64 L1305.22 195.61 L1306.50 182.54 L1307.78 171.07 L1309.06 160.30 L1310.34 151.00 L1311.62 144.42 L1312.90 139.48 L1314.18 135.53 L1315.46 132.32 L1316.74 129.52 L1318.02 127.19 L1319.30 125.50 L1320.00 209.80 L1320.70 252.22 L1321.40 282.99 L1322.10 312.81 L1322.80 340.70 L1323.50 363.44 L1324.20 381.28 L1324.90 396.51 L1325.60 409.36 L1326.30 420.15 L1327.00 429.61 L1327.70 437.91 L1328.40 445.10 L1329.10 451.26 L1329.80 456.52 L1330.50 461.17 L1331.20 465.51 L1331.90 469.72 L1332.60 473.49 L1333.30 476.46 L1334.00 478.70 L1334.50 477.16 L1335.00 475.27 L1335.50 473.06 L1336.00 470.58 L1336.50 467.88 L1337.00 465.00 L1337.50 461.57 L1338.00 457.41 L1338.50 452.84 L1339.00 448.20 L1339.50 443.81 L1340.00 440.00 L1340.50 436.64 L1341.00 433.38 L1341.50 430.24 L1342.00 427.20 L1342.50 424.30 L1343.00 421.53 L1343.50 418.91 L1344.00 416.44 L1344.50 414.13 L1345.00 412.00 L1345.50 410.00 L1346.00 408.07 L1346.50 406.22 L1347.00 404.44 L1347.50 402.73 L1348.00 401.09 L1348.50 399.51 L1349.00 397.99 L1349.50 396.53 L1350.00 395.13 L1350.50 393.77 L1351.00 392.47 L1351.50 391.21 L1352.00 390.00 L1352.50 388.83 L1353.00 387.70 L1353.50 386.61 L1354.00 385.56 L1354.50 384.54 L1355.00 383.56 L1355.50 382.60 L1356.00 381.67 L1356.50 380.76 L1357.00 379.88 L1357.50 379.01 L1358.00 378.16 L1358.50 377.32 L1359.00 376.49 L1359.50 375.67 L1360.00 374.86 L1360.50 374.07 L1361.00 373.29 L1361.50 372.52 L1362.00 371.76 L1362.50 371.02 L1363.00 370.29 L1363.50 369.57 L1364.00 368.87 L1364.50 368.19 L1365.00 367.52 L1365.50 366.87 L1366.00 366.23 L1366.50 365.61 L1367.00 365.00 L1367.50 364.40 L1368.00 363.81 L1368.50 363.22 L1369.00 362.63 L1369.50 362.05 L1370.00 361.48 L1370.50 360.92 L1371.00 360.38 L1371.50 359.85 L1372.00 359.34 L1372.50 358.84 L1373.00 358.37 L1373.50 357.92 L1374.00 357.49 L1374.50 357.09 L1375.00 356.71 L1375.50 356.36 L1376.00 356.04 L1376.50 355.72 L1377.00 355.42 L1377.50 355.14 L1378.00 354.86 L1378.50 354.60 L1379.00 354.35 L1379.50 354.11 L1380.00 353.87 L1380.50 353.64 L1381.00 353.42 L1381.50 353.21 L1382.00 353.00 L1382.50 352.80 L1383.00 352.61 L1383.50 352.43 L1384.00 352.26 L1384.50 352.09 L1385.00 351.93 L1385.50 351.78 L1386.00 351.62 L1386.50 351.46 L1387.00 351.30 L1387.50 351.13 L1388.00 350.96 L1388.50 350.78 L1389.00 350.58 L1389.50 350.38 L1390.00 350.16 L1390.50 349.94 L1391.00 349.71 L1391.50 349.48 L1392.00 349.25 L1392.50 349.02 L1393.00 348.80 L1393.50 348.58 L1394.00 348.38 L1394.50 348.18 L1395.00 348.00 L1395.50 347.83 L1396.00 347.66 L1396.50 347.50 L1397.00 347.34 L1397.50 347.18 L1398.00 347.03 L1398.50 346.88 L1399.00 346.74 L1399.50 346.60 L1400.00 346.47 L1400.50 346.34 L1401.00 346.22 L1401.50 346.11 L1402.00 346.00" fill="none" stroke="#0000ff" stroke-width="6.4" stroke-linejoin="round" stroke-linecap="round"/>
<path d="M1121 106.2 L1146 94.5 Q1139 106.2 1146 118 Z M1178.5 106.2 L1153.5 94.5 Q1160.5 106.2 1153.5 118 Z" fill="#000"/>
<path d="M1140 106.2 H1160" stroke="#000" stroke-width="2.1"/>
<g stroke="#262626" stroke-width="1.6" fill="none">
<rect x="1524.6" y="1.5" width="441" height="500.8"/>
<path d="M1612.4 502.3v-6.4M1612.4 1.5v6.4M1700.5 502.3v-6.4M1700.5 1.5v6.4M1788.6 502.3v-6.4M1788.6 1.5v6.4M1876.8 502.3v-6.4M1876.8 1.5v6.4M1524.6 52h6.4M1965.6 52h-6.4M1524.6 102.1h6.4M1965.6 102.1h-6.4M1524.6 152.1h6.4M1965.6 152.1h-6.4M1524.6 202.1h6.4M1965.6 202.1h-6.4M1524.6 252.2h6.4M1965.6 252.2h-6.4M1524.6 302.2h6.4M1965.6 302.2h-6.4M1524.6 352.2h6.4M1965.6 352.2h-6.4M1524.6 402.2h6.4M1965.6 402.2h-6.4M1524.6 452.3h6.4M1965.6 452.3h-6.4"/>
</g>
<path d="M1524.60 5.95 L1525.60 5.96 L1526.60 5.97 L1527.60 5.98 L1528.60 5.99 L1529.60 6.00 L1530.60 6.01 L1531.60 6.02 L1532.60 6.03 L1533.60 6.04 L1534.60 6.05 L1535.60 6.06 L1536.60 6.07 L1537.60 6.08 L1538.60 6.09 L1539.60 6.10 L1540.60 6.11 L1541.60 6.12 L1542.60 6.13 L1543.60 6.14 L1544.60 6.15 L1545.60 6.17 L1546.60 6.18 L1547.60 6.19 L1548.60 6.20 L1549.60 6.21 L1550.60 6.23 L1551.60 6.24 L1552.60 6.25 L1553.60 6.27 L1554.60 6.28 L1555.60 6.29 L1556.60 6.31 L1557.60 6.32 L1558.60 6.33 L1559.60 6.35 L1560.60 6.36 L1561.60 6.38 L1562.60 6.39 L1563.60 6.41 L1564.60 6.43 L1565.60 6.44 L1566.60 6.46 L1567.60 6.47 L1568.60 6.49 L1569.60 6.51 L1570.60 6.53 L1571.60 6.54 L1572.60 6.56 L1573.60 6.58 L1574.60 6.60 L1575.60 6.62 L1576.60 6.64 L1577.60 6.66 L1578.60 6.68 L1579.60 6.70 L1580.60 6.72 L1581.60 6.74 L1582.60 6.76 L1583.60 6.78 L1584.60 6.81 L1585.60 6.83 L1586.60 6.85 L1587.60 6.88 L1588.60 6.90 L1589.60 6.92 L1590.60 6.95 L1591.60 6.98 L1592.60 7.00 L1593.60 7.03 L1594.60 7.05 L1595.60 7.08 L1596.60 7.11 L1597.60 7.14 L1598.60 7.17 L1599.60 7.20 L1600.60 7.23 L1601.60 7.26 L1602.60 7.29 L1603.60 7.33 L1604.60 7.36 L1605.60 7.39 L1606.60 7.43 L1607.60 7.46 L1608.60 7.50 L1609.60 7.54 L1610.60 7.57 L1611.60 7.61 L1612.60 7.65 L1613.60 7.69 L1614.60 7.74 L1615.60 7.78 L1616.60 7.82 L1617.60 7.87 L1618.60 7.91 L1619.60 7.96 L1620.60 8.00 L1621.60 8.05 L1622.60 8.10 L1623.60 8.15 L1624.60 8.21 L1625.60 8.26 L1626.60 8.32 L1627.60 8.37 L1628.60 8.43 L1629.60 8.49 L1630.60 8.55 L1631.60 8.61 L1632.60 8.68 L1633.60 8.74 L1634.60 8.81 L1635.60 8.88 L1636.60 8.95 L1637.60 9.02 L1638.60 9.10 L1639.60 9.18 L1640.60 9.26 L1641.60 9.34 L1642.60 9.42 L1643.60 9.51 L1644.60 9.60 L1645.60 9.69 L1646.60 9.78 L1647.60 9.88 L1648.60 9.98 L1649.60 10.08 L1650.60 10.19 L1651.60 10.30 L1652.60 10.41 L1653.60 10.53 L1654.60 10.65 L1655.60 10.77 L1656.60 10.90 L1657.60 11.03 L1658.60 11.17 L1659.60 11.31 L1660.60 11.46 L1661.60 11.61 L1662.60 11.76 L1663.60 11.92 L1664.60 12.09 L1665.60 12.26 L1666.60 12.44 L1667.60 12.63 L1668.60 12.82 L1669.60 13.02 L1670.60 13.23 L1671.60 13.44 L1672.60 13.66 L1673.60 13.89 L1674.60 14.13 L1675.60 14.38 L1676.60 14.64 L1677.60 14.91 L1678.60 15.19 L1679.60 15.49 L1680.60 15.79 L1681.60 16.11 L1682.60 16.44 L1683.60 16.78 L1684.60 17.14 L1685.60 17.51 L1686.60 17.91 L1687.60 18.31 L1688.60 18.74 L1689.60 19.19 L1690.60 19.65 L1691.60 20.14 L1692.60 20.65 L1693.60 21.19 L1694.60 21.75 L1695.60 22.33 L1696.60 22.95 L1697.60 23.59 L1698.60 24.27 L1699.60 24.98 L1700.60 25.72 L1701.60 26.50 L1702.60 27.33 L1703.60 28.19 L1704.60 29.09 L1705.60 30.04 L1706.60 31.04 L1707.60 32.09 L1708.60 33.19 L1709.60 34.35 L1710.60 35.56 L1711.60 36.84 L1712.60 38.17 L1713.60 39.57 L1714.60 41.03 L1715.60 42.56 L1716.60 44.16 L1717.60 45.83 L1718.60 47.56 L1719.60 49.36 L1720.60 51.22 L1721.60 53.14 L1722.60 55.12 L1723.60 57.14 L1724.60 59.21 L1725.60 61.30 L1726.60 63.41 L1727.60 65.52 L1728.60 67.61 L1729.60 69.66 L1730.60 71.66 L1731.60 73.57 L1732.60 75.37 L1733.60 77.05 L1734.60 78.55 L1735.60 79.88 L1736.60 80.99 L1737.60 81.88 L1738.60 82.51 L1739.60 82.89 L1740.60 83.00 L1741.60 82.81 L1742.60 82.33 L1743.60 81.55 L1744.60 80.49 L1745.60 79.19 L1746.60 77.66 L1747.60 75.94 L1748.60 74.05 L1749.60 72.03 L1750.60 69.92 L1751.60 67.73 L1752.60 65.50 L1753.60 63.25 L1754.60 61.01 L1755.60 58.78 L1756.60 56.59 L1757.60 54.44 L1758.60 52.36 L1759.60 50.33 L1760.60 48.38 L1761.60 46.50 L1762.60 44.70 L1763.60 42.97 L1764.60 41.33 L1765.60 39.75 L1766.60 38.25 L1767.60 36.83 L1768.60 35.47 L1769.60 34.18 L1770.60 32.96 L1771.60 31.80 L1772.60 30.70 L1773.60 29.65 L1774.60 28.66 L1775.60 27.72 L1776.60 26.82 L1777.60 25.97 L1778.60 25.17 L1779.60 24.40 L1780.60 23.68 L1781.60 22.99 L1782.60 22.33 L1783.60 21.70 L1784.60 21.11 L1785.60 20.54 L1786.60 20.01 L1787.60 19.49 L1788.60 19.00 L1789.60 18.54 L1790.60 18.09 L1791.60 17.67 L1792.60 17.26 L1793.60 16.87 L1794.60 16.50 L1795.60 16.15 L1796.60 15.81 L1797.60 15.48 L1798.60 15.17 L1799.60 14.87 L1800.60 14.59 L1801.60 14.31 L1802.60 14.05 L1803.60 13.80 L1804.60 13.56 L1805.60 13.32 L1806.60 13.10 L1807.60 12.88 L1808.60 12.68 L1809.60 12.48 L1810.60 12.29 L1811.60 12.10 L1812.60 11.92 L1813.60 11.75 L1814.60 11.58 L1815.60 11.42 L1816.60 11.27 L1817.60 11.12 L1818.60 10.98 L1819.60 10.84 L1820.60 10.70 L1821.60 10.57 L1822.60 10.45 L1823.60 10.33 L1824.60 10.21 L1825.60 10.10 L1826.60 9.99 L1827.60 9.88 L1828.60 9.78 L1829.60 9.68 L1830.60 9.58 L1831.60 9.48 L1832.60 9.39 L1833.60 9.30 L1834.60 9.22 L1835.60 9.13 L1836.60 9.05 L1837.60 8.97 L1838.60 8.90 L1839.60 8.82 L1840.60 8.75 L1841.60 8.68 L1842.60 8.61 L1843.60 8.55 L1844.60 8.48 L1845.60 8.42 L1846.60 8.36 L1847.60 8.30 L1848.60 8.24 L1849.60 8.18 L1850.60 8.13 L1851.60 8.07 L1852.60 8.02 L1853.60 7.97 L1854.60 7.92 L1855.60 7.87 L1856.60 7.82 L1857.60 7.78 L1858.60 7.73 L1859.60 7.69 L1860.60 7.64 L1861.60 7.60 L1862.60 7.56 L1863.60 7.52 L1864.60 7.48 L1865.60 7.44 L1866.60 7.41 L1867.60 7.37 L1868.60 7.33 L1869.60 7.30 L1870.60 7.27 L1871.60 7.23 L1872.60 7.20 L1873.60 7.17 L1874.60 7.14 L1875.60 7.11 L1876.60 7.08 L1877.60 7.05 L1878.60 7.02 L1879.60 6.99 L1880.60 6.96 L1881.60 6.93 L1882.60 6.91 L1883.60 6.88 L1884.60 6.86 L1885.60 6.83 L1886.60 6.81 L1887.60 6.78 L1888.60 6.76 L1889.60 6.74 L1890.60 6.71 L1891.60 6.69 L1892.60 6.67 L1893.60 6.65 L1894.60 6.63 L1895.60 6.61 L1896.60 6.59 L1897.60 6.57 L1898.60 6.55 L1899.60 6.53 L1900.60 6.51 L1901.60 6.49 L1902.60 6.47 L1903.60 6.46 L1904.60 6.44 L1905.60 6.42 L1906.60 6.41 L1907.60 6.39 L1908.60 6.37 L1909.60 6.36 L1910.60 6.34 L1911.60 6.33 L1912.60 6.31 L1913.60 6.30 L1914.60 6.28 L1915.60 6.27 L1916.60 6.25 L1917.60 6.24 L1918.60 6.23 L1919.60 6.21 L1920.60 6.20 L1921.60 6.19 L1922.60 6.17 L1923.60 6.16 L1924.60 6.15 L1925.60 6.14 L1926.60 6.12 L1927.60 6.11 L1928.60 6.10 L1929.60 6.09 L1930.60 6.08 L1931.60 6.07 L1932.60 6.06 L1933.60 6.04 L1934.60 6.03 L1935.60 6.02 L1936.60 6.01 L1937.60 6.00 L1938.60 5.99 L1939.60 5.98 L1940.60 5.97 L1941.60 5.96 L1942.60 5.95 L1943.60 5.95 L1944.60 5.94 L1945.60 5.93 L1946.60 5.92 L1947.60 5.91 L1948.60 5.90 L1949.60 5.89 L1950.60 5.88 L1951.60 5.88 L1952.60 5.87 L1953.60 5.86 L1954.60 5.85 L1955.60 5.84 L1956.60 5.84 L1957.60 5.83 L1958.60 5.82 L1959.60 5.81 L1960.60 5.81 L1961.60 5.80 L1962.60 5.79 L1963.60 5.79 L1964.60 5.78 L1965.60 5.77" fill="none" stroke="#0000ff" stroke-width="7.4" stroke-linejoin="round" stroke-linecap="round"/>
<path d="M1524.60 499.45 L1525.60 499.44 L1526.60 499.44 L1527.60 499.44 L1528.60 499.43 L1529.60 499.43 L1530.60 499.43 L1531.60 499.42 L1532.60 499.42 L1533.60 499.41 L1534.60 499.41 L1535.60 499.41 L1536.60 499.40 L1537.60 499.40 L1538.60 499.40 L1539.60 499.39 L1540.60 499.39 L1541.60 499.38 L1542.60 499.38 L1543.60 499.38 L1544.60 499.37 L1545.60 499.37 L1546.60 499.36 L1547.60 499.36 L1548.60 499.35 L1549.60 499.35 L1550.60 499.34 L1551.60 499.34 L1552.60 499.34 L1553.60 499.33 L1554.60 499.33 L1555.60 499.32 L1556.60 499.32 L1557.60 499.31 L1558.60 499.30 L1559.60 499.30 L1560.60 499.29 L1561.60 499.29 L1562.60 499.28 L1563.60 499.28 L1564.60 499.27 L1565.60 499.27 L1566.60 499.26 L1567.60 499.25 L1568.60 499.25 L1569.60 499.24 L1570.60 499.24 L1571.60 499.23 L1572.60 499.22 L1573.60 499.22 L1574.60 499.21 L1575.60 499.20 L1576.60 499.19 L1577.60 499.19 L1578.60 499.18 L1579.60 499.17 L1580.60 499.16 L1581.60 499.16 L1582.60 499.15 L1583.60 499.14 L1584.60 499.13 L1585.60 499.13 L1586.60 499.12 L1587.60 499.11 L1588.60 499.10 L1589.60 499.09 L1590.60 499.08 L1591.60 499.07 L1592.60 499.06 L1593.60 499.05 L1594.60 499.04 L1595.60 499.03 L1596.60 499.02 L1597.60 499.01 L1598.60 499.00 L1599.60 498.99 L1600.60 498.98 L1601.60 498.97 L1602.60 498.96 L1603.60 498.95 L1604.60 498.93 L1605.60 498.92 L1606.60 498.91 L1607.60 498.90 L1608.60 498.88 L1609.60 498.87 L1610.60 498.86 L1611.60 498.84 L1612.60 498.83 L1613.60 498.81 L1614.60 498.80 L1615.60 498.78 L1616.60 498.77 L1617.60 498.75 L1618.60 498.73 L1619.60 498.72 L1620.60 498.70 L1621.60 498.68 L1622.60 498.67 L1623.60 498.65 L1624.60 498.63 L1625.60 498.61 L1626.60 498.59 L1627.60 498.57 L1628.60 498.55 L1629.60 498.53 L1630.60 498.50 L1631.60 498.48 L1632.60 498.46 L1633.60 498.44 L1634.60 498.41 L1635.60 498.39 L1636.60 498.36 L1637.60 498.34 L1638.60 498.31 L1639.60 498.28 L1640.60 498.25 L1641.60 498.22 L1642.60 498.19 L1643.60 498.16 L1644.60 498.13 L1645.60 498.10 L1646.60 498.07 L1647.60 498.03 L1648.60 498.00 L1649.60 497.96 L1650.60 497.92 L1651.60 497.88 L1652.60 497.84 L1653.60 497.80 L1654.60 497.76 L1655.60 497.71 L1656.60 497.67 L1657.60 497.62 L1658.60 497.57 L1659.60 497.52 L1660.60 497.47 L1661.60 497.42 L1662.60 497.36 L1663.60 497.31 L1664.60 497.25 L1665.60 497.19 L1666.60 497.12 L1667.60 497.06 L1668.60 496.99 L1669.60 496.92 L1670.60 496.85 L1671.60 496.77 L1672.60 496.69 L1673.60 496.61 L1674.60 496.52 L1675.60 496.44 L1676.60 496.35 L1677.60 496.25 L1678.60 496.15 L1679.60 496.05 L1680.60 495.94 L1681.60 495.83 L1682.60 495.71 L1683.60 495.59 L1684.60 495.46 L1685.60 495.33 L1686.60 495.19 L1687.60 495.05 L1688.60 494.89 L1689.60 494.74 L1690.60 494.57 L1691.60 494.40 L1692.60 494.21 L1693.60 494.02 L1694.60 493.82 L1695.60 493.61 L1696.60 493.39 L1697.60 493.16 L1698.60 492.91 L1699.60 492.66 L1700.60 492.39 L1701.60 492.10 L1702.60 491.80 L1703.60 491.49 L1704.60 491.15 L1705.60 490.80 L1706.60 490.43 L1707.60 490.03 L1708.60 489.62 L1709.60 489.18 L1710.60 488.71 L1711.60 488.22 L1712.60 487.70 L1713.60 487.15 L1714.60 486.56 L1715.60 485.95 L1716.60 485.29 L1717.60 484.60 L1718.60 483.87 L1719.60 483.09 L1720.60 482.28 L1721.60 481.41 L1722.60 480.51 L1723.60 479.55 L1724.60 478.55 L1725.60 477.50 L1726.60 476.41 L1727.60 475.27 L1728.60 474.10 L1729.60 472.89 L1730.60 471.65 L1731.60 470.39 L1732.60 469.13 L1733.60 467.87 L1734.60 466.63 L1735.60 465.43 L1736.60 464.29 L1737.60 463.22 L1738.60 462.25 L1739.60 461.40 L1740.60 460.68 L1741.60 460.13 L1742.60 459.74 L1743.60 459.53 L1744.60 459.57 L1745.60 459.80 L1746.60 460.09 L1747.60 460.44 L1748.60 460.83 L1749.60 461.27 L1750.60 461.82 L1751.60 462.45 L1752.60 463.15 L1753.60 463.90 L1754.60 464.68 L1755.60 465.49 L1756.60 466.39 L1757.60 467.37 L1758.60 468.41 L1759.60 469.47 L1760.60 470.55 L1761.60 471.62 L1762.60 472.65 L1763.60 473.63 L1764.60 474.55 L1765.60 475.47 L1766.60 476.39 L1767.60 477.30 L1768.60 478.19 L1769.60 479.04 L1770.60 479.84 L1771.60 480.59 L1772.60 481.26 L1773.60 481.85 L1774.60 482.43 L1775.60 482.99 L1776.60 483.53 L1777.60 484.06 L1778.60 484.56 L1779.60 485.05 L1780.60 485.52 L1781.60 485.96 L1782.60 486.38 L1783.60 486.78 L1784.60 487.16 L1785.60 487.51 L1786.60 487.83 L1787.60 488.13 L1788.60 488.40 L1789.60 488.65 L1790.60 488.90 L1791.60 489.13 L1792.60 489.36 L1793.60 489.58 L1794.60 489.79 L1795.60 489.99 L1796.60 490.18 L1797.60 490.37 L1798.60 490.55 L1799.60 490.72 L1800.60 490.88 L1801.60 491.04 L1802.60 491.19 L1803.60 491.34 L1804.60 491.47 L1805.60 491.60 L1806.60 491.73 L1807.60 491.84 L1808.60 491.96 L1809.60 492.06 L1810.60 492.17 L1811.60 492.26 L1812.60 492.36 L1813.60 492.45 L1814.60 492.54 L1815.60 492.62 L1816.60 492.71 L1817.60 492.78 L1818.60 492.86 L1819.60 492.93 L1820.60 493.01 L1821.60 493.08 L1822.60 493.14 L1823.60 493.21 L1824.60 493.27 L1825.60 493.34 L1826.60 493.40 L1827.60 493.46 L1828.60 493.52 L1829.60 493.58 L1830.60 493.63 L1831.60 493.69 L1832.60 493.75 L1833.60 493.80 L1834.60 493.86 L1835.60 493.91 L1836.60 493.97 L1837.60 494.02 L1838.60 494.07 L1839.60 494.13 L1840.60 494.18 L1841.60 494.23 L1842.60 494.28 L1843.60 494.33 L1844.60 494.37 L1845.60 494.42 L1846.60 494.47 L1847.60 494.52 L1848.60 494.56 L1849.60 494.61 L1850.60 494.65 L1851.60 494.70 L1852.60 494.74 L1853.60 494.79 L1854.60 494.83 L1855.60 494.87 L1856.60 494.91 L1857.60 494.96 L1858.60 495.00 L1859.60 495.04 L1860.60 495.08 L1861.60 495.12 L1862.60 495.15 L1863.60 495.19 L1864.60 495.23 L1865.60 495.27 L1866.60 495.31 L1867.60 495.34 L1868.60 495.38 L1869.60 495.41 L1870.60 495.45 L1871.60 495.48 L1872.60 495.52 L1873.60 495.55 L1874.60 495.59 L1875.60 495.62 L1876.60 495.65 L1877.60 495.69 L1878.60 495.72 L1879.60 495.75 L1880.60 495.78 L1881.60 495.82 L1882.60 495.85 L1883.60 495.88 L1884.60 495.91 L1885.60 495.94 L1886.60 495.97 L1887.60 496.00 L1888.60 496.03 L1889.60 496.06 L1890.60 496.09 L1891.60 496.12 L1892.60 496.15 L1893.60 496.18 L1894.60 496.21 L1895.60 496.24 L1896.60 496.26 L1897.60 496.29 L1898.60 496.32 L1899.60 496.35 L1900.60 496.37 L1901.60 496.40 L1902.60 496.42 L1903.60 496.45 L1904.60 496.47 L1905.60 496.50 L1906.60 496.52 L1907.60 496.55 L1908.60 496.57 L1909.60 496.59 L1910.60 496.61 L1911.60 496.64 L1912.60 496.66 L1913.60 496.68 L1914.60 496.70 L1915.60 496.72 L1916.60 496.74 L1917.60 496.76 L1918.60 496.78 L1919.60 496.79 L1920.60 496.81 L1921.60 496.83 L1922.60 496.84 L1923.60 496.86 L1924.60 496.88 L1925.60 496.90 L1926.60 496.91 L1927.60 496.93 L1928.60 496.95 L1929.60 496.96 L1930.60 496.98 L1931.60 496.99 L1932.60 497.01 L1933.60 497.03 L1934.60 497.04 L1935.60 497.06 L1936.60 497.07 L1937.60 497.09 L1938.60 497.10 L1939.60 497.12 L1940.60 497.13 L1941.60 497.14 L1942.60 497.16 L1943.60 497.17 L1944.60 497.18 L1945.60 497.20 L1946.60 497.21 L1947.60 497.22 L1948.60 497.24 L1949.60 497.25 L1950.60 497.26 L1951.60 497.27 L1952.60 497.28 L1953.60 497.29 L1954.60 497.30 L1955.60 497.31 L1956.60 497.32 L1957.60 497.33 L1958.60 497.34 L1959.60 497.35 L1960.60 497.36 L1961.60 497.37 L1962.60 497.37 L1963.60 497.38 L1964.60 497.39 L1965.60 497.39" fill="none" stroke="#ff0000" stroke-width="7" stroke-linejoin="round" stroke-linecap="round"/>
<path d="M1604.6 216.6H1662.5" stroke="#0000ff" stroke-width="12" stroke-linecap="round"/>
<path d="M1604.6 323.4H1662.5" stroke="#ff0000" stroke-width="12" stroke-linecap="round"/>
<g font-family="'Liberation Sans', Arial, Helvetica, sans-serif" fill="#000" stroke="#000" stroke-width="0.45" stroke-linejoin="round">
<text x="-0.5" y="33.75" font-size="39.1" font-weight="bold">a</text>
<text x="34.2" y="22.8" font-size="31.6" fill="#ff0000" stroke="#ff0000">Ge</text>
<text x="34.9" y="337.2" font-size="31.6" fill="#00009c" stroke="#00009c">Si</text>
<text x="73.35" y="67" font-size="31.6">0.8</text>
<text x="73.55" y="111.8" font-size="31.6">0.7</text>
<text x="71.75" y="156.4" font-size="31.6">0.6</text>
<text x="70.25" y="201.3" font-size="31.6">0.5</text>
<text x="70.25" y="246.1" font-size="31.6">0.4</text>
<text x="70.25" y="290.6" font-size="31.6">0.3</text>
<text x="469.95" y="524" font-size="31.6" fill="#ffffff" stroke="#ffffff">TE</text>
<text x="95.25" y="592.4" font-size="35.55">Transmitted intensity profile</text>
<text transform="translate(23.3 270.8) rotate(-90)" font-size="31.6">Si<tspan font-size="19.5" dy="4.8">1-<tspan font-style="italic">x</tspan></tspan><tspan dy="-4.8">Ge</tspan><tspan font-size="19.5" dy="4.8" font-style="italic">x</tspan><tspan dy="-4.8"> (mol)</tspan></text>
<text x="660.5" y="33.75" font-size="39.1" font-weight="bold">b</text>
<text x="700.15" y="35.4" font-size="31.6">0.85</text>
<text x="714.15" y="91" font-size="31.6">0.8</text>
<text x="700.15" y="146.6" font-size="31.6">0.75</text>
<text x="714.15" y="202.2" font-size="31.6">0.7</text>
<text x="700.15" y="257.8" font-size="31.6">0.65</text>
<text x="714.15" y="313.4" font-size="31.6">0.6</text>
<text x="700.15" y="369" font-size="31.6">0.55</text>
<text x="714.15" y="424.6" font-size="31.6">0.5</text>
<text x="700.15" y="480.2" font-size="31.6">0.45</text>
<text x="760.95" y="543.2" font-size="31.6">0</text>
<text x="807.62" y="543.2" font-size="31.6">0.5</text>
<text x="903.05" y="543.2" font-size="31.6">1</text>
<text x="972" y="543.2" font-size="31.6">1.5</text>
<text x="1068.05" y="543.2" font-size="31.6">2</text>
<text x="1137.3" y="543.2" font-size="31.6">2.5</text>
<text x="1233.25" y="543.2" font-size="31.6">3</text>
<text x="1302.83" y="543.2" font-size="31.6">3.5</text>
<text x="1388.75" y="543.2" font-size="31.6">4</text>
<text x="740.8" y="592" font-size="35.55">Longitudinal position on the top surface (μm)</text>
<text transform="translate(684.6 460.15) rotate(-90)" font-size="35.55">Ge molar fraction <tspan font-style="italic">x</tspan> (mol)</text>
<text x="1025.25" y="43.6" font-size="31.3">10 period Bragg grating</text>
<text x="1110.45" y="81.2" font-size="31.3"><tspan font-style="italic">Λ</tspan> = 285 nm</text>
<text x="1422.6" y="32.6" font-size="39.1" font-weight="bold">c</text>
<text x="1473.25" y="63.73" font-size="31.6">0.9</text>
<text x="1473.25" y="113.76" font-size="31.6">0.8</text>
<text x="1473.25" y="163.79" font-size="31.6">0.7</text>
<text x="1473.25" y="213.82" font-size="31.6">0.6</text>
<text x="1473.25" y="263.85" font-size="31.6">0.5</text>
<text x="1473.25" y="313.88" font-size="31.6">0.4</text>
<text x="1473.25" y="363.91" font-size="31.6">0.3</text>
<text x="1473.25" y="413.94" font-size="31.6">0.2</text>
<text x="1473.25" y="463.97" font-size="31.6">0.1</text>
<text x="1490.9" y="22.5" font-size="31.6">1</text>
<text x="1497.95" y="505.5" font-size="31.6">0</text>
<text x="1489.03" y="541.6" font-size="31.6">2034</text>
<text x="1578.65" y="541.6" font-size="31.6">2036</text>
<text x="1662.75" y="541.6" font-size="31.6">2038</text>
<text x="1755.35" y="541.6" font-size="31.6">2040</text>
<text x="1843.67" y="541.6" font-size="31.6">2042</text>
<text x="1925.62" y="541.6" font-size="31.6">2044</text>
<text x="1611.25" y="591.2" font-size="35.55">Wavelength (nm)</text>
<text transform="translate(1451 408.75) rotate(-90)" font-size="35.55">Optical power (a.u.)</text>
<text x="1693.85" y="226.5" font-size="31.6">Transmission</text>
<text x="1698.4" y="333" font-size="31.6">Reflection (×10)</text>
<g transform="translate(523.5 355.5) rotate(-77)" font-size="34"><text x="-1.5" y="0">Si<tspan font-size="24.5" dy="7">0.5</tspan><tspan dy="-7">Ge</tspan><tspan font-size="24.5" dy="7">0.5</tspan></text><text x="161.0" y="0">on Si</text></g>
</g>
</svg>
</body></html>
